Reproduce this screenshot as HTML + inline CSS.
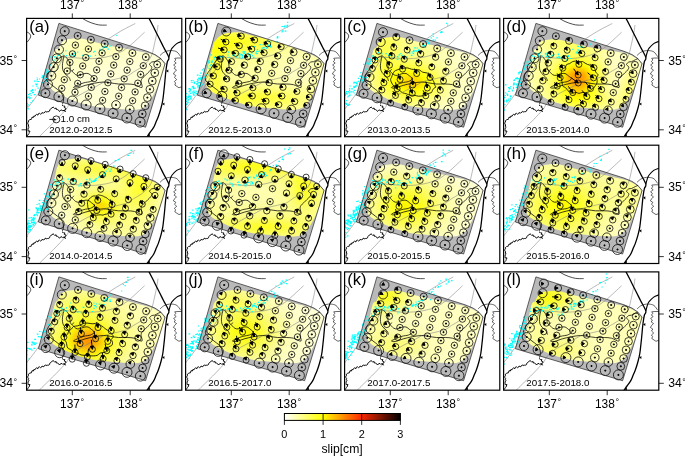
<!DOCTYPE html><html><head><meta charset="utf-8"><style>html,body{margin:0;padding:0;background:#fff;width:685px;height:456px;overflow:hidden}svg{display:block;will-change:transform}text{font-family:"Liberation Sans",sans-serif}</style></head><body>
<svg width="685" height="456" viewBox="0 0 685 456">
<defs>
<clipPath id="cf"><rect x="26.6" y="18.4" width="155.2" height="118.3"/></clipPath>
<clipPath id="ci0"><path d="M58.5,49 C59,48 60.2,44.6 61.5,43 C62.8,41.4 63.3,40.3 66.3,39.5 C69.3,38.7 75.1,37.9 79.5,38.2 C83.9,38.5 88.2,40.3 92.6,41.4 C97,42.5 101.4,43.7 105.8,44.7 C110.2,45.7 115,46.7 119,47.4 C123,48.2 126.5,48.7 130,49.4 C133.5,50 136.7,50.7 140,51.4 C143.3,52.1 147,52.5 150,53.5 C153,54.5 155.8,56.1 158,57.5 C160.2,58.9 162,60.4 163,62 C164,63.6 164.4,64.3 164,67 C163.6,69.7 161.8,74.3 160.5,78 C159.2,81.7 158.1,85.5 156.5,89 C154.9,92.5 152.8,96.2 151,99 C149.2,101.8 148.2,104.2 146,106 C143.8,107.8 140.7,108.9 138,109.5 C135.3,110.1 133.8,109.9 130,109.7 C126.2,109.5 119.9,108.9 115,108.5 C110.1,108.1 105.5,108.2 100.7,107.5 C95.9,106.8 90.8,105.8 86,104.6 C81.2,103.3 76.1,101.6 72,100 C67.9,98.4 64.4,96.5 61.3,95 C58.2,93.5 55.6,92.5 53.6,91 C51.6,89.5 50.4,88 49.5,86 C48.6,84 48.4,81.7 48.5,79 C48.6,76.3 49.3,73.2 50,70 C50.7,66.8 51.7,63.3 52.5,60 C53.3,56.7 54,51.8 55,50 C56,48.2 57.9,49.2 58.5,49"/></clipPath>
<clipPath id="ci1"><path d="M54.7,43 C55.5,42 57.8,38.6 59.7,37 C61.6,35.4 63,34.3 66.3,33.5 C69.6,32.7 75.1,31.9 79.5,32.2 C83.9,32.5 88.2,34.3 92.6,35.4 C97,36.5 101.4,37.6 105.8,38.7 C110.2,39.8 115,40.9 119,42.1 C123,43.3 126.5,44.7 130,45.9 C133.5,47.2 136.7,48.5 140,49.7 C143.3,51 147,52.2 150,53.5 C153,54.8 155.8,56.1 158,57.5 C160.2,58.9 162,60.4 163,62 C164,63.6 164.4,64.3 164,67 C163.6,69.7 161.8,74.3 160.5,78 C159.2,81.7 158.1,85.5 156.5,89 C154.9,92.5 152.8,96.2 151,99 C149.2,101.8 148.2,104.2 146,106 C143.8,107.8 140.7,108.9 138,109.5 C135.3,110.1 133.8,109.9 130,109.7 C126.2,109.5 119.9,108.9 115,108.5 C110.1,108.1 105.5,108.2 100.7,107.5 C95.9,106.8 90.8,105.8 86,104.6 C81.2,103.3 76.5,101.6 72,100 C67.5,98.4 62.7,96.5 59.3,95 C55.9,93.5 53.6,92.5 51.6,91 C49.6,89.5 48.4,88 47.5,86 C46.6,84 46.4,81.7 46.5,79 C46.6,76.3 47.3,73.2 48,70 C48.7,66.8 49.7,63.3 50.5,60 C51.3,56.7 52.3,52.8 53,50 C53.7,47.2 54.4,44.2 54.7,43"/></clipPath>
<clipPath id="ci2"><path d="M58.5,47.5 C59,46.5 59.8,43.1 61,41.5 C62.3,39.9 63.2,38.8 66.3,38 C69.4,37.2 75.1,36.4 79.5,36.7 C83.9,37 88.2,38.8 92.6,39.9 C97,41 101.4,42.2 105.8,43.2 C110.2,44.2 115,45.2 119,46.1 C123,47 126.5,47.7 130,48.5 C133.5,49.3 136.7,50.2 140,51 C143.3,51.8 147,52.4 150,53.5 C153,54.6 155.8,56.1 158,57.5 C160.2,58.9 162,60.4 163,62 C164,63.6 164.4,64.3 164,67 C163.6,69.7 161.8,74.3 160.5,78 C159.2,81.7 158.1,85.5 156.5,89 C154.9,92.5 152.8,96.2 151,99 C149.2,101.8 148.2,104.2 146,106 C143.8,107.8 140.7,108.9 138,109.5 C135.3,110.1 133.8,109.9 130,109.7 C126.2,109.5 119.9,108.9 115,108.5 C110.1,108.1 105.5,108.2 100.7,107.5 C95.9,106.8 90.8,105.8 86,104.6 C81.2,103.3 76,101.6 72,100 C68,98.4 64.8,96.5 61.8,95 C58.8,93.5 56.1,92.5 54.1,91 C52.1,89.5 50.9,88 50,86 C49.1,84 48.9,81.7 49,79 C49.1,76.3 49.8,73.2 50.5,70 C51.2,66.8 52.2,63.3 53,60 C53.8,56.7 54.6,52.1 55.5,50 C56.4,47.9 58,47.9 58.5,47.5"/></clipPath>
<clipPath id="ci3"><path d="M60.8,50 C61,49 60.9,45.6 61.8,44 C62.7,42.4 63.3,41.3 66.3,40.5 C69.2,39.7 75.1,38.9 79.5,39.2 C83.9,39.5 88.2,41.3 92.6,42.4 C97,43.5 101.4,44.7 105.8,45.7 C110.2,46.7 115,47.6 119,48.3 C123,49 126.5,49.4 130,49.9 C133.5,50.5 136.7,51.1 140,51.7 C143.3,52.3 147,52.5 150,53.5 C153,54.5 155.8,56.1 158,57.5 C160.2,58.9 162,60.4 163,62 C164,63.6 164.4,64.3 164,67 C163.6,69.7 161.8,74.3 160.5,78 C159.2,81.7 158.1,85.5 156.5,89 C154.9,92.5 152.8,96.2 151,99 C149.2,101.8 148.2,104.2 146,106 C143.8,107.8 140.7,108.9 138,109.5 C135.3,110.1 133.8,109.9 130,109.7 C126.2,109.5 119.9,108.9 115,108.5 C110.1,108.1 105.5,108.2 100.7,107.5 C95.9,106.8 90.8,105.8 86,104.6 C81.2,103.3 75.8,101.6 72,100 C68.2,98.4 66,96.5 63.3,95 C60.6,93.5 57.6,92.5 55.6,91 C53.6,89.5 52.4,88 51.5,86 C50.6,84 50.4,81.7 50.5,79 C50.6,76.3 51.3,73.2 52,70 C52.7,66.8 53.7,63.3 54.5,60 C55.3,56.7 56,51.7 57,50 C58,48.3 60.2,50 60.8,50"/></clipPath>
<clipPath id="ci4"><path d="M56.5,42.5 C57,41.5 57.9,38.1 59.5,36.5 C61.2,34.9 63,33.8 66.3,33 C69.6,32.2 75.1,31.4 79.5,31.7 C83.9,32 88.2,33.8 92.6,34.9 C97,36 101.4,37.1 105.8,38.2 C110.2,39.3 115,40.4 119,41.7 C123,42.9 126.5,44.3 130,45.6 C133.5,47 136.7,48.3 140,49.6 C143.3,50.9 147,52.2 150,53.5 C153,54.8 155.8,56.1 158,57.5 C160.2,58.9 162,60.4 163,62 C164,63.6 164.4,64.3 164,67 C163.6,69.7 161.8,74.3 160.5,78 C159.2,81.7 158.1,85.5 156.5,89 C154.9,92.5 152.8,96.2 151,99 C149.2,101.8 148.2,104.2 146,106 C143.8,107.8 140.7,108.9 138,109.5 C135.3,110.1 133.8,109.9 130,109.7 C126.2,109.5 119.9,108.9 115,108.5 C110.1,108.1 105.5,108.2 100.7,107.5 C95.9,106.8 90.8,105.8 86,104.6 C81.2,103.3 76.1,101.6 72,100 C67.9,98.4 64.4,96.5 61.3,95 C58.2,93.5 55.6,92.5 53.6,91 C51.6,89.5 50.4,88 49.5,86 C48.6,84 48.4,81.7 48.5,79 C48.6,76.3 49.3,73.2 50,70 C50.7,66.8 51.7,63.3 52.5,60 C53.3,56.7 54.3,52.9 55,50 C55.7,47.1 56.3,43.8 56.5,42.5"/></clipPath>
<clipPath id="ci5"><path d="M56.5,42.5 C57,41.5 57.9,38.1 59.5,36.5 C61.2,34.9 63,33.8 66.3,33 C69.6,32.2 75.1,31.4 79.5,31.7 C83.9,32 88.2,33.8 92.6,34.9 C97,36 101.4,37.1 105.8,38.2 C110.2,39.3 115,40.4 119,41.7 C123,42.9 126.5,44.3 130,45.6 C133.5,47 136.7,48.3 140,49.6 C143.3,50.9 147,52.2 150,53.5 C153,54.8 155.8,56.1 158,57.5 C160.2,58.9 162,60.4 163,62 C164,63.6 164.4,64.3 164,67 C163.6,69.7 161.8,74.3 160.5,78 C159.2,81.7 158.1,85.5 156.5,89 C154.9,92.5 152.8,96.2 151,99 C149.2,101.8 148.2,104.2 146,106 C143.8,107.8 140.7,108.9 138,109.5 C135.3,110.1 133.8,109.9 130,109.7 C126.2,109.5 119.9,108.9 115,108.5 C110.1,108.1 105.5,108.2 100.7,107.5 C95.9,106.8 90.8,105.8 86,104.6 C81.2,103.3 76.1,101.6 72,100 C67.9,98.4 64.4,96.5 61.3,95 C58.2,93.5 55.6,92.5 53.6,91 C51.6,89.5 50.4,88 49.5,86 C48.6,84 48.4,81.7 48.5,79 C48.6,76.3 49.3,73.2 50,70 C50.7,66.8 51.7,63.3 52.5,60 C53.3,56.7 54.3,52.9 55,50 C55.7,47.1 56.3,43.8 56.5,42.5"/></clipPath>
<clipPath id="ci6"><path d="M58.2,48 C58.7,47 59.9,43.6 61.2,42 C62.6,40.4 63.2,39.3 66.3,38.5 C69.3,37.7 75.1,36.9 79.5,37.2 C83.9,37.5 88.2,39.3 92.6,40.4 C97,41.5 101.4,42.7 105.8,43.7 C110.2,44.7 115,45.7 119,46.5 C123,47.4 126.5,48 130,48.8 C133.5,49.6 136.7,50.4 140,51.1 C143.3,51.9 147,52.4 150,53.5 C153,54.6 155.8,56.1 158,57.5 C160.2,58.9 162,60.4 163,62 C164,63.6 164.4,64.3 164,67 C163.6,69.7 161.8,74.3 160.5,78 C159.2,81.7 158.1,85.5 156.5,89 C154.9,92.5 152.8,96.2 151,99 C149.2,101.8 148.2,104.2 146,106 C143.8,107.8 140.7,108.9 138,109.5 C135.3,110.1 133.8,109.9 130,109.7 C126.2,109.5 119.9,108.9 115,108.5 C110.1,108.1 105.5,108.2 100.7,107.5 C95.9,106.8 90.8,105.8 86,104.6 C81.2,103.3 76.1,101.6 72,100 C67.9,98.4 64.4,96.5 61.3,95 C58.2,93.5 55.6,92.5 53.6,91 C51.6,89.5 50.4,88 49.5,86 C48.6,84 48.4,81.7 48.5,79 C48.6,76.3 49.3,73.2 50,70 C50.7,66.8 51.7,63.3 52.5,60 C53.3,56.7 54,52 55,50 C56,48 57.7,48.3 58.2,48"/></clipPath>
<clipPath id="ci7"><path d="M58.2,48 C58.7,47 59.9,43.6 61.2,42 C62.6,40.4 63.2,39.3 66.3,38.5 C69.3,37.7 75.1,36.9 79.5,37.2 C83.9,37.5 88.2,39.3 92.6,40.4 C97,41.5 101.4,42.7 105.8,43.7 C110.2,44.7 115,45.7 119,46.5 C123,47.4 126.5,48 130,48.8 C133.5,49.6 136.7,50.4 140,51.1 C143.3,51.9 147,52.4 150,53.5 C153,54.6 155.8,56.1 158,57.5 C160.2,58.9 162,60.4 163,62 C164,63.6 164.4,64.3 164,67 C163.6,69.7 161.8,74.3 160.5,78 C159.2,81.7 158.1,85.5 156.5,89 C154.9,92.5 152.8,96.2 151,99 C149.2,101.8 148.2,104.2 146,106 C143.8,107.8 140.7,108.9 138,109.5 C135.3,110.1 133.8,109.9 130,109.7 C126.2,109.5 119.9,108.9 115,108.5 C110.1,108.1 105.5,108.2 100.7,107.5 C95.9,106.8 90.8,105.8 86,104.6 C81.2,103.3 76.1,101.6 72,100 C67.9,98.4 64.4,96.5 61.3,95 C58.2,93.5 55.6,92.5 53.6,91 C51.6,89.5 50.4,88 49.5,86 C48.6,84 48.4,81.7 48.5,79 C48.6,76.3 49.3,73.2 50,70 C50.7,66.8 51.7,63.3 52.5,60 C53.3,56.7 54,52 55,50 C56,48 57.7,48.3 58.2,48"/></clipPath>
<clipPath id="ci8"><path d="M57.9,47 C58.4,46 59.5,42.6 60.9,41 C62.3,39.4 63.2,38.3 66.3,37.5 C69.4,36.7 75.1,35.9 79.5,36.2 C83.9,36.5 88.2,38.3 92.6,39.4 C97,40.5 101.4,41.7 105.8,42.7 C110.2,43.7 115,44.7 119,45.7 C123,46.6 126.5,47.3 130,48.2 C133.5,49.1 136.7,50 140,50.9 C143.3,51.7 147,52.4 150,53.5 C153,54.6 155.8,56.1 158,57.5 C160.2,58.9 162,60.4 163,62 C164,63.6 164.4,64.3 164,67 C163.6,69.7 161.8,74.3 160.5,78 C159.2,81.7 158.1,85.5 156.5,89 C154.9,92.5 152.8,96.2 151,99 C149.2,101.8 148.2,104.2 146,106 C143.8,107.8 140.7,108.9 138,109.5 C135.3,110.1 133.8,109.9 130,109.7 C126.2,109.5 119.9,108.9 115,108.5 C110.1,108.1 105.5,108.2 100.7,107.5 C95.9,106.8 90.8,105.8 86,104.6 C81.2,103.3 76.1,101.6 72,100 C67.9,98.4 64.4,96.5 61.3,95 C58.2,93.5 55.6,92.5 53.6,91 C51.6,89.5 50.4,88 49.5,86 C48.6,84 48.4,81.7 48.5,79 C48.6,76.3 49.3,73.2 50,70 C50.7,66.8 51.7,63.3 52.5,60 C53.3,56.7 54.1,52.2 55,50 C55.9,47.8 57.4,47.5 57.9,47"/></clipPath>
<clipPath id="ci9"><path d="M57.9,47 C58.4,46 59.5,42.6 60.9,41 C62.3,39.4 63.2,38.3 66.3,37.5 C69.4,36.7 75.1,35.9 79.5,36.2 C83.9,36.5 88.2,38.3 92.6,39.4 C97,40.5 101.4,41.7 105.8,42.7 C110.2,43.7 115,44.7 119,45.7 C123,46.6 126.5,47.3 130,48.2 C133.5,49.1 136.7,50 140,50.9 C143.3,51.7 147,52.4 150,53.5 C153,54.6 155.8,56.1 158,57.5 C160.2,58.9 162,60.4 163,62 C164,63.6 164.4,64.3 164,67 C163.6,69.7 161.8,74.3 160.5,78 C159.2,81.7 158.1,85.5 156.5,89 C154.9,92.5 152.8,96.2 151,99 C149.2,101.8 148.2,104.2 146,106 C143.8,107.8 140.7,108.9 138,109.5 C135.3,110.1 133.8,109.9 130,109.7 C126.2,109.5 119.9,108.9 115,108.5 C110.1,108.1 105.5,108.2 100.7,107.5 C95.9,106.8 90.8,105.8 86,104.6 C81.2,103.3 76.1,101.6 72,100 C67.9,98.4 64.4,96.5 61.3,95 C58.2,93.5 55.6,92.5 53.6,91 C51.6,89.5 50.4,88 49.5,86 C48.6,84 48.4,81.7 48.5,79 C48.6,76.3 49.3,73.2 50,70 C50.7,66.8 51.7,63.3 52.5,60 C53.3,56.7 54.1,52.2 55,50 C55.9,47.8 57.4,47.5 57.9,47"/></clipPath>
<clipPath id="ci10"><path d="M58.2,48 C58.7,47 59.9,43.6 61.2,42 C62.6,40.4 63.2,39.3 66.3,38.5 C69.3,37.7 75.1,36.9 79.5,37.2 C83.9,37.5 88.2,39.3 92.6,40.4 C97,41.5 101.4,42.7 105.8,43.7 C110.2,44.7 115,45.7 119,46.5 C123,47.4 126.5,48 130,48.8 C133.5,49.6 136.7,50.4 140,51.1 C143.3,51.9 147,52.4 150,53.5 C153,54.6 155.8,56.1 158,57.5 C160.2,58.9 162,60.4 163,62 C164,63.6 164.4,64.3 164,67 C163.6,69.7 161.8,74.3 160.5,78 C159.2,81.7 158.1,85.5 156.5,89 C154.9,92.5 152.8,96.2 151,99 C149.2,101.8 148.2,104.2 146,106 C143.8,107.8 140.7,108.9 138,109.5 C135.3,110.1 133.8,109.9 130,109.7 C126.2,109.5 119.9,108.9 115,108.5 C110.1,108.1 105.5,108.2 100.7,107.5 C95.9,106.8 90.8,105.8 86,104.6 C81.2,103.3 76.1,101.6 72,100 C67.9,98.4 64.4,96.5 61.3,95 C58.2,93.5 55.6,92.5 53.6,91 C51.6,89.5 50.4,88 49.5,86 C48.6,84 48.4,81.7 48.5,79 C48.6,76.3 49.3,73.2 50,70 C50.7,66.8 51.7,63.3 52.5,60 C53.3,56.7 54,52 55,50 C56,48 57.7,48.3 58.2,48"/></clipPath>
<clipPath id="ci11"><path d="M58.2,48 C58.7,47 59.9,43.6 61.2,42 C62.6,40.4 63.2,39.3 66.3,38.5 C69.3,37.7 75.1,36.9 79.5,37.2 C83.9,37.5 88.2,39.3 92.6,40.4 C97,41.5 101.4,42.7 105.8,43.7 C110.2,44.7 115,45.7 119,46.5 C123,47.4 126.5,48 130,48.8 C133.5,49.6 136.7,50.4 140,51.1 C143.3,51.9 147,52.4 150,53.5 C153,54.6 155.8,56.1 158,57.5 C160.2,58.9 162,60.4 163,62 C164,63.6 164.4,64.3 164,67 C163.6,69.7 161.8,74.3 160.5,78 C159.2,81.7 158.1,85.5 156.5,89 C154.9,92.5 152.8,96.2 151,99 C149.2,101.8 148.2,104.2 146,106 C143.8,107.8 140.7,108.9 138,109.5 C135.3,110.1 133.8,109.9 130,109.7 C126.2,109.5 119.9,108.9 115,108.5 C110.1,108.1 105.5,108.2 100.7,107.5 C95.9,106.8 90.8,105.8 86,104.6 C81.2,103.3 76.1,101.6 72,100 C67.9,98.4 64.4,96.5 61.3,95 C58.2,93.5 55.6,92.5 53.6,91 C51.6,89.5 50.4,88 49.5,86 C48.6,84 48.4,81.7 48.5,79 C48.6,76.3 49.3,73.2 50,70 C50.7,66.8 51.7,63.3 52.5,60 C53.3,56.7 54,52 55,50 C56,48 57.7,48.3 58.2,48"/></clipPath>
<filter id="bl" x="-20%" y="-20%" width="140%" height="140%"><feGaussianBlur stdDeviation="1.8"/></filter>
<g id="lines"><path d="M26,110 C27.2,108.5 30.8,104 33,101 C35.2,98 37.5,95 39.5,92 C41.5,89 43.2,86 45,83 C46.8,80 48.3,77.2 50,74 C51.7,70.8 53.3,66.8 55,64 C56.7,61.2 57.5,58.6 60,57.5 C62.5,56.4 66.7,57.4 70,57.5 C73.3,57.6 77.3,58 80,58.2 C82.7,58.4 82.8,58.8 86,58.8 C89.2,58.8 94.8,58.6 99.2,58.1 C103.6,57.6 108.4,56.7 112.3,55.5 C116.2,54.3 119.7,52.6 122.8,50.9 C125.9,49.1 128.3,47 130.7,45 C133.1,43 135,41.1 137.3,39 C139.6,36.9 143.4,33.3 144.6,32.2" fill="none" stroke="#808080" stroke-width="0.55"/><path d="M41.3,93.7 C42.4,91.9 45.7,86.6 48,83 C50.3,79.4 53,75.2 55,72 C57,68.8 58.4,66.8 60,64 C61.6,61.2 63.7,56.8 64.4,55.3" fill="none" stroke="#808080" stroke-width="0.55"/><path d="M38.9,137 C40.1,135.8 43.5,132.4 46,130 C48.5,127.6 51.3,124.9 53.6,122.6 C55.9,120.3 57.9,118.3 60,116 C62.1,113.7 65,110.8 66.5,108.8 C68,106.8 67.9,106 69.3,104.2 C70.7,102.4 72.4,100 75,98 C77.6,96 81.7,93.8 85,92 C88.3,90.2 91.7,88.7 95,87 C98.3,85.3 101.9,83 105.1,81.8 C108.3,80.5 111,80.2 114,79.5 C117,78.8 120.5,78 122.8,77.4 C125.1,76.8 126.2,76.8 128,75.9 C129.8,75 131.2,73.4 133.4,72 C135.6,70.6 138.9,69.1 141.3,67.3 C143.7,65.5 146.1,63.5 147.8,61.4 C149.6,59.3 150.7,57.6 151.8,54.8 C152.9,51.9 153.5,48.1 154.4,44.3 C155.3,40.5 156.4,35 157,31.8 C157.6,28.6 157.8,26.1 158,25" fill="none" stroke="#808080" stroke-width="0.55"/><path d="M108.4,39 C109.7,38.1 113.5,35.5 116.3,33.8 C119.1,32 122.3,30.2 125.5,28.5 C128.7,26.8 133.7,24.3 135.3,23.5" fill="none" stroke="#808080" stroke-width="0.55"/><path d="M81,17.5 C82.2,18.2 85.6,20.4 88,21.5 C90.4,22.6 93.4,23.6 95.6,24.2 C97.8,24.8 99.2,25 101,25.1 C102.8,25.2 105.8,25.1 106.7,25.1" fill="none" stroke="#000" stroke-width="0.7"/><path d="M26,31.6 C26.6,31.9 28.7,32.7 29.5,33.6 C30.3,34.5 31,35.6 30.6,37 C30.2,38.4 28.2,41 27.4,41.8 C26.6,42.6 26.2,42 26,42" fill="none" stroke="#000" stroke-width="0.7"/><path d="M26.5,136.5 L27.2,135.8 L27.8,135 L28.4,134.2 L29.1,133.5 L29.3,132.5 L30,131.1 L28.2,131.1 L28.1,129.9 L28.1,129.3 L28.2,128.1 L29.1,127.3 L28.4,126.2 L28.6,124.9 L27.8,123.9 L27.9,122.7 L28.5,122 L28.4,120.7 L29.2,120.2 L29.9,119.5 L31.3,119.4 L31.6,118.6 L32,117.2 L33.4,117.5 L33.8,116.1 L35.1,116.2 L35.6,115 L36.4,114.4 L38,115.1 L38.4,113.7 L39.4,113.3 L40.6,114.2 L41.5,113.7 L42.1,112.5 L43.3,113.3 L44,112.4 L45,112.3 L45.7,111.3 L46.9,112.2 L47.7,111.6 L48.9,111.6 L49.6,111 L49.8,109.7 L50.6,109.2 L51.2,108.4 L51.9,107.9 L53.2,107.1 L54,107.8 L54.7,108.6 L56.1,108 L56.4,109.5 L57.6,109.6 L58.6,110.2 L59.5,111.5 L60.2,110.6 L61,110.1 L62,110 L62.7,110.8 L64.1,110.3 L65.4,111.7 L64.4,110 L66,109.1 L65.8,108.1 L64.3,107.6 L64.9,106.1 L63.7,106.2 L63,105.5 L62,105.1" fill="none" stroke="#000" stroke-width="0.95" stroke-linejoin="round"/><path d="M62.4,104.2 C62.6,103.5 63.5,101.5 63.5,100 C63.5,98.5 63.2,96.5 62.5,95 C61.8,93.5 60.8,92.2 59.5,91 C58.2,89.8 56.5,88.7 55,87.5 C53.5,86.3 51.9,85.2 50.5,84 C49.1,82.8 47,81.5 46.5,80 C46,78.5 46.8,76.6 47.5,75 C48.2,73.4 49.5,72 50.5,70.5 C51.5,69 52.4,67.6 53.5,66 C54.6,64.4 55.9,62.4 57,61 C58.1,59.6 58.8,58.4 60,57.5 C61.2,56.6 63.5,56 64.2,55.7" fill="none" stroke="#000" stroke-width="0.75"/><path d="M64.2,55.7 C64,56.7 63.2,59.7 62.9,61.4 C62.6,63.1 62.4,64.3 62.4,65.8 C62.4,67.3 62.5,68.9 62.9,70.2 C63.3,71.5 64.3,72.8 65,73.7 C65.7,74.6 66.3,74.8 67,75.5 C67.7,76.2 68.8,77.1 69.4,78 C70,78.9 70.3,80.5 70.5,81" fill="none" stroke="#000" stroke-width="0.75"/><path d="M65.5,56.5 C65.8,56.9 66.8,58.1 67.5,59 C68.2,59.9 69,60.8 69.4,62 C69.8,63.2 69.8,64.8 70,66 C70.2,67.2 70,68.5 70.3,69.3 C70.6,70.1 71.4,71 72,71 C72.6,71 73.5,69.3 73.8,69" fill="none" stroke="#000" stroke-width="0.75"/><path d="M72,71 C72.6,71.6 74.4,73.9 75.6,74.6 C76.8,75.3 77.7,75.6 79.1,75.4 C80.5,75.2 82.5,74 84,73.7 C85.5,73.4 86.7,73.1 88,73.5 C89.3,73.9 90.7,75.3 91.8,76.2 C92.9,77.1 94.6,77.9 94.4,78.8 C94.2,79.7 92.2,80.8 90.5,81.5 C88.8,82.2 86.1,82.1 83.9,82.8 C81.7,83.5 79,84.6 77.3,85.4 C75.5,86.2 73.4,87.1 73.4,87.5 C73.4,87.9 75.3,88.3 77.3,88 C79.3,87.7 82.3,86.2 85.2,85.4 C88.1,84.6 91.3,83.8 94.4,83.2 C97.5,82.6 101,82.1 103.6,82 C106.2,81.9 107.7,82.5 110.2,82.8 C112.7,83.1 115.6,83.8 118.4,84 C121.2,84.2 124.5,83.9 127.2,84 C129.9,84.1 132.1,84.1 134.5,84.7 C136.9,85.3 140.8,88.1 141.9,87.6 C143,87.1 141.1,83.3 141.1,81.8 C141.1,80.3 141.3,79.8 141.9,78.8 C142.5,77.8 143.8,76.9 144.8,75.9 C145.8,74.9 146.8,73.9 147.8,72.9 C148.8,71.9 150,71 150.7,70 C151.4,69 152,67.9 151.8,67 C151.6,66.1 149.5,65.3 149.5,64.5 C149.5,63.7 151,62.5 151.8,62 C152.6,61.5 153.4,62.1 154.5,61.7 C155.6,61.3 157.3,60.2 158.4,59.7 C159.5,59.2 160.6,58.7 161,58.5" fill="none" stroke="#000" stroke-width="0.75"/><path d="M160,55.5 C160.6,55 162.3,53.2 163.5,52.5 C164.7,51.8 165.6,51.3 167,51 C168.4,50.7 170.4,50.4 172.1,50.6 C173.8,50.8 175.6,51 177,52 C178.4,53 180.1,55.9 180.7,56.7" fill="none" stroke="#000" stroke-width="0.6"/></g>
<g id="trench"><path d="M148.3,17 C149.1,18.5 151.4,22.8 153,26 C154.6,29.2 156.2,32.5 158,36 C159.8,39.5 161.7,43.4 163.5,47 C165.3,50.6 168.2,54.9 168.8,57.4 C169.4,59.9 167.8,59.9 167.3,62 C166.8,64.1 166.4,67 166,70 C165.6,73 165.3,76.7 165,80 C164.7,83.3 164.4,86.7 164,90 C163.6,93.3 163.3,97 162.8,100 C162.3,103 161.7,105.4 161,108 C160.3,110.6 159.4,113.5 158.6,115.8 C157.8,118.1 156.8,120 156,122 C155.2,124 154.5,126 153.5,127.7 C152.5,129.4 151.2,130.9 150,132.5 C148.8,134.1 147.1,136.7 146.5,137.5" fill="none" stroke="#000" stroke-width="1.3"/><path d="M168.8,57.4 C169.1,56.5 169.8,53.5 170.3,52 C170.9,50.5 171,49.6 172.1,48.2 C173.2,46.8 175.2,44.7 176.7,43.6 C178.2,42.5 180.2,42 181.3,41.6 C182.4,41.2 182.7,41.3 183,41.3" fill="none" stroke="#000" stroke-width="1.1"/><path d="M183,58 L178,58 L174.7,58.3 L175.9,60 L174.3,61.5 L176.2,63 L173.6,65 L175.4,66.5 L174.2,68.5 L176.5,70 L174.6,72 L173.4,74 L175.8,75.5 L174.5,77.5 L176.7,79.5 L174.4,81.5 L175.6,83 L174.8,85 L177,86.5 L179,87.8 L181,87 L183,87.2" fill="#fff" stroke="#000" stroke-width="0.6"/><path d="M166.1,71 l2.2,-1.6 l0,3.2z" fill="#000"/><path d="M162.2,104 l2.2,-1.6 l0,3.2z" fill="#000"/><path d="M147.6,135.6 l2.2,-1.6 l0,3.2z" fill="#000"/></g>
</defs>
<g transform="translate(0,0)"><g clip-path="url(#cf)"><rect x="26.6" y="18.4" width="155.2" height="118.3" fill="#fff"/><polygon points="58.9,23.4 147,51.3 155,54.6 160.5,58.3 165.1,63.6 145.6,127.2 38.4,95.2" fill="#b9b9b9"/><g clip-path="url(#ci0)"><g filter="url(#bl)"><path fill="#ffffd6" d="M152 52h12v4h-12zM144 56h24v4h-24zM136 60h32v4h-32zM120 64h48v4h-48zM92 68h76v4h-76zM80 72h88v4h-88zM76 76h88v4h-88zM44 80h4v4h-4zM76 80h88v4h-88zM44 84h4v4h-4zM72 84h92v4h-92zM44 88h4v4h-4zM72 88h88v4h-88zM48 92h4v4h-4zM68 92h92v4h-92zM64 96h92v4h-92zM64 100h92v4h-92zM76 104h76v4h-76zM88 108h60v4h-60zM120 112h20v4h-20z"/><path fill="#ffffcc" d="M72 32h4v4h-4zM60 36h4v4h-4zM56 40h4v4h-4zM52 44h4v4h-4zM132 44h4v4h-4zM48 48h8v4h-8zM132 48h24v4h-24zM48 52h4v4h-4zM124 52h28v4h-28zM48 56h4v4h-4zM108 56h36v4h-36zM48 60h4v4h-4zM88 60h48v4h-48zM44 64h8v4h-8zM72 64h48v4h-48zM44 68h12v4h-12zM68 68h24v4h-24zM44 72h12v4h-12zM68 72h12v4h-12zM44 76h12v4h-12zM64 76h12v4h-12zM48 80h28v4h-28zM48 84h24v4h-24zM48 88h24v4h-24zM52 92h16v4h-16zM56 96h8v4h-8z"/><path fill="#ffffc1" d="M76 32h8v4h-8zM64 36h24v4h-24zM60 40h12v4h-12zM56 44h12v4h-12zM120 44h12v4h-12zM56 48h8v4h-8zM116 48h16v4h-16zM52 52h12v4h-12zM96 52h28v4h-28zM52 56h56v4h-56zM52 60h36v4h-36zM52 64h20v4h-20zM56 68h12v4h-12zM56 72h12v4h-12zM56 76h8v4h-8z"/><path fill="#ffffb7" d="M88 36h12v4h-12zM72 40h44v4h-44zM68 44h52v4h-52zM64 48h52v4h-52zM64 52h32v4h-32z"/></g></g><use href="#lines"/><path d="M30.5,94.9h1.2v1.2h-1.2zM30.6,90h1.7v1.2h-1.7zM32.1,100.3h1.2v1.2h-1.2zM41.4,82h1.7v1.2h-1.7zM34.6,94h1.2v1.2h-1.2zM20.7,99.8h1.2v1.2h-1.2zM28.8,96.4h1.2v1.2h-1.2zM31.3,90.4h1.2v1.2h-1.2zM27.4,96.6h1.2v1.2h-1.2zM36.7,78.9h1.2v1.2h-1.2zM43.7,75.2h1.2v1.2h-1.2zM36.6,77.4h1.2v1.2h-1.2zM38.9,78.4h1.2v1.2h-1.2zM42.6,76.5h1.2v1.2h-1.2zM26.7,105.5h1.2v1.2h-1.2zM25,96.2h1.7v1.2h-1.7zM29.2,93.1h1.7v1.2h-1.7zM32.2,90h1.2v1.2h-1.2zM24.6,94h1.2v1.2h-1.2zM33.7,94.1h1.7v1.2h-1.7zM34,80.6h1.2v1.2h-1.2zM37.5,87.5h1.2v1.2h-1.2zM24.2,92.9h1.2v1.2h-1.2zM41.3,76.8h1.7v1.2h-1.7zM36.4,80.5h1.2v1.2h-1.2zM29.1,98.1h1.2v1.2h-1.2zM31.9,88.9h1.2v1.2h-1.2zM32.4,85.4h1.2v1.2h-1.2zM26.6,102.8h1.2v1.2h-1.2zM41.8,75.3h1.7v1.2h-1.7zM32,92h1.2v1.2h-1.2zM30.4,101.9h1.2v1.2h-1.2zM26.1,97.4h1.2v1.2h-1.2zM27,97.4h1.2v1.2h-1.2zM35.7,83.9h1.2v1.2h-1.2zM24.4,103.1h1.2v1.2h-1.2zM30.1,97.3h1.2v1.2h-1.2zM36.2,85.6h1.2v1.2h-1.2zM28,96.6h1.7v1.2h-1.7zM35.5,83.7h1.7v1.2h-1.7zM37.6,80.9h1.7v1.2h-1.7zM30.4,90.5h1.7v1.2h-1.7zM24.9,106.7h1.7v1.2h-1.7zM32.2,92.1h1.7v1.2h-1.7zM36.7,83.4h1.2v1.2h-1.2zM45.3,80.2h1.7v1.2h-1.7zM37.7,91.4h1.7v1.2h-1.7zM35.2,83.4h1.2v1.2h-1.2zM28,94.1h1.2v1.2h-1.2zM26.6,97.4h1.2v1.2h-1.2zM34.8,89.4h1.2v1.2h-1.2zM25.6,103.1h1.7v1.2h-1.7zM47.3,70.7h1.7v1.2h-1.7zM54.2,59.4h1.7v1.2h-1.7zM49.8,64.2h1.7v1.2h-1.7zM46,77.8h1.2v1.2h-1.2zM49.5,56.2h1.2v1.2h-1.2zM45.6,71.6h1.7v1.2h-1.7zM57.8,54.9h1.2v1.2h-1.2zM44.8,73.6h1.7v1.2h-1.7zM54,56.3h1.7v1.2h-1.7zM51.2,59.8h1.2v1.2h-1.2zM43.4,78.2h1.2v1.2h-1.2zM54.7,56.4h1.7v1.2h-1.7zM57,57.6h1.2v1.2h-1.2zM44.6,72.8h1.2v1.2h-1.2zM56.9,55.6h1.2v1.2h-1.2zM45.5,69.2h1.7v1.2h-1.7zM82.2,54.7h1.2v1.2h-1.2zM70.4,54.6h1.7v1.2h-1.7zM65.8,55h1.2v1.2h-1.2zM87.7,55.1h1.2v1.2h-1.2zM109.3,45.5h1.2v1.2h-1.2zM65.2,50.3h1.2v1.2h-1.2zM93.1,51.5h1.2v1.2h-1.2zM74.2,55.8h1.2v1.2h-1.2zM104.5,45.4h1.7v1.2h-1.7zM104,46.8h1.2v1.2h-1.2zM77.1,51.6h1.2v1.2h-1.2zM73,54.5h1.2v1.2h-1.2zM72.3,54.6h1.2v1.2h-1.2zM87.7,55.3h1.7v1.2h-1.7zM73.9,52.6h1.7v1.2h-1.7zM62.5,53.5h1.2v1.2h-1.2zM107.3,48.5h1.7v1.2h-1.7zM99.5,49.9h1.2v1.2h-1.2zM103.2,50.4h1.2v1.2h-1.2zM105.7,46.9h1.7v1.2h-1.7zM102.3,47.4h1.7v1.2h-1.7zM94.9,54.7h1.2v1.2h-1.2zM94.3,50.7h1.2v1.2h-1.2zM107.2,42.7h1.2v1.2h-1.2zM99.3,48.8h1.2v1.2h-1.2zM74.4,55h1.2v1.2h-1.2zM89.7,55.5h1.2v1.2h-1.2zM110.8,45.1h1.2v1.2h-1.2zM116.3,34.8h1.2v1.2h-1.2zM25.6,106.4h1.2v1.2h-1.2zM27.6,104.2h1.2v1.2h-1.2zM27.9,108.3h1.2v1.2h-1.2z" fill="#00ffff"/><g fill="none" stroke="#000" stroke-width="0.75"><circle cx="64.7" cy="31.2" r="4.5"/><circle cx="62" cy="40.2" r="4.5"/><circle cx="59" cy="49.6" r="4.5"/><circle cx="56.8" cy="58.3" r="4.5"/><circle cx="53.7" cy="67.1" r="4.5"/><circle cx="51.3" cy="75.8" r="4.5"/><circle cx="48" cy="84.4" r="4.5"/><circle cx="45.4" cy="93.2" r="4.5"/><circle cx="77.7" cy="35.8" r="3.5"/><circle cx="75.4" cy="45.1" r="3.2"/><circle cx="72.5" cy="53.9" r="3.2"/><circle cx="69.9" cy="62.4" r="3.2"/><circle cx="67.2" cy="71" r="3.2"/><circle cx="64.3" cy="79.7" r="3.2"/><circle cx="61.8" cy="88.3" r="3.2"/><circle cx="58.9" cy="96.7" r="5"/><circle cx="90.9" cy="39.7" r="3.5"/><circle cx="88.4" cy="49" r="3.2"/><circle cx="85.8" cy="57.6" r="3.2"/><circle cx="82.7" cy="66" r="3.2"/><circle cx="80.3" cy="74.7" r="3.2"/><circle cx="77.7" cy="83.4" r="3.2"/><circle cx="75" cy="92.2" r="3.2"/><circle cx="72.4" cy="101" r="5"/><circle cx="104.7" cy="43.8" r="3.5"/><circle cx="102.1" cy="52.9" r="3.2"/><circle cx="99" cy="61.3" r="3.2"/><circle cx="96.7" cy="69.9" r="3.2"/><circle cx="94" cy="78.6" r="3.2"/><circle cx="91.3" cy="87.4" r="3.2"/><circle cx="88.5" cy="96.2" r="3.2"/><circle cx="86.1" cy="105" r="5"/><circle cx="119.1" cy="47.6" r="3.5"/><circle cx="115.9" cy="56.6" r="3.2"/><circle cx="113.7" cy="65.1" r="3.2"/><circle cx="110.8" cy="73.9" r="3.2"/><circle cx="107.9" cy="82.7" r="3.2"/><circle cx="104.9" cy="91.5" r="3.2"/><circle cx="102.6" cy="100.3" r="3.2"/><circle cx="99.9" cy="108.8" r="5"/><circle cx="132.4" cy="53" r="3.5"/><circle cx="129.8" cy="61.5" r="3.2"/><circle cx="127.1" cy="70.1" r="3.2"/><circle cx="124.2" cy="78.8" r="3.2"/><circle cx="121.5" cy="87.5" r="3.2"/><circle cx="118.7" cy="96.2" r="3.2"/><circle cx="116" cy="104.9" r="4.3"/><circle cx="113.1" cy="113.4" r="5"/><circle cx="145.8" cy="57" r="3.5"/><circle cx="143.3" cy="65.7" r="3.2"/><circle cx="140.6" cy="74.4" r="3.2"/><circle cx="137.8" cy="83.2" r="3.2"/><circle cx="135.1" cy="91.9" r="3.2"/><circle cx="132.6" cy="100.7" r="3.2"/><circle cx="129.8" cy="109.4" r="4.3"/><circle cx="126.9" cy="118" r="5"/><circle cx="157.2" cy="64.5" r="3.5"/><circle cx="154.8" cy="72.8" r="3.9"/><circle cx="152.3" cy="81" r="3.9"/><circle cx="149.9" cy="89.3" r="3.9"/><circle cx="147.4" cy="97.6" r="3.9"/><circle cx="145.2" cy="105.8" r="3.9"/><circle cx="142.3" cy="113.9" r="3.9"/><circle cx="140.1" cy="122.1" r="5"/></g><path d="M64.2,30.7h1v1h-1zM61.5,39.7h1v1h-1zM58.5,49.1h1v1h-1zM56.3,57.8h1v1h-1zM53.2,66.6h1v1h-1zM50.8,75.3h1v1h-1zM47.5,83.9h1v1h-1zM44.9,92.7h1v1h-1zM77.2,35.3h1v1h-1zM74.9,44.6h1v1h-1zM72,53.4h1v1h-1zM69.4,61.9h1v1h-1zM66.7,70.5h1v1h-1zM63.8,79.2h1v1h-1zM61.3,87.8h1v1h-1zM58.4,96.2h1v1h-1zM90.4,39.2h1v1h-1zM87.9,48.5h1v1h-1zM85.3,57.1h1v1h-1zM82.2,65.5h1v1h-1zM79.8,74.2h1v1h-1zM77.2,82.9h1v1h-1zM74.5,91.7h1v1h-1zM71.9,100.5h1v1h-1zM104.2,43.3h1v1h-1zM101.6,52.4h1v1h-1zM98.5,60.8h1v1h-1zM96.2,69.4h1v1h-1zM93.5,78.1h1v1h-1zM90.8,86.9h1v1h-1zM88,95.7h1v1h-1zM85.6,104.5h1v1h-1zM118.6,47.1h1v1h-1zM115.4,56.1h1v1h-1zM113.2,64.6h1v1h-1zM110.3,73.4h1v1h-1zM107.4,82.2h1v1h-1zM104.4,91h1v1h-1zM102.1,99.8h1v1h-1zM99.4,108.3h1v1h-1zM131.9,52.5h1v1h-1zM129.3,61h1v1h-1zM126.6,69.6h1v1h-1zM123.7,78.3h1v1h-1zM121,87h1v1h-1zM118.2,95.7h1v1h-1zM115.5,104.4h1v1h-1zM112.6,112.9h1v1h-1zM145.3,56.5h1v1h-1zM142.8,65.2h1v1h-1zM140.1,73.9h1v1h-1zM137.3,82.7h1v1h-1zM134.6,91.4h1v1h-1zM132.1,100.2h1v1h-1zM129.3,108.9h1v1h-1zM126.4,117.5h1v1h-1zM156.7,64h1v1h-1zM154.3,72.3h1v1h-1zM151.8,80.5h1v1h-1zM149.4,88.8h1v1h-1zM146.9,97.1h1v1h-1zM144.7,105.3h1v1h-1zM141.8,113.4h1v1h-1zM139.6,121.6h1v1h-1z" fill="#000" stroke="#000" stroke-width="0.95"/><polygon points="58.9,23.4 147,51.3 155,54.6 160.5,58.3 165.1,63.6 145.6,127.2 38.4,95.2" fill="none" stroke="#222" stroke-width="0.7"/><use href="#trench"/></g><rect x="26.6" y="18.4" width="155.2" height="118.3" fill="none" stroke="#000" stroke-width="1.2"/><path d="M72.3,18.4v-5M130.2,18.4v-5M26.6,60.5h-5M26.6,129.8h-5" stroke="#000" stroke-width="0.8"/><text x="29.3" y="31.8" font-size="16.6">(a)</text><text x="49.3" y="132.6" font-size="9.8">2012.0-2012.5</text><path d="M49.4,119.4h4" stroke="#000" stroke-width="0.9"/><path d="M56.3,119.4l-2.8,-1.5v3z" fill="#000"/><circle cx="56.3" cy="119.4" r="3.5" fill="none" stroke="#000" stroke-width="0.8"/><text x="60.6" y="122.4" font-size="9.8">1.0 cm</text></g>
<g transform="translate(159,0)"><g clip-path="url(#cf)"><rect x="26.6" y="18.4" width="155.2" height="118.3" fill="#fff"/><polygon points="58.9,23.4 147,51.3 155,54.6 160.5,58.3 165.1,63.6 145.6,127.2 38.4,95.2" fill="#b9b9b9"/><g clip-path="url(#ci1)"><g filter="url(#bl)"><path fill="#ffffc1" d="M136 60h8v4h-8zM132 64h16v4h-16zM128 68h24v4h-24zM128 72h24v4h-24zM132 76h16v4h-16z"/><path fill="#ffffb7" d="M132 56h20v4h-20zM128 60h8v4h-8zM144 60h12v4h-12zM124 64h8v4h-8zM148 64h8v4h-8zM120 68h8v4h-8zM152 68h8v4h-8zM120 72h8v4h-8zM152 72h8v4h-8zM124 76h8v4h-8zM148 76h8v4h-8zM128 80h24v4h-24z"/><path fill="#ffffad" d="M140 48h16v4h-16zM132 52h32v4h-32zM124 56h8v4h-8zM152 56h16v4h-16zM116 60h12v4h-12zM156 60h12v4h-12zM112 64h12v4h-12zM156 64h12v4h-12zM112 68h8v4h-8zM160 68h8v4h-8zM108 72h12v4h-12zM160 72h8v4h-8zM112 76h12v4h-12zM156 76h8v4h-8zM120 80h8v4h-8zM152 80h12v4h-12zM132 84h24v4h-24z"/><path fill="#ffffa3" d="M136 44h8v4h-8zM132 48h8v4h-8zM124 52h8v4h-8zM116 56h8v4h-8zM100 60h16v4h-16zM76 64h36v4h-36zM72 68h40v4h-40zM72 72h36v4h-36zM72 76h40v4h-40zM76 80h8v4h-8zM104 80h16v4h-16zM124 84h8v4h-8zM156 84h8v4h-8zM120 112h20v4h-20z"/><path fill="#ffff99" d="M132 40h4v4h-4zM128 44h8v4h-8zM124 48h8v4h-8zM116 52h8v4h-8zM104 56h12v4h-12zM76 60h24v4h-24zM72 64h4v4h-4zM68 68h4v4h-4zM68 72h4v4h-4zM68 76h4v4h-4zM68 80h8v4h-8zM84 80h20v4h-20zM116 84h8v4h-8zM136 88h24v4h-24zM128 108h20v4h-20z"/><path fill="#ffff8e" d="M128 40h4v4h-4zM124 44h4v4h-4zM120 48h4v4h-4zM108 52h8v4h-8zM84 56h20v4h-20zM44 60h4v4h-4zM72 60h4v4h-4zM44 64h4v4h-4zM68 64h4v4h-4zM44 68h4v4h-4zM44 72h4v4h-4zM44 76h4v4h-4zM44 80h4v4h-4zM44 84h4v4h-4zM68 84h48v4h-48zM132 88h4v4h-4zM148 92h12v4h-12zM152 100h4v4h-4zM140 104h12v4h-12zM88 108h40v4h-40z"/><path fill="#ffff84" d="M120 36h4v4h-4zM124 40h4v4h-4zM120 44h4v4h-4zM116 48h4v4h-4zM100 52h8v4h-8zM44 56h4v4h-4zM72 56h12v4h-12zM68 60h4v4h-4zM64 72h4v4h-4zM64 76h4v4h-4zM64 80h4v4h-4zM44 88h4v4h-4zM124 88h8v4h-8zM140 92h8v4h-8zM148 96h8v4h-8zM144 100h8v4h-8zM132 104h8v4h-8z"/><path fill="#ffff7a" d="M116 36h4v4h-4zM120 40h4v4h-4zM116 44h4v4h-4zM108 48h8v4h-8zM92 52h8v4h-8zM68 56h4v4h-4zM64 64h4v4h-4zM64 68h4v4h-4zM64 84h4v4h-4zM72 88h4v4h-4zM116 88h8v4h-8zM136 92h4v4h-4zM140 96h8v4h-8zM140 100h4v4h-4zM120 104h12v4h-12z"/><path fill="#ffff70" d="M64 28h28v4h-28zM104 32h4v4h-4zM112 36h4v4h-4zM116 40h4v4h-4zM112 44h4v4h-4zM104 48h4v4h-4zM80 52h12v4h-12zM64 60h4v4h-4zM48 72h4v4h-4zM48 76h4v4h-4zM48 80h4v4h-4zM48 84h4v4h-4zM68 88h4v4h-4zM76 88h16v4h-16zM104 88h12v4h-12zM128 92h8v4h-8zM136 96h4v4h-4zM132 100h8v4h-8zM76 104h16v4h-16zM108 104h12v4h-12z"/><path fill="#ffff66" d="M60 28h4v4h-4zM100 32h4v4h-4zM108 36h4v4h-4zM112 40h4v4h-4zM108 44h4v4h-4zM100 48h4v4h-4zM72 52h8v4h-8zM48 60h4v4h-4zM48 64h4v4h-4zM48 68h4v4h-4zM48 88h4v4h-4zM64 88h4v4h-4zM92 88h12v4h-12zM48 92h4v4h-4zM124 92h4v4h-4zM132 96h4v4h-4zM128 100h4v4h-4zM92 104h16v4h-16z"/><path fill="#ffff5b" d="M92 32h8v4h-8zM104 36h4v4h-4zM108 40h4v4h-4zM104 44h4v4h-4zM92 48h8v4h-8zM68 52h4v4h-4zM48 56h4v4h-4zM64 56h4v4h-4zM60 76h4v4h-4zM60 80h4v4h-4zM60 84h4v4h-4zM68 92h8v4h-8zM120 92h4v4h-4zM128 96h4v4h-4zM64 100h12v4h-12zM120 100h8v4h-8z"/><path fill="#ffff51" d="M80 32h12v4h-12zM100 36h4v4h-4zM104 40h4v4h-4zM100 44h4v4h-4zM84 48h8v4h-8zM48 52h4v4h-4zM60 64h4v4h-4zM60 68h4v4h-4zM60 72h4v4h-4zM52 84h4v4h-4zM60 88h4v4h-4zM64 92h4v4h-4zM76 92h8v4h-8zM112 92h8v4h-8zM64 96h12v4h-12zM124 96h4v4h-4zM76 100h8v4h-8zM112 100h8v4h-8z"/><path fill="#ffff47" d="M64 32h16v4h-16zM96 36h4v4h-4zM100 40h4v4h-4zM96 44h4v4h-4zM48 48h4v4h-4zM76 48h8v4h-8zM64 52h4v4h-4zM60 60h4v4h-4zM52 76h4v4h-4zM52 80h4v4h-4zM52 88h4v4h-4zM52 92h4v4h-4zM60 92h4v4h-4zM84 92h28v4h-28zM52 96h4v4h-4zM76 96h4v4h-4zM116 96h8v4h-8zM84 100h28v4h-28z"/><path fill="#ffff3d" d="M56 32h8v4h-8zM88 36h8v4h-8zM48 40h4v4h-4zM96 40h4v4h-4zM48 44h4v4h-4zM88 44h8v4h-8zM72 48h4v4h-4zM60 56h4v4h-4zM52 60h4v4h-4zM52 64h4v4h-4zM52 68h4v4h-4zM52 72h4v4h-4zM56 76h4v4h-4zM56 80h4v4h-4zM56 84h4v4h-4zM56 88h4v4h-4zM56 96h8v4h-8zM80 96h8v4h-8zM108 96h8v4h-8z"/><path fill="#ffff32" d="M52 36h4v4h-4zM80 36h8v4h-8zM92 40h4v4h-4zM84 44h4v4h-4zM68 48h4v4h-4zM52 56h4v4h-4zM56 64h4v4h-4zM56 68h4v4h-4zM56 72h4v4h-4zM56 92h4v4h-4zM88 96h20v4h-20z"/><path fill="#ffff28" d="M68 36h12v4h-12zM84 40h8v4h-8zM76 44h8v4h-8zM64 48h4v4h-4zM52 52h4v4h-4zM60 52h4v4h-4zM56 56h4v4h-4zM56 60h4v4h-4z"/><path fill="#ffff1e" d="M56 36h12v4h-12zM52 40h4v4h-4zM72 40h12v4h-12zM68 44h8v4h-8zM52 48h4v4h-4z"/><path fill="#ffff14" d="M64 40h8v4h-8zM52 44h4v4h-4zM64 44h4v4h-4zM60 48h4v4h-4zM56 52h4v4h-4z"/><path fill="#ffff0a" d="M60 40h4v4h-4zM56 48h4v4h-4z"/><path fill="#ffff00" d="M56 40h4v4h-4zM56 44h8v4h-8z"/></g></g><use href="#lines"/><path d="M30.8,95.6h1.7v1.2h-1.7zM27.5,109.1h1.2v1.2h-1.2zM33.9,85.8h1.2v1.2h-1.2zM29.5,95.9h1.2v1.2h-1.2zM26,104h1.7v1.2h-1.7zM33.5,93.2h1.7v1.2h-1.7zM25.2,98.6h1.7v1.2h-1.7zM30.3,90.2h1.7v1.2h-1.7zM40,77.8h1.2v1.2h-1.2zM40.4,77.5h1.7v1.2h-1.7zM34.8,81.6h1.2v1.2h-1.2zM32.6,91.5h1.7v1.2h-1.7zM26.1,95.7h1.7v1.2h-1.7zM38.5,79.9h1.2v1.2h-1.2zM33.7,88h1.7v1.2h-1.7zM33.7,86.9h1.2v1.2h-1.2zM25.1,103.3h1.2v1.2h-1.2zM34.7,87.4h1.2v1.2h-1.2zM34.2,94.6h1.7v1.2h-1.7zM29.3,94.5h1.2v1.2h-1.2zM37.9,83.2h1.2v1.2h-1.2zM27.3,97.2h1.2v1.2h-1.2zM35.4,87.6h1.2v1.2h-1.2zM25.3,98.8h1.7v1.2h-1.7zM32.4,81.9h1.2v1.2h-1.2zM27.8,103.5h1.2v1.2h-1.2zM34.5,87.7h1.2v1.2h-1.2zM41.3,85.1h1.2v1.2h-1.2zM42.8,69.3h1.2v1.2h-1.2zM31.4,96.7h1.2v1.2h-1.2zM33.1,86.1h1.2v1.2h-1.2zM25.5,97.4h1.2v1.2h-1.2zM32.5,86.4h1.2v1.2h-1.2zM31.2,92.9h1.2v1.2h-1.2zM36.3,92.7h1.7v1.2h-1.7zM38.4,86.2h1.2v1.2h-1.2zM31.6,98.6h1.2v1.2h-1.2zM38.2,85.2h1.2v1.2h-1.2zM38.2,82.2h1.7v1.2h-1.7zM41.1,72.6h1.7v1.2h-1.7zM28.5,99h1.7v1.2h-1.7zM36.4,90.4h1.2v1.2h-1.2zM40.5,84.4h1.2v1.2h-1.2zM41,82.2h1.7v1.2h-1.7zM39.4,81.8h1.7v1.2h-1.7zM37.8,74.6h1.7v1.2h-1.7zM37.9,79.1h1.2v1.2h-1.2zM29.3,88.2h1.2v1.2h-1.2zM26.8,98.2h1.2v1.2h-1.2zM28.8,97.1h1.2v1.2h-1.2zM37.4,80.9h1.7v1.2h-1.7zM28.5,96h1.7v1.2h-1.7zM38.4,87h1.2v1.2h-1.2zM37,83.5h1.7v1.2h-1.7zM29.8,88.1h1.7v1.2h-1.7zM41.9,76.7h1.7v1.2h-1.7zM39.7,85.4h1.7v1.2h-1.7zM42.3,77.9h1.7v1.2h-1.7zM39.3,77.6h1.2v1.2h-1.2zM43.9,75.2h1.2v1.2h-1.2zM41.5,76.7h1.2v1.2h-1.2zM30.4,95.7h1.2v1.2h-1.2zM37.5,90.9h1.2v1.2h-1.2zM28.4,100.2h1.2v1.2h-1.2zM40.5,82.6h1.2v1.2h-1.2zM28.7,96h1.2v1.2h-1.2zM34.7,82.7h1.2v1.2h-1.2zM34.2,90.5h1.2v1.2h-1.2zM43.2,83.8h1.7v1.2h-1.7zM26.9,100.7h1.2v1.2h-1.2zM43.5,84h1.2v1.2h-1.2zM31.1,88.8h1.2v1.2h-1.2zM44.5,76.8h1.7v1.2h-1.7zM30.7,92.6h1.2v1.2h-1.2zM29.6,91.1h1.2v1.2h-1.2zM33.4,80.1h1.2v1.2h-1.2zM41.4,79.3h1.2v1.2h-1.2zM40.4,78.7h1.2v1.2h-1.2zM34.7,92h1.7v1.2h-1.7zM30.4,89.4h1.2v1.2h-1.2zM38.8,84.7h1.2v1.2h-1.2zM30.5,98h1.7v1.2h-1.7zM49.6,82.8h1.2v1.2h-1.2zM31.8,80.1h1.2v1.2h-1.2zM40.4,75h1.2v1.2h-1.2zM28.1,97.4h1.2v1.2h-1.2zM37,83.3h1.2v1.2h-1.2zM26.9,93.1h1.2v1.2h-1.2zM26.8,103.5h1.2v1.2h-1.2zM34.1,90.6h1.7v1.2h-1.7zM38.9,78.2h1.2v1.2h-1.2zM38.9,84.8h1.2v1.2h-1.2zM47.6,61.2h1.2v1.2h-1.2zM49.5,60.3h1.7v1.2h-1.7zM46.1,65.3h1.2v1.2h-1.2zM52.3,60.5h1.7v1.2h-1.7zM44.8,70.6h1.2v1.2h-1.2zM50.5,65.1h1.2v1.2h-1.2zM47.3,73.9h1.2v1.2h-1.2zM49.6,67.9h1.7v1.2h-1.7zM49.4,62h1.7v1.2h-1.7zM47.8,66.4h1.7v1.2h-1.7zM43.9,75.9h1.2v1.2h-1.2zM51.5,64.1h1.7v1.2h-1.7zM54.8,56.8h1.2v1.2h-1.2zM54.6,58.6h1.2v1.2h-1.2zM49.1,60.5h1.7v1.2h-1.7zM45.8,71.3h1.2v1.2h-1.2zM51.9,61.7h1.7v1.2h-1.7zM43.1,69.2h1.2v1.2h-1.2zM44.1,68h1.2v1.2h-1.2zM51.4,54.3h1.7v1.2h-1.7zM48.1,62.4h1.7v1.2h-1.7zM61,56.1h1.7v1.2h-1.7zM97.1,50.8h1.7v1.2h-1.7zM88.8,52.8h1.2v1.2h-1.2zM97.9,49h1.2v1.2h-1.2zM69.1,51.5h1.2v1.2h-1.2zM92.4,52.2h1.2v1.2h-1.2zM108.6,45.3h1.2v1.2h-1.2zM102.5,47.6h1.7v1.2h-1.7zM61.2,56.4h1.7v1.2h-1.7zM79.6,54.6h1.2v1.2h-1.2zM104.1,47.1h1.7v1.2h-1.7zM103.7,44.1h1.2v1.2h-1.2zM81.1,54.4h1.2v1.2h-1.2zM107.5,46.5h1.2v1.2h-1.2zM92.8,55h1.2v1.2h-1.2zM73.3,55.1h1.2v1.2h-1.2zM95.1,46h1.7v1.2h-1.7zM79.8,56.5h1.7v1.2h-1.7zM84.9,52.4h1.2v1.2h-1.2zM83,56.7h1.2v1.2h-1.2zM99.6,50.4h1.7v1.2h-1.7zM83.4,51.2h1.7v1.2h-1.7zM90.5,54h1.2v1.2h-1.2zM69.5,56.8h1.7v1.2h-1.7zM73.8,54.8h1.7v1.2h-1.7zM74.6,53.4h1.7v1.2h-1.7zM91,54h1.2v1.2h-1.2zM85.2,52.7h1.2v1.2h-1.2zM68.4,54.4h1.2v1.2h-1.2zM80.7,54.4h1.2v1.2h-1.2zM99.3,50.9h1.2v1.2h-1.2zM82.8,54.2h1.2v1.2h-1.2zM76.9,56.3h1.2v1.2h-1.2zM82.8,55.3h1.7v1.2h-1.7zM61,56.3h1.2v1.2h-1.2zM84.4,52.8h1.7v1.2h-1.7zM81.8,54h1.2v1.2h-1.2zM62.8,56.2h1.2v1.2h-1.2zM85.3,51h1.2v1.2h-1.2zM110.3,45.2h1.7v1.2h-1.7zM77.9,53.1h1.2v1.2h-1.2zM103.1,47.4h1.2v1.2h-1.2zM100.6,44h1.2v1.2h-1.2zM101.8,49.2h1.2v1.2h-1.2zM103.1,47.5h1.2v1.2h-1.2zM59.7,55.1h1.2v1.2h-1.2zM93.8,56.8h1.7v1.2h-1.7zM90.5,56.2h1.7v1.2h-1.7zM89.3,55.4h1.7v1.2h-1.7zM97.2,53.1h1.7v1.2h-1.7zM87.3,54.8h1.2v1.2h-1.2zM96.3,52.5h1.7v1.2h-1.7zM79.7,53h1.7v1.2h-1.7zM81.6,58.1h1.7v1.2h-1.7zM127.6,24.7h1.7v1.2h-1.7zM118.1,36.1h1.2v1.2h-1.2zM111,46.2h1.7v1.2h-1.7zM125.3,25.3h1.2v1.2h-1.2zM125.7,30.5h1.7v1.2h-1.7zM122.4,31.3h1.2v1.2h-1.2zM124.6,26.3h1.7v1.2h-1.7zM117.5,41.1h1.7v1.2h-1.7zM107.7,40.6h1.7v1.2h-1.7zM110.7,44.4h1.7v1.2h-1.7zM117.7,36.6h1.7v1.2h-1.7zM105.5,42.9h1.7v1.2h-1.7zM127.6,26.5h1.2v1.2h-1.2zM122.4,25.9h1.7v1.2h-1.7zM107.1,47.8h1.2v1.2h-1.2zM105.8,42.3h1.7v1.2h-1.7zM128.1,21.7h1.2v1.2h-1.2zM127.3,25.4h1.7v1.2h-1.7zM108.3,44.5h1.7v1.2h-1.7zM111.5,41.3h1.2v1.2h-1.2zM117.6,37.4h1.7v1.2h-1.7zM122.9,30.2h1.7v1.2h-1.7zM25.3,110.2h1.7v1.2h-1.7zM26.1,108.2h1.7v1.2h-1.7zM28.1,102.1h1.7v1.2h-1.7z" fill="#00ffff"/><g fill="none" stroke="#000" stroke-width="0.75"><circle cx="67.3" cy="31.5" r="4.5"/><circle cx="67" cy="42" r="3"/><circle cx="65.2" cy="49.9" r="3"/><circle cx="61.4" cy="59.1" r="3"/><circle cx="58.3" cy="66.7" r="3"/><circle cx="54.5" cy="75.9" r="3"/><circle cx="51.2" cy="84.1" r="3"/><circle cx="47.7" cy="93.2" r="4.5"/><circle cx="82.3" cy="36.1" r="3"/><circle cx="80.4" cy="45.8" r="3"/><circle cx="76.7" cy="53.4" r="3"/><circle cx="72.7" cy="61.6" r="3"/><circle cx="70" cy="70.3" r="3"/><circle cx="67.8" cy="78.9" r="3"/><circle cx="65.3" cy="89.3" r="3"/><circle cx="62.8" cy="96.3" r="5"/><circle cx="95.7" cy="40" r="3"/><circle cx="92.8" cy="49.1" r="3"/><circle cx="88.7" cy="56.9" r="3"/><circle cx="85.3" cy="65.1" r="3.2"/><circle cx="82.3" cy="74.4" r="3.2"/><circle cx="79.7" cy="83.5" r="3.2"/><circle cx="78.1" cy="92.9" r="3"/><circle cx="76.5" cy="100.7" r="3"/><circle cx="108.7" cy="43.9" r="3"/><circle cx="105.2" cy="52.7" r="3"/><circle cx="101.3" cy="61.5" r="3.2"/><circle cx="98.7" cy="69.5" r="3.2"/><circle cx="96.1" cy="78.3" r="3.2"/><circle cx="93.9" cy="87.8" r="3"/><circle cx="93.4" cy="96" r="3"/><circle cx="90" cy="105.1" r="3"/><circle cx="122.2" cy="46.7" r="3"/><circle cx="118.7" cy="55.9" r="3.2"/><circle cx="115.6" cy="64.5" r="3.2"/><circle cx="112.7" cy="73.3" r="3.2"/><circle cx="110.1" cy="82.6" r="3.2"/><circle cx="108.6" cy="92" r="3"/><circle cx="107.1" cy="101.2" r="3"/><circle cx="102.1" cy="108.8" r="5"/><circle cx="134.6" cy="52.2" r="3.5"/><circle cx="131.5" cy="60.6" r="3.2"/><circle cx="128.5" cy="69.7" r="3.2"/><circle cx="125.9" cy="78.5" r="3.2"/><circle cx="123.9" cy="87.2" r="3.2"/><circle cx="123" cy="96.1" r="3"/><circle cx="119.9" cy="104.7" r="3"/><circle cx="115" cy="113.3" r="5"/><circle cx="147.6" cy="56.7" r="3.5"/><circle cx="144.6" cy="65.3" r="3.2"/><circle cx="141.9" cy="73.6" r="3.2"/><circle cx="139.5" cy="82.5" r="3.2"/><circle cx="137.9" cy="91.5" r="3"/><circle cx="135.8" cy="101.6" r="3"/><circle cx="132.3" cy="109.5" r="4.3"/><circle cx="128.7" cy="117.5" r="5"/><circle cx="158.9" cy="64.2" r="3.5"/><circle cx="156.4" cy="72.3" r="3.9"/><circle cx="153.9" cy="80.6" r="3.9"/><circle cx="151.9" cy="89" r="3.9"/><circle cx="150.4" cy="97.2" r="3"/><circle cx="147.8" cy="105.4" r="3"/><circle cx="144.2" cy="113.8" r="3.9"/><circle cx="141.5" cy="122.3" r="5"/></g><path d="M64.5,30.3L67.3,31.5M67.3,31.5L64.2,31.9L65.4,29zM61.8,39.2L67,42M67,42L63.4,41.8L64.9,39zM59,48L65.2,49.9M65.2,49.9L61.6,50.5L62.5,47.4zM56.3,56.9L61.4,59.1M61.4,59.1L57.7,59.2L59,56.3zM53.5,65.7L58.3,66.7M58.3,66.7L54.7,67.6L55.3,64.5zM50.8,74.6L54.5,75.9M54.5,75.9L50.9,76.3L52,73.3zM48,83.4L51.2,84.1M51.2,84.1L48.1,85.1L48.7,82zM45.3,92.3L47.7,93.2M47.7,93.2L44.8,93.8L46,90.8zM77.8,34.6L82.3,36.1M82.3,36.1L78.6,36.6L79.6,33.5zM75.1,43.3L80.4,45.8M80.4,45.8L76.7,45.8L78,42.9zM72.4,52.1L76.7,53.4M76.7,53.4L73,54L74,50.9zM69.7,60.8L72.7,61.6M72.7,61.6L69.6,62.5L70.4,59.4zM66.9,69.6L70,70.3M70,70.3L66.9,71.2L67.7,68.1zM64.2,78.3L67.8,78.9M67.8,78.9L64.5,80L65,76.8zM61.5,87.1L65.3,89.3M65.3,89.3L61.6,89L63.3,86.2zM58.8,95.8L62.8,96.3M62.8,96.3L59.4,97.5L59.7,94.3zM90.9,38.3L95.7,40M95.7,40L92,40.4L93.1,37.4zM88.2,47.1L92.8,49.1M92.8,49.1L89.1,49.2L90.4,46.3zM85.6,55.9L88.7,56.9M88.7,56.9L85.4,57.6L86.5,54.5zM82.9,64.7L85.3,65.1M85.3,65.1L82.7,66.3L83.2,63.1zM80.2,73.5L82.3,74.4M82.3,74.4L79.6,75L80.8,72zM77.5,82.3L79.7,83.5M79.7,83.5L76.8,83.7L78.4,80.9zM74.9,91.1L78.1,92.9M78.1,92.9L74.6,92.8L76.1,90zM72.2,99.9L76.5,100.7M76.5,100.7L73,101.7L73.5,98.5zM104.5,42.3L108.7,43.9M108.7,43.9L105,44.2L106.2,41.2zM101.9,51.1L105.2,52.7M105.2,52.7L101.7,52.8L103.1,49.9zM99.2,59.9L101.3,61.5M101.3,61.5L98.3,61.3L100.3,58.7zM96.6,68.7L98.7,69.5M98.7,69.5L96,70.2L97.1,67.2zM93.9,77.5L96.1,78.3M96.1,78.3L93.4,79L94.5,76zM91.3,86.3L93.9,87.8M93.9,87.8L90.7,87.8L92.3,85.1zM88.6,95.1L93.4,96M93.4,96L89.9,96.9L90.4,93.8zM86,103.9L90,105.1M90,105.1L86.4,105.7L87.3,102.6zM118.9,46.3L122.2,46.7M122.2,46.7L119.1,47.9L119.5,44.8zM116.1,55.1L118.7,55.9M118.7,55.9L115.8,56.7L116.8,53.6zM113.4,63.9L115.6,64.5M115.6,64.5L113,65.5L113.8,62.4zM112.2,72.8h1v1h-1zM107.9,81.6L110.1,82.6M110.1,82.6L107.2,83L108.6,80.1zM105.1,90.4L108.6,92M108.6,92L105,92.1L106.4,89.2zM102.4,99.2L107.1,101.2M107.1,101.2L103.4,101.4L104.7,98.4zM99.6,108L102.1,108.8M102.1,108.8L99.3,109.6L100.2,106.5zM132.4,51.6L134.6,52.2M134.6,52.2L132,53.1L132.8,50.1zM131,60.1h1v1h-1zM128,69.2h1v1h-1zM125.4,78h1v1h-1zM121.4,86.4L123.9,87.2M123.9,87.2L121.1,88L122,84.9zM118.6,95.1L123,96.1M123,96.1L119.5,96.9L120.2,93.8zM115.9,103.8L119.9,104.7M119.9,104.7L116.3,105.5L117,102.4zM114.5,112.8h1v1h-1zM147.1,56.2h1v1h-1zM144.1,64.8h1v1h-1zM141.4,73.1h1v1h-1zM139,82h1v1h-1zM135,90.8L137.9,91.5M137.9,91.5L135,92.5L135.7,89.3zM132.3,99.6L135.8,101.6M135.8,101.6L132.1,101.3L133.7,98.5zM129.6,108.3L132.3,109.5M132.3,109.5L129.2,109.9L130.5,107zM128.2,117h1v1h-1zM158.4,63.7h1v1h-1zM155.9,71.8h1v1h-1zM153.4,80.1h1v1h-1zM149.8,88.2L151.9,89M151.9,89L149.2,89.7L150.4,86.7zM147.3,96.5L150.4,97.2M150.4,97.2L147.3,98.1L148.1,95zM144.9,104.7L147.8,105.4M147.8,105.4L144.8,106.3L145.5,103.2zM143.7,113.3h1v1h-1zM141,121.8h1v1h-1z" fill="#000" stroke="#000" stroke-width="0.95"/><polygon points="58.9,23.4 147,51.3 155,54.6 160.5,58.3 165.1,63.6 145.6,127.2 38.4,95.2" fill="none" stroke="#222" stroke-width="0.7"/><use href="#trench"/></g><rect x="26.6" y="18.4" width="155.2" height="118.3" fill="none" stroke="#000" stroke-width="1.2"/><path d="M72.3,18.4v-5M130.2,18.4v-5" stroke="#000" stroke-width="0.8"/><text x="29.3" y="31.8" font-size="16.6">(b)</text><text x="49.3" y="132.6" font-size="9.8">2012.5-2013.0</text></g>
<g transform="translate(318,0)"><g clip-path="url(#cf)"><rect x="26.6" y="18.4" width="155.2" height="118.3" fill="#fff"/><polygon points="58.9,23.4 147,51.3 155,54.6 160.5,58.3 165.1,63.6 145.6,127.2 38.4,95.2" fill="#b9b9b9"/><g clip-path="url(#ci2)"><g filter="url(#bl)"><path fill="#ffffcc" d="M136 44h4v4h-4zM136 48h20v4h-20zM140 52h24v4h-24zM140 56h28v4h-28zM140 60h28v4h-28zM144 64h24v4h-24zM144 68h24v4h-24zM148 72h20v4h-20zM148 76h16v4h-16zM148 80h16v4h-16zM148 84h16v4h-16zM148 88h12v4h-12zM144 92h16v4h-16zM144 96h12v4h-12zM140 100h16v4h-16zM136 104h16v4h-16zM128 108h20v4h-20zM124 112h16v4h-16z"/><path fill="#ffffc1" d="M128 44h8v4h-8zM132 48h4v4h-4zM132 52h8v4h-8zM132 56h8v4h-8zM132 60h8v4h-8zM136 64h8v4h-8zM140 68h4v4h-4zM140 72h8v4h-8zM140 76h8v4h-8zM140 80h8v4h-8zM140 84h8v4h-8zM140 88h8v4h-8zM140 92h4v4h-4zM136 96h8v4h-8zM132 100h8v4h-8zM124 104h12v4h-12zM120 108h8v4h-8zM120 112h4v4h-4z"/><path fill="#ffffb7" d="M116 40h8v4h-8zM124 44h4v4h-4zM124 48h8v4h-8zM124 52h8v4h-8zM124 56h8v4h-8zM128 60h4v4h-4zM132 64h4v4h-4zM132 68h8v4h-8zM136 72h4v4h-4zM136 76h4v4h-4zM136 80h4v4h-4zM136 84h4v4h-4zM44 88h4v4h-4zM136 88h4v4h-4zM132 92h8v4h-8zM132 96h4v4h-4zM124 100h8v4h-8zM120 104h4v4h-4zM112 108h8v4h-8z"/><path fill="#ffffad" d="M96 36h8v4h-8zM108 40h8v4h-8zM116 44h8v4h-8zM120 48h4v4h-4zM120 52h4v4h-4zM120 56h4v4h-4zM124 60h4v4h-4zM128 64h4v4h-4zM44 68h4v4h-4zM44 72h4v4h-4zM132 72h4v4h-4zM44 76h4v4h-4zM44 80h4v4h-4zM44 84h4v4h-4zM48 88h4v4h-4zM132 88h4v4h-4zM48 92h4v4h-4zM128 96h4v4h-4zM120 100h4v4h-4zM112 104h8v4h-8zM100 108h12v4h-12z"/><path fill="#ffffa3" d="M84 32h4v4h-4zM92 36h4v4h-4zM96 40h12v4h-12zM108 44h8v4h-8zM116 48h4v4h-4zM48 52h4v4h-4zM116 52h4v4h-4zM48 56h4v4h-4zM116 56h4v4h-4zM48 60h4v4h-4zM120 60h4v4h-4zM48 64h4v4h-4zM124 64h4v4h-4zM48 68h4v4h-4zM128 68h4v4h-4zM128 72h4v4h-4zM48 76h4v4h-4zM132 76h4v4h-4zM48 80h4v4h-4zM132 80h4v4h-4zM48 84h4v4h-4zM132 84h4v4h-4zM52 92h4v4h-4zM128 92h4v4h-4zM56 96h4v4h-4zM124 96h4v4h-4zM116 100h4v4h-4zM108 104h4v4h-4zM88 108h12v4h-12z"/><path fill="#ffff99" d="M80 32h4v4h-4zM88 36h4v4h-4zM92 40h4v4h-4zM100 44h8v4h-8zM108 48h8v4h-8zM108 52h8v4h-8zM112 56h4v4h-4zM116 60h4v4h-4zM120 64h4v4h-4zM124 68h4v4h-4zM48 72h4v4h-4zM128 76h4v4h-4zM128 84h4v4h-4zM52 88h4v4h-4zM128 88h4v4h-4zM56 92h4v4h-4zM124 92h4v4h-4zM60 96h4v4h-4zM120 96h4v4h-4zM64 100h4v4h-4zM112 100h4v4h-4zM76 104h8v4h-8zM100 104h8v4h-8z"/><path fill="#ffff8e" d="M76 32h4v4h-4zM84 36h4v4h-4zM88 40h4v4h-4zM52 44h4v4h-4zM88 44h12v4h-12zM52 48h4v4h-4zM92 48h16v4h-16zM52 52h4v4h-4zM104 52h4v4h-4zM52 56h4v4h-4zM108 56h4v4h-4zM52 60h4v4h-4zM112 60h4v4h-4zM116 64h4v4h-4zM124 72h4v4h-4zM52 80h4v4h-4zM128 80h4v4h-4zM52 84h4v4h-4zM124 88h4v4h-4zM64 96h4v4h-4zM116 96h4v4h-4zM68 100h4v4h-4zM108 100h4v4h-4zM84 104h16v4h-16z"/><path fill="#ffff84" d="M64 32h4v4h-4zM72 32h4v4h-4zM56 36h4v4h-4zM80 36h4v4h-4zM84 40h4v4h-4zM84 44h4v4h-4zM84 48h8v4h-8zM88 52h16v4h-16zM100 56h8v4h-8zM108 60h4v4h-4zM52 64h4v4h-4zM52 68h4v4h-4zM120 68h4v4h-4zM52 72h4v4h-4zM52 76h4v4h-4zM124 76h4v4h-4zM124 84h4v4h-4zM56 88h4v4h-4zM60 92h4v4h-4zM120 92h4v4h-4zM72 100h8v4h-8zM104 100h4v4h-4z"/><path fill="#ffff7a" d="M68 32h4v4h-4zM76 36h4v4h-4zM56 40h4v4h-4zM80 40h4v4h-4zM80 44h4v4h-4zM56 52h4v4h-4zM84 52h4v4h-4zM92 56h8v4h-8zM104 60h4v4h-4zM112 64h4v4h-4zM116 68h4v4h-4zM120 72h4v4h-4zM124 80h4v4h-4zM56 84h4v4h-4zM68 96h4v4h-4zM112 96h4v4h-4zM80 100h4v4h-4zM96 100h8v4h-8z"/><path fill="#ffff70" d="M60 36h4v4h-4zM56 44h4v4h-4zM56 48h4v4h-4zM80 48h4v4h-4zM80 52h4v4h-4zM56 56h4v4h-4zM84 56h8v4h-8zM56 60h4v4h-4zM100 60h4v4h-4zM56 64h4v4h-4zM108 64h4v4h-4zM56 68h4v4h-4zM56 72h4v4h-4zM56 76h4v4h-4zM56 80h4v4h-4zM60 88h4v4h-4zM120 88h4v4h-4zM64 92h4v4h-4zM116 92h4v4h-4zM72 96h4v4h-4zM108 96h4v4h-4zM84 100h12v4h-12z"/><path fill="#ffff66" d="M64 36h12v4h-12zM60 40h4v4h-4zM76 40h4v4h-4zM76 44h4v4h-4zM76 48h4v4h-4zM76 52h4v4h-4zM80 56h4v4h-4zM92 60h8v4h-8zM112 68h4v4h-4zM120 76h4v4h-4zM120 80h4v4h-4zM60 84h4v4h-4zM120 84h4v4h-4zM68 92h4v4h-4zM76 96h4v4h-4zM104 96h4v4h-4z"/><path fill="#ffff5b" d="M72 40h4v4h-4zM60 44h4v4h-4zM72 44h4v4h-4zM60 48h4v4h-4zM72 48h4v4h-4zM60 52h4v4h-4zM72 52h4v4h-4zM60 56h4v4h-4zM76 56h4v4h-4zM60 60h4v4h-4zM84 60h8v4h-8zM104 64h4v4h-4zM116 72h4v4h-4zM60 80h4v4h-4zM64 88h4v4h-4zM116 88h4v4h-4zM112 92h4v4h-4zM80 96h4v4h-4zM100 96h4v4h-4z"/><path fill="#ffff51" d="M64 40h8v4h-8zM64 44h8v4h-8zM64 48h8v4h-8zM64 52h8v4h-8zM64 56h4v4h-4zM72 56h4v4h-4zM76 60h8v4h-8zM60 64h4v4h-4zM100 64h4v4h-4zM60 68h4v4h-4zM108 68h4v4h-4zM60 72h4v4h-4zM60 76h4v4h-4zM116 76h4v4h-4zM72 92h4v4h-4zM84 96h4v4h-4zM96 96h4v4h-4z"/><path fill="#ffff47" d="M68 56h4v4h-4zM64 60h4v4h-4zM72 60h4v4h-4zM92 64h8v4h-8zM112 72h4v4h-4zM116 80h4v4h-4zM64 84h4v4h-4zM116 84h4v4h-4zM68 88h4v4h-4zM112 88h4v4h-4zM108 92h4v4h-4zM88 96h8v4h-8z"/><path fill="#ffff3d" d="M68 60h4v4h-4zM64 64h4v4h-4zM76 64h16v4h-16zM64 68h4v4h-4zM104 68h4v4h-4zM64 80h4v4h-4zM76 92h4v4h-4zM104 92h4v4h-4z"/><path fill="#ffff32" d="M68 64h8v4h-8zM64 72h4v4h-4zM108 72h4v4h-4zM64 76h4v4h-4zM112 76h4v4h-4zM68 84h4v4h-4zM112 84h4v4h-4zM72 88h4v4h-4zM80 92h4v4h-4z"/><path fill="#ffff28" d="M68 68h8v4h-8zM100 68h4v4h-4zM68 72h4v4h-4zM68 80h4v4h-4zM112 80h4v4h-4zM108 88h4v4h-4zM84 92h4v4h-4zM100 92h4v4h-4z"/><path fill="#ffff1e" d="M76 68h24v4h-24zM68 76h4v4h-4zM76 88h4v4h-4zM88 92h12v4h-12z"/><path fill="#ffff14" d="M72 72h4v4h-4zM104 72h4v4h-4zM108 76h4v4h-4zM72 84h4v4h-4zM108 84h4v4h-4zM104 88h4v4h-4z"/><path fill="#ffff0a" d="M76 72h4v4h-4zM100 72h4v4h-4zM72 76h4v4h-4zM72 80h4v4h-4zM108 80h4v4h-4zM80 88h4v4h-4z"/><path fill="#ffff00" d="M80 72h4v4h-4zM104 76h4v4h-4zM76 84h4v4h-4zM84 88h4v4h-4zM100 88h4v4h-4z"/><path fill="#fff600" d="M84 72h16v4h-16zM76 76h4v4h-4zM76 80h4v4h-4zM104 84h4v4h-4zM88 88h12v4h-12z"/><path fill="#ffed00" d="M80 76h4v4h-4zM100 76h4v4h-4zM104 80h4v4h-4zM80 84h4v4h-4z"/><path fill="#ffe500" d="M84 76h4v4h-4zM80 80h4v4h-4zM84 84h4v4h-4zM100 84h4v4h-4z"/><path fill="#ffdc00" d="M88 76h12v4h-12zM84 80h4v4h-4zM100 80h4v4h-4zM88 84h4v4h-4zM96 84h4v4h-4z"/><path fill="#ffd400" d="M88 80h4v4h-4zM96 80h4v4h-4zM92 84h4v4h-4z"/><path fill="#ffcb00" d="M92 80h4v4h-4z"/></g></g><path d="M118,86.9 C117.6,87.2 116.2,88 115.6,88.6 C115,89.2 114.8,89.8 114.4,90.5 C114,91.2 114.1,92.1 113.4,92.6 C112.7,93.1 111.1,93.1 110.2,93.6 C109.3,94.1 109,95.1 108,95.5 C107,95.8 105.5,95.7 104.2,95.9 C102.9,96 101.7,96.3 100.4,96.2 C99,96.1 97.6,95.4 96.2,95.2 C94.9,95.1 93.5,95.5 92.2,95.2 C90.9,95 89.7,94.2 88.4,93.8 C87.1,93.4 85.5,93.3 84.4,92.7 C83.2,92.2 82.7,91.1 81.7,90.4 C80.7,89.8 79.3,89.4 78.4,88.7 C77.4,88 76.8,87.2 76.2,86.5 C75.5,85.7 74.9,85 74.4,84.2 C73.9,83.4 73.5,82.6 73.2,81.9 C72.9,81.1 72.6,80.3 72.6,79.5 C72.6,78.8 73.2,78.1 73.5,77.4 C73.7,76.7 73.9,76.1 74.2,75.4 C74.5,74.7 74.9,74 75.2,73.4 C75.6,72.7 75.8,71.8 76.4,71.3 C77.1,70.7 78.2,70.3 79.2,69.9 C80.2,69.5 81.1,69.1 82.2,68.8 C83.3,68.5 84.6,68.4 85.9,68.2 C87.1,68.1 88.3,67.7 89.6,67.9 C91,68.1 92.5,69 93.8,69.3 C95.2,69.5 96.4,69.3 97.7,69.5 C99,69.6 100.5,69.7 101.7,70.1 C102.8,70.6 103.4,71.7 104.7,72.2 C106,72.7 108,72.5 109.2,73 C110.4,73.5 111.2,74.4 112,75.2 C112.7,75.9 113.2,76.8 113.7,77.6 C114.1,78.4 114.3,79.1 114.7,79.9 C115.1,80.7 115.7,81.4 116,82.1 C116.3,82.9 116,83.6 116.4,84.4 C116.7,85.2 117.7,86.5 118,86.9" fill="none" stroke="#000" stroke-width="0.8"/><use href="#lines"/><path d="M46.4,77.2h1.2v1.2h-1.2zM47.9,76.9h1.7v1.2h-1.7zM42.3,79.6h1.2v1.2h-1.2zM37.4,85.3h1.2v1.2h-1.2zM43.6,76.4h1.2v1.2h-1.2zM39.8,77.8h1.2v1.2h-1.2zM35.6,92.4h1.2v1.2h-1.2zM38.6,85.4h1.2v1.2h-1.2zM43.4,79.4h1.7v1.2h-1.7zM27.3,102.7h1.7v1.2h-1.7zM37,81.8h1.2v1.2h-1.2zM42,79.6h1.2v1.2h-1.2zM35.3,86.9h1.2v1.2h-1.2zM36.8,94.2h1.2v1.2h-1.2zM27.9,100h1.2v1.2h-1.2zM39.9,80.7h1.2v1.2h-1.2zM42.1,75.6h1.2v1.2h-1.2zM30.6,92.3h1.7v1.2h-1.7zM38.2,83.3h1.7v1.2h-1.7zM43.6,79.9h1.2v1.2h-1.2zM43.4,76.8h1.7v1.2h-1.7zM31.1,88h1.2v1.2h-1.2zM37.4,84.9h1.2v1.2h-1.2zM29.8,91.1h1.2v1.2h-1.2zM35.3,82.5h1.2v1.2h-1.2zM41.4,75.5h1.7v1.2h-1.7zM25.1,99.6h1.2v1.2h-1.2zM35.6,89.8h1.7v1.2h-1.7zM34.5,91.2h1.2v1.2h-1.2zM27.9,91.1h1.2v1.2h-1.2zM29.2,104.8h1.7v1.2h-1.7zM29.3,96.3h1.2v1.2h-1.2zM41.9,79.5h1.2v1.2h-1.2zM35.5,81.8h1.7v1.2h-1.7zM32.4,91.3h1.7v1.2h-1.7zM25.7,93.8h1.7v1.2h-1.7zM31.5,85.4h1.2v1.2h-1.2zM26.8,94.6h1.2v1.2h-1.2zM33.2,88.3h1.7v1.2h-1.7zM36.3,85.9h1.7v1.2h-1.7zM35.3,85.7h1.2v1.2h-1.2zM31.1,94.6h1.7v1.2h-1.7zM37.8,82.6h1.7v1.2h-1.7zM27.2,92.5h1.7v1.2h-1.7zM36.1,86.7h1.2v1.2h-1.2zM43,80.3h1.2v1.2h-1.2zM38.5,81.4h1.2v1.2h-1.2zM31,89.8h1.2v1.2h-1.2zM27.9,93.2h1.7v1.2h-1.7zM30.3,95.2h1.2v1.2h-1.2zM43,81.8h1.7v1.2h-1.7zM35.5,86h1.2v1.2h-1.2zM48.6,62.9h1.7v1.2h-1.7zM45.2,63.7h1.2v1.2h-1.2zM54.8,56.3h1.7v1.2h-1.7zM48.2,62.2h1.2v1.2h-1.2zM49.7,58.3h1.7v1.2h-1.7zM49.6,63.6h1.2v1.2h-1.2zM47.7,68.5h1.2v1.2h-1.2zM54.8,55.1h1.2v1.2h-1.2zM57.9,58.5h1.2v1.2h-1.2zM50.8,70.4h1.7v1.2h-1.7zM51.6,59.1h1.7v1.2h-1.7zM53.1,55.4h1.7v1.2h-1.7zM48.9,62.5h1.7v1.2h-1.7zM42.3,72h1.2v1.2h-1.2zM52,61h1.2v1.2h-1.2zM51.6,63.1h1.2v1.2h-1.2zM93.6,51.3h1.2v1.2h-1.2zM69.9,54.5h1.2v1.2h-1.2zM100.2,49.1h1.2v1.2h-1.2zM95,52.9h1.2v1.2h-1.2zM98.4,47.4h1.7v1.2h-1.7zM102.8,50.2h1.2v1.2h-1.2zM74.7,56.8h1.2v1.2h-1.2zM88.1,56.4h1.7v1.2h-1.7zM104.7,46.1h1.7v1.2h-1.7zM104.4,44.8h1.2v1.2h-1.2zM63.3,53.3h1.2v1.2h-1.2zM92.8,54.8h1.7v1.2h-1.7zM98.2,50.6h1.2v1.2h-1.2zM100.8,49.7h1.2v1.2h-1.2zM109.7,41.9h1.2v1.2h-1.2zM86,57.6h1.7v1.2h-1.7zM82.3,52.9h1.2v1.2h-1.2zM78.7,58.7h1.7v1.2h-1.7zM110,43.1h1.7v1.2h-1.7zM86.7,58h1.2v1.2h-1.2zM105.9,44.7h1.7v1.2h-1.7zM97.3,50h1.2v1.2h-1.2zM67.5,53h1.2v1.2h-1.2zM94.5,52.7h1.7v1.2h-1.7zM80.6,54.2h1.7v1.2h-1.7zM95,50.8h1.7v1.2h-1.7zM106.9,46.8h1.2v1.2h-1.2zM63.1,52.7h1.2v1.2h-1.2zM83,54.7h1.7v1.2h-1.7zM96.2,47.3h1.7v1.2h-1.7zM79.2,56.4h1.2v1.2h-1.2zM99.6,50.1h1.7v1.2h-1.7zM85.2,55.9h1.2v1.2h-1.2zM66.9,56.7h1.2v1.2h-1.2zM90.7,52.6h1.7v1.2h-1.7zM78.8,56.1h1.7v1.2h-1.7zM71.1,54.9h1.7v1.2h-1.7zM70.7,54.9h1.2v1.2h-1.2zM95,49.7h1.7v1.2h-1.7zM59.8,52.1h1.7v1.2h-1.7zM116.7,39.5h1.2v1.2h-1.2zM112.6,37.2h1.2v1.2h-1.2zM123.4,31.7h1.2v1.2h-1.2zM129.1,24.6h1.2v1.2h-1.2zM114.5,39.6h1.7v1.2h-1.7zM122.1,32h1.2v1.2h-1.2zM114.6,35.7h1.2v1.2h-1.2zM118.4,37.2h1.2v1.2h-1.2zM114.6,33.3h1.2v1.2h-1.2zM122.7,31.1h1.7v1.2h-1.7zM109.7,42.2h1.2v1.2h-1.2zM122.6,31.1h1.2v1.2h-1.2zM108.3,40.7h1.7v1.2h-1.7zM109.9,39h1.7v1.2h-1.7zM128.1,22.7h1.2v1.2h-1.2zM24.5,101.2h1.2v1.2h-1.2zM30.7,103.9h1.7v1.2h-1.7zM28,103.9h1.2v1.2h-1.2z" fill="#00ffff"/><g fill="none" stroke="#000" stroke-width="0.75"><circle cx="65" cy="32.2" r="4.5"/><circle cx="62.7" cy="42" r="4.5"/><circle cx="60.7" cy="51.3" r="3"/><circle cx="57" cy="60" r="3"/><circle cx="54.4" cy="68.5" r="3"/><circle cx="51.5" cy="77.1" r="4.5"/><circle cx="48.6" cy="85.1" r="4.5"/><circle cx="45.5" cy="93.7" r="4.5"/><circle cx="78.3" cy="36.9" r="3.5"/><circle cx="75.8" cy="47.4" r="3"/><circle cx="73.9" cy="56.1" r="3"/><circle cx="71.5" cy="65.2" r="3"/><circle cx="69.2" cy="74.1" r="3"/><circle cx="65.9" cy="82.8" r="3"/><circle cx="63.9" cy="90" r="3"/><circle cx="59.1" cy="97.8" r="5"/><circle cx="91.5" cy="40.2" r="3.5"/><circle cx="89.2" cy="50" r="3"/><circle cx="86.3" cy="59.3" r="3"/><circle cx="84.6" cy="69.1" r="3"/><circle cx="82.1" cy="79.5" r="3"/><circle cx="79.1" cy="88.8" r="3"/><circle cx="77.5" cy="95.5" r="3"/><circle cx="72.6" cy="103.1" r="3"/><circle cx="105.1" cy="44" r="3.5"/><circle cx="102.6" cy="53.9" r="3.2"/><circle cx="100.8" cy="63" r="3"/><circle cx="98.7" cy="73.6" r="3"/><circle cx="94.8" cy="85" r="3"/><circle cx="94.3" cy="93.3" r="3"/><circle cx="90.7" cy="100.1" r="3"/><circle cx="86.8" cy="106.9" r="3"/><circle cx="119.2" cy="48.4" r="3.5"/><circle cx="117.6" cy="57.1" r="3.2"/><circle cx="113.8" cy="67" r="3"/><circle cx="112.1" cy="77.5" r="3"/><circle cx="109.3" cy="88" r="3"/><circle cx="107.8" cy="95.8" r="3"/><circle cx="103.5" cy="103" r="3"/><circle cx="99.8" cy="109.9" r="5"/><circle cx="132.9" cy="53.1" r="3.5"/><circle cx="130.4" cy="61.9" r="3.2"/><circle cx="127.8" cy="71.2" r="3.2"/><circle cx="125.5" cy="80.9" r="3"/><circle cx="122.3" cy="90.2" r="3"/><circle cx="119.6" cy="98.2" r="3"/><circle cx="116.7" cy="105.9" r="4.3"/><circle cx="113.4" cy="113.8" r="5"/><circle cx="146.5" cy="56.9" r="3.5"/><circle cx="143.9" cy="65.8" r="3.2"/><circle cx="140.5" cy="75" r="3.2"/><circle cx="138.5" cy="83.9" r="3.2"/><circle cx="135.3" cy="92.8" r="3.2"/><circle cx="132.9" cy="101.2" r="3.2"/><circle cx="130.1" cy="109.7" r="4.3"/><circle cx="127.2" cy="118.1" r="5"/><circle cx="157.6" cy="64.5" r="3.5"/><circle cx="155.2" cy="72.8" r="3.9"/><circle cx="152.7" cy="81.2" r="3.9"/><circle cx="150.3" cy="89.5" r="3.9"/><circle cx="147.6" cy="97.8" r="3.9"/><circle cx="145" cy="106" r="3.9"/><circle cx="142.9" cy="113.9" r="3.9"/><circle cx="140.4" cy="122.1" r="5"/></g><path d="M64.5,31.7h1v1h-1zM61.8,39.2L62.7,42M62.7,42L60.3,40L63.4,38.9zM59,48L60.7,51.3M60.7,51.3L57.9,49.3L60.7,47.8zM56.3,56.9L57,60M57,60L54.8,57.6L57.9,56.9zM53.5,65.7L54.4,68.5M54.4,68.5L52.1,66.5L55.1,65.5zM50.8,74.6L51.5,77.1M51.5,77.1L49.3,75.2L52.4,74.3zM48.1,84.6h1v1h-1zM45,93.2h1v1h-1zM77.8,34.6L78.3,36.9M78.3,36.9L76.3,35L79.4,34.3zM75.1,43.3L75.8,47.4M75.8,47.4L73.7,44.5L76.8,43.9zM72.4,52.1L73.9,56.1M73.9,56.1L71.3,53.6L74.2,52.5zM69.7,60.8L71.5,65.2M71.5,65.2L68.7,62.8L71.7,61.6zM66.9,69.6L69.2,74.1M69.2,74.1L66.3,71.9L69.2,70.5zM64.2,78.3L65.9,82.8M65.9,82.8L63.3,80.3L66.3,79.1zM61.5,87.1L63.9,90M63.9,90L60.7,88.5L63.1,86.5zM58.6,97.3h1v1h-1zM91,39.7h1v1h-1zM88.2,47.1L89.2,50M89.2,50L86.8,47.9L89.9,46.9zM85.6,55.9L86.3,59.3M86.3,59.3L84.1,56.7L87.2,56zM82.9,64.7L84.6,69.1M84.6,69.1L81.9,66.6L84.9,65.4zM80.2,73.5L82.1,79.5M82.1,79.5L79.6,76.8L82.6,75.9zM77.5,82.3L79.1,88.8M79.1,88.8L76.8,86L79.9,85.2zM74.9,91.1L77.5,95.5M77.5,95.5L74.4,93.5L77.2,91.9zM72.2,99.9L72.6,103.1M72.6,103.1L70.7,100.5L73.8,100.1zM104.6,43.5h1v1h-1zM101.9,51.1L102.6,53.9M102.6,53.9L100.4,51.8L103.5,50.9zM99.2,59.9L100.8,63M100.8,63L98,61.1L100.9,59.6zM96.6,68.7L98.7,73.6M98.7,73.6L95.9,71.2L98.9,69.9zM93.9,77.5L94.8,85M94.8,85L92.8,81.9L96,81.5zM91.3,86.3L94.3,93.3M94.3,93.3L91.5,90.9L94.5,89.7zM88.6,95.1L90.7,100.1M90.7,100.1L87.9,97.6L90.9,96.4zM86,103.9L86.8,106.9M86.8,106.9L84.6,104.7L87.6,103.8zM118.7,47.9h1v1h-1zM116.1,55.1L117.6,57.1M117.6,57.1L114.9,56.1L117.5,54.2zM113.4,63.9L113.8,67M113.8,67L111.9,64.5L115,64zM110.6,72.7L112.1,77.5M112.1,77.5L109.6,74.8L112.6,73.9zM107.9,81.6L109.3,88M109.3,88L107,85.1L110.1,84.4zM105.1,90.4L107.8,95.8M107.8,95.8L104.9,93.5L107.8,92.1zM102.4,99.2L103.5,103M103.5,103L101,100.3L104.1,99.4zM99.3,109.4h1v1h-1zM132.4,52.6h1v1h-1zM129.9,61.4h1v1h-1zM126.9,69L127.8,71.2M127.8,71.2L125.4,69.7L128.4,68.5zM124.1,77.7L125.5,80.9M125.5,80.9L122.8,78.8L125.8,77.5zM121.4,86.4L122.3,90.2M122.3,90.2L120,87.4L123.1,86.7zM118.6,95.1L119.6,98.2M119.6,98.2L117.2,96L120.3,95zM115.9,103.8L116.7,105.9M116.7,105.9L114.4,104.4L117.3,103.2zM112.9,113.3h1v1h-1zM146,56.4h1v1h-1zM143.4,65.3h1v1h-1zM140,74.5h1v1h-1zM138,83.4h1v1h-1zM134.8,92.3h1v1h-1zM132.4,100.7h1v1h-1zM129.6,109.2h1v1h-1zM126.7,117.6h1v1h-1zM157.1,64h1v1h-1zM154.7,72.3h1v1h-1zM152.2,80.7h1v1h-1zM149.8,89h1v1h-1zM147.1,97.3h1v1h-1zM144.5,105.5h1v1h-1zM142.4,113.4h1v1h-1zM139.9,121.6h1v1h-1z" fill="#000" stroke="#000" stroke-width="0.95"/><polygon points="58.9,23.4 147,51.3 155,54.6 160.5,58.3 165.1,63.6 145.6,127.2 38.4,95.2" fill="none" stroke="#222" stroke-width="0.7"/><use href="#trench"/></g><rect x="26.6" y="18.4" width="155.2" height="118.3" fill="none" stroke="#000" stroke-width="1.2"/><path d="M72.3,18.4v-5M130.2,18.4v-5" stroke="#000" stroke-width="0.8"/><text x="29.3" y="31.8" font-size="16.6">(c)</text><text x="49.3" y="132.6" font-size="9.8">2013.0-2013.5</text></g>
<g transform="translate(477,0)"><g clip-path="url(#cf)"><rect x="26.6" y="18.4" width="155.2" height="118.3" fill="#fff"/><polygon points="58.9,23.4 147,51.3 155,54.6 160.5,58.3 165.1,63.6 145.6,127.2 38.4,95.2" fill="#b9b9b9"/><g clip-path="url(#ci3)"><g filter="url(#bl)"><path fill="#ffffcc" d="M160 52h4v4h-4zM160 56h8v4h-8zM164 60h4v4h-4zM164 64h4v4h-4z"/><path fill="#ffffc1" d="M144 48h12v4h-12zM136 52h24v4h-24zM48 56h4v4h-4zM136 56h24v4h-24zM136 60h12v4h-12zM156 60h8v4h-8zM136 64h8v4h-8zM160 64h4v4h-4zM136 68h8v4h-8zM160 68h8v4h-8zM164 72h4v4h-4zM44 76h4v4h-4zM44 80h4v4h-4zM128 112h12v4h-12z"/><path fill="#ffffb7" d="M136 48h8v4h-8zM52 52h4v4h-4zM132 52h4v4h-4zM52 56h4v4h-4zM132 56h4v4h-4zM48 60h8v4h-8zM132 60h4v4h-4zM148 60h8v4h-8zM48 64h4v4h-4zM132 64h4v4h-4zM144 64h8v4h-8zM156 64h4v4h-4zM48 68h4v4h-4zM144 68h4v4h-4zM48 72h4v4h-4zM136 72h8v4h-8zM160 72h4v4h-4zM48 76h4v4h-4zM136 76h8v4h-8zM160 76h4v4h-4zM48 80h4v4h-4zM136 80h4v4h-4zM48 84h4v4h-4zM136 84h4v4h-4zM48 88h8v4h-8zM52 92h4v4h-4zM132 108h12v4h-12zM120 112h8v4h-8z"/><path fill="#ffffad" d="M52 44h4v4h-4zM132 44h4v4h-4zM52 48h8v4h-8zM132 48h4v4h-4zM56 52h8v4h-8zM128 52h4v4h-4zM56 56h8v4h-8zM128 56h4v4h-4zM56 60h4v4h-4zM128 60h4v4h-4zM52 64h4v4h-4zM152 64h4v4h-4zM52 68h4v4h-4zM132 68h4v4h-4zM156 68h4v4h-4zM52 72h4v4h-4zM132 72h4v4h-4zM144 72h4v4h-4zM52 76h4v4h-4zM132 76h4v4h-4zM52 80h4v4h-4zM132 80h4v4h-4zM140 80h4v4h-4zM160 80h4v4h-4zM52 84h4v4h-4zM132 84h4v4h-4zM140 84h4v4h-4zM160 84h4v4h-4zM56 88h4v4h-4zM136 88h4v4h-4zM56 92h4v4h-4zM56 96h4v4h-4zM128 108h4v4h-4zM144 108h4v4h-4z"/><path fill="#ffffa3" d="M60 36h4v4h-4zM56 40h4v4h-4zM56 44h4v4h-4zM128 44h4v4h-4zM60 48h8v4h-8zM128 48h4v4h-4zM64 52h8v4h-8zM124 52h4v4h-4zM64 56h4v4h-4zM124 56h4v4h-4zM60 60h4v4h-4zM56 64h4v4h-4zM128 64h4v4h-4zM56 68h4v4h-4zM148 68h8v4h-8zM56 72h4v4h-4zM156 72h4v4h-4zM56 76h4v4h-4zM144 76h4v4h-4zM56 80h4v4h-4zM56 84h4v4h-4zM60 88h4v4h-4zM132 88h4v4h-4zM140 88h4v4h-4zM60 92h4v4h-4zM136 92h4v4h-4zM60 96h4v4h-4zM64 100h4v4h-4zM136 104h8v4h-8zM124 108h4v4h-4z"/><path fill="#ffff99" d="M64 36h8v4h-8zM60 40h4v4h-4zM60 44h8v4h-8zM124 44h4v4h-4zM68 48h4v4h-4zM124 48h4v4h-4zM72 52h4v4h-4zM120 52h4v4h-4zM68 56h8v4h-8zM64 60h8v4h-8zM124 60h4v4h-4zM60 64h8v4h-8zM60 68h4v4h-4zM128 68h4v4h-4zM60 72h4v4h-4zM128 72h4v4h-4zM148 72h8v4h-8zM156 76h4v4h-4zM60 80h4v4h-4zM144 80h4v4h-4zM156 80h4v4h-4zM60 84h4v4h-4zM128 84h4v4h-4zM64 88h4v4h-4zM64 92h4v4h-4zM132 92h4v4h-4zM140 92h4v4h-4zM64 96h4v4h-4zM136 96h4v4h-4zM68 100h4v4h-4zM136 100h4v4h-4zM132 104h4v4h-4zM144 104h4v4h-4zM116 108h8v4h-8z"/><path fill="#ffff8e" d="M72 36h4v4h-4zM64 40h8v4h-8zM68 44h4v4h-4zM120 44h4v4h-4zM72 48h4v4h-4zM120 48h4v4h-4zM76 52h4v4h-4zM120 56h4v4h-4zM68 64h4v4h-4zM64 68h4v4h-4zM60 76h4v4h-4zM128 76h4v4h-4zM148 76h8v4h-8zM64 80h4v4h-4zM128 80h4v4h-4zM64 84h4v4h-4zM144 84h4v4h-4zM156 84h4v4h-4zM128 88h4v4h-4zM144 88h4v4h-4zM156 88h4v4h-4zM68 92h4v4h-4zM128 92h4v4h-4zM156 92h4v4h-4zM68 96h4v4h-4zM132 96h4v4h-4zM140 96h4v4h-4zM72 100h4v4h-4zM132 100h4v4h-4zM140 100h4v4h-4zM76 104h4v4h-4zM128 104h4v4h-4zM148 104h4v4h-4zM88 108h8v4h-8zM108 108h8v4h-8z"/><path fill="#ffff84" d="M76 36h8v4h-8zM72 40h4v4h-4zM72 44h4v4h-4zM116 44h4v4h-4zM76 48h4v4h-4zM116 48h4v4h-4zM80 52h4v4h-4zM116 52h4v4h-4zM76 56h4v4h-4zM72 60h4v4h-4zM124 64h4v4h-4zM68 68h4v4h-4zM64 72h4v4h-4zM64 76h4v4h-4zM148 80h8v4h-8zM68 84h4v4h-4zM68 88h4v4h-4zM144 92h4v4h-4zM72 96h4v4h-4zM144 96h4v4h-4zM144 100h12v4h-12zM80 104h4v4h-4zM124 104h4v4h-4zM96 108h12v4h-12z"/><path fill="#ffff7a" d="M84 36h12v4h-12zM76 40h4v4h-4zM76 44h4v4h-4zM112 44h4v4h-4zM80 48h8v4h-8zM112 48h4v4h-4zM84 52h4v4h-4zM112 52h4v4h-4zM80 56h4v4h-4zM116 56h4v4h-4zM76 60h4v4h-4zM120 60h4v4h-4zM72 64h4v4h-4zM124 68h4v4h-4zM68 72h4v4h-4zM68 76h4v4h-4zM68 80h4v4h-4zM148 84h8v4h-8zM124 88h4v4h-4zM148 88h8v4h-8zM72 92h4v4h-4zM152 92h4v4h-4zM128 96h4v4h-4zM148 96h8v4h-8zM76 100h4v4h-4zM128 100h4v4h-4zM84 104h4v4h-4zM120 104h4v4h-4z"/><path fill="#ffff70" d="M80 40h8v4h-8zM108 40h4v4h-4zM80 44h8v4h-8zM108 44h4v4h-4zM88 48h4v4h-4zM108 48h4v4h-4zM88 52h4v4h-4zM108 52h4v4h-4zM72 68h4v4h-4zM124 72h4v4h-4zM124 76h4v4h-4zM124 80h4v4h-4zM124 84h4v4h-4zM72 88h4v4h-4zM124 92h4v4h-4zM148 92h4v4h-4zM124 100h4v4h-4zM116 104h4v4h-4z"/><path fill="#ffff66" d="M88 40h20v4h-20zM88 44h20v4h-20zM92 48h16v4h-16zM92 52h4v4h-4zM104 52h4v4h-4zM84 56h4v4h-4zM112 56h4v4h-4zM80 60h4v4h-4zM116 60h4v4h-4zM76 64h4v4h-4zM120 64h4v4h-4zM72 72h4v4h-4zM72 80h4v4h-4zM72 84h4v4h-4zM76 92h4v4h-4zM76 96h4v4h-4zM124 96h4v4h-4zM80 100h4v4h-4zM88 104h4v4h-4zM112 104h4v4h-4z"/><path fill="#ffff5b" d="M96 52h8v4h-8zM88 56h4v4h-4zM72 76h4v4h-4zM76 88h4v4h-4zM120 100h4v4h-4zM92 104h4v4h-4zM108 104h4v4h-4z"/><path fill="#ffff51" d="M92 56h4v4h-4zM108 56h4v4h-4zM84 60h4v4h-4zM76 68h4v4h-4zM120 68h4v4h-4zM76 84h4v4h-4zM120 88h4v4h-4zM120 92h4v4h-4zM80 96h4v4h-4zM120 96h4v4h-4zM84 100h4v4h-4zM96 104h12v4h-12z"/><path fill="#ffff47" d="M96 56h12v4h-12zM112 60h4v4h-4zM80 64h4v4h-4zM116 64h4v4h-4zM76 72h4v4h-4zM120 72h4v4h-4zM76 80h4v4h-4zM120 84h4v4h-4zM80 92h4v4h-4zM116 100h4v4h-4z"/><path fill="#ffff3d" d="M76 76h4v4h-4zM120 76h4v4h-4zM120 80h4v4h-4zM80 88h4v4h-4zM84 96h4v4h-4zM88 100h4v4h-4z"/><path fill="#ffff32" d="M88 60h4v4h-4zM108 60h4v4h-4zM80 68h4v4h-4zM116 92h4v4h-4zM116 96h4v4h-4zM112 100h4v4h-4z"/><path fill="#ffff28" d="M92 60h4v4h-4zM84 64h4v4h-4zM112 64h4v4h-4zM116 68h4v4h-4zM80 84h4v4h-4zM116 88h4v4h-4zM84 92h4v4h-4zM92 100h4v4h-4zM108 100h4v4h-4z"/><path fill="#ffff1e" d="M96 60h12v4h-12zM80 72h4v4h-4zM80 80h4v4h-4zM116 84h4v4h-4zM88 96h4v4h-4zM112 96h4v4h-4zM96 100h12v4h-12z"/><path fill="#ffff14" d="M116 72h4v4h-4zM80 76h4v4h-4zM116 80h4v4h-4zM84 88h4v4h-4zM112 92h4v4h-4z"/><path fill="#ffff0a" d="M88 64h4v4h-4zM108 64h4v4h-4zM84 68h4v4h-4zM116 76h4v4h-4zM112 88h4v4h-4zM88 92h4v4h-4zM92 96h4v4h-4zM108 96h4v4h-4z"/><path fill="#ffff00" d="M112 68h4v4h-4zM84 84h4v4h-4zM108 92h4v4h-4zM96 96h4v4h-4zM104 96h4v4h-4z"/><path fill="#fff600" d="M92 64h4v4h-4zM104 64h4v4h-4zM84 72h4v4h-4zM112 84h4v4h-4zM88 88h4v4h-4zM92 92h4v4h-4zM100 96h4v4h-4z"/><path fill="#ffed00" d="M96 64h8v4h-8zM88 68h4v4h-4zM112 72h4v4h-4zM84 76h4v4h-4zM84 80h4v4h-4zM108 88h4v4h-4zM104 92h4v4h-4z"/><path fill="#ffe500" d="M108 68h4v4h-4zM112 80h4v4h-4zM96 92h8v4h-8z"/><path fill="#ffdc00" d="M112 76h4v4h-4zM88 84h4v4h-4zM92 88h4v4h-4z"/><path fill="#ffd400" d="M92 68h4v4h-4zM88 72h4v4h-4zM108 84h4v4h-4zM104 88h4v4h-4z"/><path fill="#ffcb00" d="M104 68h4v4h-4zM88 80h4v4h-4zM96 88h8v4h-8z"/><path fill="#ffc200" d="M96 68h8v4h-8zM108 72h4v4h-4zM88 76h4v4h-4zM108 80h4v4h-4zM92 84h4v4h-4z"/><path fill="#ffba00" d="M108 76h4v4h-4zM104 84h4v4h-4z"/><path fill="#ffb100" d="M92 72h4v4h-4zM96 84h8v4h-8z"/><path fill="#ffa800" d="M104 72h4v4h-4zM92 76h4v4h-4zM92 80h4v4h-4z"/><path fill="#ffa000" d="M96 72h8v4h-8zM104 76h4v4h-4zM104 80h4v4h-4z"/><path fill="#ff9700" d="M96 76h4v4h-4zM96 80h8v4h-8z"/><path fill="#ff8f00" d="M100 76h4v4h-4z"/></g></g><path d="M119.7,77.5 C119.8,78 120.1,79.3 120.1,80.3 C120.2,81.2 120.2,82.2 119.9,83.2 C119.7,84.1 119,84.9 118.4,85.7 C117.9,86.5 117.3,87.4 116.6,88.1 C115.8,88.7 114.6,89 113.8,89.7 C113,90.3 112.5,91.4 111.6,91.9 C110.7,92.3 109.4,92.5 108.4,92.6 C107.3,92.7 106.1,92.3 105.1,92.5 C104,92.6 103,93.4 102,93.4 C101,93.4 100.1,92.4 99,92.4 C97.9,92.4 96.5,93.4 95.3,93.3 C94.2,93.3 93.1,92.7 92.3,92.1 C91.4,91.5 91,90.3 90.3,89.5 C89.7,88.8 89,88.2 88.2,87.5 C87.3,86.9 85.9,86.6 85.5,85.8 C85,85 85.4,83.7 85.2,82.8 C85.1,81.8 84.7,81.1 84.5,80.2 C84.3,79.3 84.3,78.4 84.2,77.5 C84.1,76.6 84.1,75.7 84.1,74.8 C84.1,73.8 84.2,72.9 84.4,71.9 C84.5,71 84.4,69.8 85.1,69.1 C85.7,68.3 87.6,68.3 88.3,67.6 C89,66.8 88.7,65.2 89.5,64.6 C90.2,63.9 91.7,64 92.7,63.6 C93.7,63.1 94.4,62.1 95.4,61.7 C96.4,61.3 97.6,61.1 98.7,61.1 C99.8,61.2 100.9,62.1 102,62.2 C103.1,62.2 104.3,61.3 105.3,61.5 C106.3,61.6 107.1,62.6 108,63.1 C108.9,63.6 109.8,64.1 110.7,64.5 C111.7,64.8 112.8,65 113.7,65.4 C114.7,65.8 115.9,66.2 116.6,66.9 C117.4,67.6 117.8,68.5 118.1,69.4 C118.5,70.3 118.3,71.4 118.7,72.2 C119.2,73.1 120.8,73.7 121,74.6 C121.1,75.5 119.9,77 119.7,77.5" fill="none" stroke="#000" stroke-width="0.8"/><use href="#lines"/><path d="M42.6,77.5h1.7v1.2h-1.7zM31.5,99.5h1.2v1.2h-1.2zM41.7,85.1h1.2v1.2h-1.2zM39.4,84.6h1.7v1.2h-1.7zM42.7,84.9h1.2v1.2h-1.2zM32.7,98.2h1.2v1.2h-1.2zM42.8,71.3h1.2v1.2h-1.2zM36.1,82.4h1.7v1.2h-1.7zM32.1,87.5h1.7v1.2h-1.7zM29.9,94.9h1.2v1.2h-1.2zM26.1,100.5h1.7v1.2h-1.7zM31.7,88.3h1.7v1.2h-1.7zM40.6,80.4h1.2v1.2h-1.2zM28.1,92.2h1.2v1.2h-1.2zM36.1,84.1h1.7v1.2h-1.7zM29.4,93.6h1.7v1.2h-1.7zM39.6,77h1.2v1.2h-1.2zM42.6,81.4h1.2v1.2h-1.2zM30.2,94.5h1.2v1.2h-1.2zM35.8,84.4h1.2v1.2h-1.2zM39.9,84.6h1.7v1.2h-1.7zM36.9,79.2h1.2v1.2h-1.2zM27.9,84.3h1.7v1.2h-1.7zM33.2,85.9h1.2v1.2h-1.2zM40.6,78.4h1.7v1.2h-1.7zM22.7,101.5h1.2v1.2h-1.2zM27.7,94.9h1.2v1.2h-1.2zM28.9,100.4h1.2v1.2h-1.2zM29.2,101.2h1.2v1.2h-1.2zM32.6,96.2h1.2v1.2h-1.2zM30.9,87.1h1.7v1.2h-1.7zM23.1,104.3h1.2v1.2h-1.2zM26.7,96.7h1.7v1.2h-1.7zM36.1,83.6h1.2v1.2h-1.2zM33.5,96.3h1.2v1.2h-1.2zM40.5,78.1h1.2v1.2h-1.2zM38.7,86.9h1.2v1.2h-1.2zM42.3,82h1.7v1.2h-1.7zM40.5,83h1.2v1.2h-1.2zM34.5,89.4h1.2v1.2h-1.2zM31.1,90.7h1.7v1.2h-1.7zM38.8,78h1.7v1.2h-1.7zM35.1,90.3h1.2v1.2h-1.2zM36.2,79.8h1.7v1.2h-1.7zM43.5,79h1.7v1.2h-1.7zM35.9,84.4h1.2v1.2h-1.2zM30.8,98.4h1.2v1.2h-1.2zM35.9,88h1.2v1.2h-1.2zM38.1,77.7h1.7v1.2h-1.7zM29.9,100.2h1.7v1.2h-1.7zM40.6,81h1.2v1.2h-1.2zM39.3,86.6h1.2v1.2h-1.2zM36.1,83.4h1.7v1.2h-1.7zM41.2,72.1h1.7v1.2h-1.7zM35.9,86.7h1.2v1.2h-1.2zM28.8,99.5h1.2v1.2h-1.2zM33.1,95.2h1.2v1.2h-1.2zM26.1,97.6h1.2v1.2h-1.2zM38.5,83.6h1.7v1.2h-1.7zM56.7,56h1.7v1.2h-1.7zM48.9,64.6h1.2v1.2h-1.2zM46.7,68.9h1.7v1.2h-1.7zM55.6,59h1.7v1.2h-1.7zM50.2,64.6h1.2v1.2h-1.2zM54.1,55.1h1.7v1.2h-1.7zM42.1,71.5h1.7v1.2h-1.7zM46.8,67.5h1.2v1.2h-1.2zM41.3,73.2h1.2v1.2h-1.2zM46.4,62.5h1.2v1.2h-1.2zM54.7,55.2h1.2v1.2h-1.2zM53.1,59.2h1.2v1.2h-1.2zM50.2,64.4h1.7v1.2h-1.7zM50,61.2h1.7v1.2h-1.7zM53.4,60.4h1.7v1.2h-1.7zM48.4,61.4h1.2v1.2h-1.2zM47.4,65.5h1.7v1.2h-1.7zM50,64.2h1.2v1.2h-1.2zM98.7,52.2h1.2v1.2h-1.2zM100,52.5h1.7v1.2h-1.7zM71.6,55.7h1.7v1.2h-1.7zM73.9,54.7h1.7v1.2h-1.7zM68.5,52.7h1.2v1.2h-1.2zM61.7,55.7h1.2v1.2h-1.2zM60.9,54.2h1.2v1.2h-1.2zM80.9,53.5h1.2v1.2h-1.2zM67.8,53.3h1.2v1.2h-1.2zM62.8,52.1h1.7v1.2h-1.7zM89.8,56h1.7v1.2h-1.7zM70.8,52.3h1.2v1.2h-1.2zM75,54.8h1.7v1.2h-1.7zM100.3,45.8h1.7v1.2h-1.7zM89,59.3h1.7v1.2h-1.7zM81.2,56.5h1.7v1.2h-1.7zM100.2,49.2h1.7v1.2h-1.7zM99.4,51.3h1.7v1.2h-1.7zM60.9,53h1.7v1.2h-1.7zM82.2,56.3h1.2v1.2h-1.2zM71.8,51h1.7v1.2h-1.7zM72.5,52.2h1.2v1.2h-1.2zM60.9,54.5h1.2v1.2h-1.2zM82.4,57.5h1.2v1.2h-1.2zM103.4,46.6h1.7v1.2h-1.7zM95.3,48.7h1.2v1.2h-1.2zM60.3,56.1h1.7v1.2h-1.7zM101.6,50.1h1.2v1.2h-1.2zM68.8,55.9h1.2v1.2h-1.2zM92.7,57.9h1.2v1.2h-1.2zM80.8,54h1.2v1.2h-1.2zM64,55.2h1.7v1.2h-1.7zM76.2,53.8h1.2v1.2h-1.2zM70.6,57.7h1.2v1.2h-1.2zM70,55.4h1.7v1.2h-1.7zM105,46.6h1.2v1.2h-1.2zM90.3,56h1.7v1.2h-1.7zM57.5,52h1.7v1.2h-1.7zM81.3,56.2h1.2v1.2h-1.2zM85.2,57.1h1.2v1.2h-1.2zM68.7,54.4h1.2v1.2h-1.2zM85.8,54.9h1.2v1.2h-1.2zM88,51.8h1.2v1.2h-1.2zM90.2,55h1.7v1.2h-1.7zM79.5,56.8h1.7v1.2h-1.7zM112.1,43.5h1.7v1.2h-1.7zM117.1,39.2h1.2v1.2h-1.2zM24.6,106.3h1.7v1.2h-1.7zM27,109.2h1.2v1.2h-1.2zM27.4,104h1.2v1.2h-1.2z" fill="#00ffff"/><g fill="none" stroke="#000" stroke-width="0.75"><circle cx="65.4" cy="31.2" r="4.5"/><circle cx="62.8" cy="40.8" r="4.5"/><circle cx="60.1" cy="49.5" r="4.5"/><circle cx="57.5" cy="58.3" r="4.5"/><circle cx="54.8" cy="67.3" r="4.5"/><circle cx="51.7" cy="75.9" r="4.5"/><circle cx="48.9" cy="84.6" r="4.5"/><circle cx="46" cy="93.3" r="4.5"/><circle cx="78.9" cy="36.2" r="3.5"/><circle cx="76.8" cy="46.1" r="3"/><circle cx="73.6" cy="54.4" r="3.2"/><circle cx="71.3" cy="62.9" r="3.2"/><circle cx="68.9" cy="71.7" r="3"/><circle cx="65.8" cy="80.7" r="3.2"/><circle cx="63.1" cy="89" r="3.2"/><circle cx="60" cy="97" r="5"/><circle cx="92.1" cy="40.8" r="3.5"/><circle cx="90.2" cy="50.3" r="3"/><circle cx="87.9" cy="58.6" r="3"/><circle cx="85.8" cy="68.2" r="3"/><circle cx="83.2" cy="77.8" r="3"/><circle cx="80.3" cy="86.1" r="3"/><circle cx="76.9" cy="94.1" r="3"/><circle cx="74" cy="102.2" r="3"/><circle cx="106.9" cy="44.3" r="3.5"/><circle cx="104.9" cy="53.6" r="3"/><circle cx="101.9" cy="64.4" r="3"/><circle cx="101.2" cy="75" r="3"/><circle cx="101.2" cy="83" r="3"/><circle cx="95.8" cy="92.6" r="3"/><circle cx="92" cy="99.8" r="3"/><circle cx="88.2" cy="107.3" r="3"/><circle cx="120.5" cy="48.3" r="3.5"/><circle cx="118.1" cy="57.8" r="3"/><circle cx="117" cy="67.7" r="3"/><circle cx="116.6" cy="77.9" r="3"/><circle cx="113.6" cy="88.5" r="3"/><circle cx="109.8" cy="96.6" r="3"/><circle cx="106.5" cy="104.1" r="3"/><circle cx="101.8" cy="109.9" r="5"/><circle cx="133.7" cy="53.1" r="3.5"/><circle cx="131.1" cy="61.9" r="3.2"/><circle cx="128.6" cy="71.6" r="3"/><circle cx="127.2" cy="80.6" r="3"/><circle cx="124.7" cy="89.7" r="3"/><circle cx="122" cy="98.8" r="3"/><circle cx="118.6" cy="107.4" r="3"/><circle cx="114" cy="114.1" r="5"/><circle cx="146.8" cy="57" r="3.5"/><circle cx="144.4" cy="65.6" r="3.2"/><circle cx="141.7" cy="74.5" r="3.2"/><circle cx="138.6" cy="83.7" r="3.2"/><circle cx="136.3" cy="92.6" r="3.2"/><circle cx="134.3" cy="102" r="3"/><circle cx="131" cy="110.3" r="4.3"/><circle cx="127.6" cy="118.1" r="5"/><circle cx="157.9" cy="64.9" r="3.5"/><circle cx="156.1" cy="73.6" r="3.9"/><circle cx="154.4" cy="82.2" r="3"/><circle cx="152.2" cy="90.6" r="3"/><circle cx="149" cy="99.3" r="3"/><circle cx="146.5" cy="106.8" r="3.9"/><circle cx="143.3" cy="114.1" r="3.9"/><circle cx="140.6" cy="122.2" r="5"/></g><path d="M64.9,30.7h1v1h-1zM62.3,40.3h1v1h-1zM59.6,49h1v1h-1zM57,57.8h1v1h-1zM54.3,66.8h1v1h-1zM51.2,75.4h1v1h-1zM48.4,84.1h1v1h-1zM45.5,92.8h1v1h-1zM78.4,35.7h1v1h-1zM75.1,43.3L76.8,46.1M76.8,46.1L73.9,44.5L76.7,42.9zM72.4,52.1L73.6,54.4M73.6,54.4L71,52.9L73.9,51.5zM69.7,60.8L71.3,62.9M71.3,62.9L68.5,61.9L71,59.9zM66.9,69.6L68.9,71.7M68.9,71.7L66,70.9L68.3,68.7zM64.2,78.3L65.8,80.7M65.8,80.7L63,79.4L65.7,77.7zM61.5,87.1L63.1,89M63.1,89L60.3,88.2L62.8,86.1zM59.5,96.5h1v1h-1zM90.9,38.3L92.1,40.8M92.1,40.8L89.6,39.2L92.4,37.8zM88.2,47.1L90.2,50.3M90.2,50.3L87.2,48.5L89.9,46.8zM85.6,55.9L87.9,58.6M87.9,58.6L84.7,57.3L87.1,55.3zM82.9,64.7L85.8,68.2M85.8,68.2L82.5,66.7L84.9,64.6zM80.2,73.5L83.2,77.8M83.2,77.8L80,76L82.6,74.1zM77.5,82.3L80.3,86.1M80.3,86.1L77.1,84.4L79.7,82.5zM74.9,91.1L76.9,94.1M76.9,94.1L73.9,92.5L76.5,90.6zM72.2,99.9L74,102.2M74,102.2L71.1,101.1L73.6,99.1zM104.5,42.3L106.9,44.3M106.9,44.3L103.8,43.8L105.8,41.3zM101.9,51.1L104.9,53.6M104.9,53.6L101.4,52.8L103.4,50.3zM99.2,59.9L101.9,64.4M101.9,64.4L98.8,62.4L101.6,60.7zM96.6,68.7L101.2,75M101.2,75L98,73.3L100.6,71.4zM93.9,77.5L101.2,83M101.2,83L97.6,82.3L99.5,79.7zM91.3,86.3L95.8,92.6M95.8,92.6L92.6,90.9L95.2,89zM88.6,95.1L92,99.8M92,99.8L88.8,98.1L91.4,96.2zM86,103.9L88.2,107.3M88.2,107.3L85,105.4L87.7,103.6zM118.9,46.3L120.5,48.3M120.5,48.3L117.7,47.4L120.2,45.4zM116.1,55.1L118.1,57.8M118.1,57.8L115.1,56.4L117.7,54.5zM113.4,63.9L117,67.7M117,67.7L113.5,66.4L115.9,64.2zM110.6,72.7L116.6,77.9M116.6,77.9L113,76.9L115.1,74.5zM107.9,81.6L113.6,88.5M113.6,88.5L110.3,86.9L112.7,84.9zM105.1,90.4L109.8,96.6M109.8,96.6L106.5,94.9L109.1,93zM102.4,99.2L106.5,104.1M106.5,104.1L103.2,102.6L105.6,100.5zM99.6,108L101.8,109.9M101.8,109.9L98.8,109.4L100.9,107zM133.2,52.6h1v1h-1zM130.6,61.4h1v1h-1zM126.9,69L128.6,71.6M128.6,71.6L125.7,70.2L128.4,68.4zM124.1,77.7L127.2,80.6M127.2,80.6L123.7,79.5L125.9,77.2zM121.4,86.4L124.7,89.7M124.7,89.7L121.3,88.5L123.5,86.3zM118.6,95.1L122,98.8M122,98.8L118.6,97.5L121,95.3zM115.9,103.8L118.6,107.4M118.6,107.4L115.3,105.8L117.9,103.8zM113.5,113.6h1v1h-1zM146.3,56.5h1v1h-1zM143.9,65.1h1v1h-1zM141.2,74h1v1h-1zM138.1,83.2h1v1h-1zM135.8,92.1h1v1h-1zM132.3,99.6L134.3,102M134.3,102L131.3,100.9L133.8,98.8zM129.6,108.3L131,110.3M131,110.3L128.3,109.3L130.9,107.5zM127.1,117.6h1v1h-1zM157.4,64.4h1v1h-1zM154.7,71.7L156.1,73.6M156.1,73.6L153.4,72.7L156,70.7zM152.2,79.9L154.4,82.2M154.4,82.2L151.3,81.3L153.6,79.1zM149.8,88.2L152.2,90.6M152.2,90.6L149,89.6L151.2,87.4zM147.3,96.5L149,99.3M149,99.3L146.2,97.6L148.9,96zM144.9,104.7L146.5,106.8M146.5,106.8L143.7,105.8L146.2,103.9zM142.8,113.6h1v1h-1zM140.1,121.7h1v1h-1z" fill="#000" stroke="#000" stroke-width="0.95"/><polygon points="58.9,23.4 147,51.3 155,54.6 160.5,58.3 165.1,63.6 145.6,127.2 38.4,95.2" fill="none" stroke="#222" stroke-width="0.7"/><use href="#trench"/></g><rect x="26.6" y="18.4" width="155.2" height="118.3" fill="none" stroke="#000" stroke-width="1.2"/><path d="M72.3,18.4v-5M130.2,18.4v-5M181.8,60.5h5M181.8,129.8h5" stroke="#000" stroke-width="0.8"/><text x="29.3" y="31.8" font-size="16.6">(d)</text><text x="49.3" y="132.6" font-size="9.8">2013.5-2014.0</text></g>
<g transform="translate(0,126.8)"><g clip-path="url(#cf)"><rect x="26.6" y="18.4" width="155.2" height="118.3" fill="#fff"/><polygon points="58.9,23.4 147,51.3 155,54.6 160.5,58.3 165.1,63.6 145.6,127.2 38.4,95.2" fill="#b9b9b9"/><g clip-path="url(#ci4)"><g filter="url(#bl)"><path fill="#ffffcc" d="M56 84h8v4h-8zM56 88h8v4h-8z"/><path fill="#ffffc1" d="M52 72h8v4h-8zM48 76h16v4h-16zM44 80h24v4h-24zM44 84h12v4h-12zM64 84h4v4h-4zM44 88h12v4h-12zM64 88h8v4h-8zM48 92h24v4h-24zM56 96h12v4h-12z"/><path fill="#ffffb7" d="M48 60h12v4h-12zM44 64h20v4h-20zM44 68h24v4h-24zM44 72h8v4h-8zM60 72h8v4h-8zM44 76h4v4h-4zM64 76h4v4h-4zM68 80h4v4h-4zM68 84h4v4h-4zM72 88h4v4h-4zM72 92h4v4h-4zM68 96h8v4h-8zM64 100h12v4h-12z"/><path fill="#ffffad" d="M48 52h4v4h-4zM48 56h20v4h-20zM60 60h12v4h-12zM64 64h8v4h-8zM68 68h4v4h-4zM68 72h4v4h-4zM164 72h4v4h-4zM68 76h4v4h-4zM160 80h4v4h-4zM72 84h4v4h-4zM160 84h4v4h-4zM156 88h4v4h-4zM76 92h4v4h-4zM156 92h4v4h-4zM76 96h4v4h-4zM76 100h8v4h-8zM152 100h4v4h-4zM76 104h16v4h-16zM148 104h4v4h-4zM88 108h20v4h-20zM140 108h8v4h-8zM120 112h20v4h-20z"/><path fill="#ffffa3" d="M60 28h12v4h-12zM52 52h16v4h-16zM68 56h12v4h-12zM164 56h4v4h-4zM72 60h8v4h-8zM164 60h4v4h-4zM72 64h4v4h-4zM164 64h4v4h-4zM72 68h4v4h-4zM160 68h8v4h-8zM72 72h4v4h-4zM160 72h4v4h-4zM72 76h4v4h-4zM160 76h4v4h-4zM72 80h4v4h-4zM156 80h4v4h-4zM156 84h4v4h-4zM76 88h4v4h-4zM152 88h4v4h-4zM148 92h8v4h-8zM80 96h4v4h-4zM148 96h8v4h-8zM84 100h8v4h-8zM144 100h8v4h-8zM92 104h20v4h-20zM140 104h8v4h-8zM108 108h32v4h-32z"/><path fill="#ffff99" d="M72 28h20v4h-20zM48 48h8v4h-8zM68 52h12v4h-12zM160 52h4v4h-4zM80 56h12v4h-12zM160 56h4v4h-4zM80 60h4v4h-4zM160 60h4v4h-4zM76 64h4v4h-4zM160 64h4v4h-4zM156 72h4v4h-4zM156 76h4v4h-4zM152 80h4v4h-4zM76 84h4v4h-4zM148 84h8v4h-8zM148 88h4v4h-4zM80 92h4v4h-4zM144 92h4v4h-4zM84 96h8v4h-8zM140 96h8v4h-8zM92 100h20v4h-20zM136 100h8v4h-8zM112 104h28v4h-28z"/><path fill="#ffff8e" d="M56 32h12v4h-12zM56 48h12v4h-12zM80 52h32v4h-32zM92 56h24v4h-24zM84 60h8v4h-8zM80 64h4v4h-4zM156 64h4v4h-4zM76 68h4v4h-4zM156 68h4v4h-4zM76 72h4v4h-4zM152 76h4v4h-4zM76 80h4v4h-4zM148 80h4v4h-4zM144 84h4v4h-4zM80 88h4v4h-4zM140 88h8v4h-8zM84 92h4v4h-4zM136 92h8v4h-8zM92 96h4v4h-4zM132 96h8v4h-8zM112 100h24v4h-24z"/><path fill="#ffff84" d="M68 32h8v4h-8zM52 36h8v4h-8zM52 40h4v4h-4zM52 44h8v4h-8zM68 48h8v4h-8zM112 52h8v4h-8zM156 52h4v4h-4zM116 56h4v4h-4zM156 56h4v4h-4zM92 60h24v4h-24zM156 60h4v4h-4zM84 64h4v4h-4zM152 72h4v4h-4zM76 76h4v4h-4zM140 84h4v4h-4zM128 88h12v4h-12zM88 92h4v4h-4zM124 92h12v4h-12zM96 96h36v4h-36z"/><path fill="#ffff7a" d="M76 32h32v4h-32zM60 36h4v4h-4zM56 40h4v4h-4zM60 44h4v4h-4zM76 48h8v4h-8zM120 56h4v4h-4zM116 60h4v4h-4zM80 68h4v4h-4zM152 68h4v4h-4zM148 76h4v4h-4zM140 80h8v4h-8zM80 84h4v4h-4zM128 84h12v4h-12zM84 88h4v4h-4zM120 88h8v4h-8zM116 92h8v4h-8z"/><path fill="#ffff70" d="M64 36h4v4h-4zM60 40h4v4h-4zM64 44h4v4h-4zM84 48h36v4h-36zM152 48h4v4h-4zM120 52h4v4h-4zM152 52h4v4h-4zM152 56h4v4h-4zM120 60h4v4h-4zM152 60h4v4h-4zM88 64h4v4h-4zM112 64h12v4h-12zM152 64h4v4h-4zM80 72h4v4h-4zM148 72h4v4h-4zM144 76h4v4h-4zM80 80h4v4h-4zM128 80h12v4h-12zM124 84h4v4h-4zM116 88h4v4h-4zM92 92h4v4h-4zM108 92h8v4h-8z"/><path fill="#ffff66" d="M68 36h8v4h-8zM64 40h4v4h-4zM68 44h8v4h-8zM120 48h4v4h-4zM124 56h4v4h-4zM124 60h4v4h-4zM92 64h4v4h-4zM108 64h4v4h-4zM84 68h4v4h-4zM120 68h4v4h-4zM148 68h4v4h-4zM80 76h4v4h-4zM124 76h8v4h-8zM140 76h4v4h-4zM124 80h4v4h-4zM120 84h4v4h-4zM96 92h12v4h-12z"/><path fill="#ffff5b" d="M76 36h8v4h-8zM108 36h16v4h-16zM68 40h4v4h-4zM76 44h8v4h-8zM148 48h4v4h-4zM124 52h4v4h-4zM148 52h4v4h-4zM148 60h4v4h-4zM96 64h12v4h-12zM124 64h4v4h-4zM148 64h4v4h-4zM116 68h4v4h-4zM124 68h4v4h-4zM120 72h12v4h-12zM144 72h4v4h-4zM120 76h4v4h-4zM132 76h8v4h-8zM120 80h4v4h-4zM84 84h4v4h-4zM116 84h4v4h-4zM88 88h4v4h-4zM112 88h4v4h-4z"/><path fill="#ffff51" d="M84 36h24v4h-24zM72 40h8v4h-8zM84 44h40v4h-40zM124 48h4v4h-4zM128 56h4v4h-4zM148 56h4v4h-4zM128 60h4v4h-4zM128 64h4v4h-4zM88 68h4v4h-4zM112 68h4v4h-4zM128 68h4v4h-4zM144 68h4v4h-4zM84 72h4v4h-4zM116 72h4v4h-4zM132 72h12v4h-12zM108 88h4v4h-4z"/><path fill="#ffff47" d="M80 40h8v4h-8zM104 40h28v4h-28zM124 44h4v4h-4zM128 48h4v4h-4zM144 48h4v4h-4zM128 52h4v4h-4zM144 64h4v4h-4zM108 68h4v4h-4zM132 68h4v4h-4zM140 68h4v4h-4zM116 76h4v4h-4zM84 80h4v4h-4zM116 80h4v4h-4zM112 84h4v4h-4zM92 88h4v4h-4z"/><path fill="#ffff3d" d="M88 40h16v4h-16zM132 40h4v4h-4zM128 44h4v4h-4zM140 44h4v4h-4zM132 52h4v4h-4zM144 52h4v4h-4zM132 56h4v4h-4zM144 56h4v4h-4zM132 60h4v4h-4zM144 60h4v4h-4zM132 64h4v4h-4zM136 68h4v4h-4zM112 72h4v4h-4zM84 76h4v4h-4zM88 84h4v4h-4zM96 88h12v4h-12z"/><path fill="#ffff32" d="M132 44h8v4h-8zM132 48h12v4h-12zM136 52h8v4h-8zM136 56h8v4h-8zM136 60h8v4h-8zM136 64h8v4h-8zM92 68h4v4h-4zM104 68h4v4h-4z"/><path fill="#ffff28" d="M96 68h8v4h-8zM88 72h4v4h-4zM112 76h4v4h-4zM112 80h4v4h-4zM108 84h4v4h-4z"/><path fill="#ffff1e" d="M108 72h4v4h-4zM88 80h4v4h-4zM92 84h4v4h-4z"/><path fill="#ffff14" d="M88 76h4v4h-4zM104 84h4v4h-4z"/><path fill="#ffff0a" d="M92 72h4v4h-4zM108 76h4v4h-4zM108 80h4v4h-4zM96 84h8v4h-8z"/><path fill="#ffff00" d="M104 72h4v4h-4z"/><path fill="#fff600" d="M96 72h8v4h-8zM92 80h4v4h-4z"/><path fill="#ffed00" d="M92 76h4v4h-4zM104 80h4v4h-4z"/><path fill="#ffe500" d="M104 76h4v4h-4zM96 80h8v4h-8z"/><path fill="#ffdc00" d="M96 76h8v4h-8z"/></g></g><path d="M111.7,79.6 C111.7,79.9 112.2,80.9 112,81.4 C111.8,81.9 110.7,82.2 110.3,82.7 C109.9,83.2 109.9,83.8 109.6,84.3 C109.3,84.8 108.8,85.2 108.4,85.6 C108,86.1 107.8,86.9 107.2,87.2 C106.6,87.5 105.6,87.3 104.9,87.5 C104.2,87.7 103.7,88.3 103,88.3 C102.3,88.4 101.5,88.1 100.7,88 C100,88 99.4,88 98.7,88.1 C97.9,88.1 97.1,88.4 96.4,88.4 C95.7,88.3 95.1,87.8 94.4,87.5 C93.7,87.3 92.9,87.2 92.3,86.8 C91.8,86.4 91.4,85.8 90.9,85.4 C90.4,84.9 89.8,84.6 89.4,84.1 C89,83.6 88.9,82.9 88.7,82.4 C88.4,81.8 88.1,81.3 87.9,80.8 C87.7,80.3 87.8,79.7 87.8,79.1 C87.7,78.6 87.6,78 87.5,77.5 C87.5,76.9 87.4,76.3 87.5,75.7 C87.5,75.1 87.7,74.6 88,74 C88.2,73.5 88.5,72.9 88.9,72.4 C89.3,71.9 89.9,71.6 90.4,71.1 C90.9,70.7 91.3,70.2 91.9,69.9 C92.5,69.5 93.1,69.2 93.9,69.1 C94.6,69 95.6,69.5 96.3,69.3 C97,69.2 97.5,68.2 98.1,68 C98.8,67.9 99.6,68.4 100.4,68.5 C101.1,68.7 101.8,68.7 102.5,69 C103.2,69.2 103.7,69.7 104.3,70 C104.9,70.3 105.6,70.4 106.2,70.8 C106.8,71.1 107.2,71.5 107.7,71.9 C108.2,72.3 108.5,72.8 109.1,73.2 C109.7,73.6 110.7,73.8 111.1,74.3 C111.5,74.8 111.1,75.6 111.3,76.2 C111.5,76.7 112.3,77.3 112.3,77.8 C112.4,78.4 111.8,79.3 111.7,79.6" fill="none" stroke="#000" stroke-width="0.8"/><use href="#lines"/><path d="M32.2,91.5h1.2v1.2h-1.2zM32.9,90.7h1.7v1.2h-1.7zM25.9,99.8h1.2v1.2h-1.2zM41.3,79h1.2v1.2h-1.2zM36.7,83.3h1.2v1.2h-1.2zM33.4,88.1h1.2v1.2h-1.2zM36.3,87.1h1.2v1.2h-1.2zM33.3,88.2h1.7v1.2h-1.7zM35.5,80.3h1.2v1.2h-1.2zM36.4,84.6h1.7v1.2h-1.7zM32.8,93.3h1.2v1.2h-1.2zM25,101.7h1.7v1.2h-1.7zM36.9,88.2h1.2v1.2h-1.2zM38.7,73h1.7v1.2h-1.7zM42.9,78.8h1.7v1.2h-1.7zM31.2,98.9h1.2v1.2h-1.2zM33.8,94.7h1.7v1.2h-1.7zM38.2,80.8h1.2v1.2h-1.2zM40.9,81.4h1.2v1.2h-1.2zM27.4,104.2h1.2v1.2h-1.2zM27.5,104h1.2v1.2h-1.2zM28.1,99.5h1.7v1.2h-1.7zM41.6,82.8h1.7v1.2h-1.7zM27.2,99.9h1.7v1.2h-1.7zM37.1,82.5h1.2v1.2h-1.2zM37.5,83.2h1.2v1.2h-1.2zM32.2,92.7h1.7v1.2h-1.7zM30.9,92.5h1.7v1.2h-1.7zM35.8,85.6h1.2v1.2h-1.2zM28.2,82.4h1.2v1.2h-1.2zM44.2,76.1h1.2v1.2h-1.2zM31,94.9h1.7v1.2h-1.7zM37.1,85.4h1.7v1.2h-1.7zM20.5,98.6h1.2v1.2h-1.2zM32.6,94.9h1.2v1.2h-1.2zM26.8,95.6h1.7v1.2h-1.7zM27.6,104.8h1.2v1.2h-1.2zM32.7,90.5h1.2v1.2h-1.2zM36.5,87.5h1.2v1.2h-1.2zM28.5,90.6h1.7v1.2h-1.7zM44.4,77.3h1.7v1.2h-1.7zM39.5,79.3h1.2v1.2h-1.2zM33.5,92h1.2v1.2h-1.2zM36.7,82.6h1.2v1.2h-1.2zM38.4,76.4h1.7v1.2h-1.7zM30.5,90.3h1.7v1.2h-1.7zM27.2,96.5h1.7v1.2h-1.7zM39.7,81.4h1.2v1.2h-1.2zM42.8,73.1h1.2v1.2h-1.2zM26.4,97.3h1.7v1.2h-1.7zM28,98.8h1.7v1.2h-1.7zM29.5,98.3h1.2v1.2h-1.2zM37.5,85.4h1.7v1.2h-1.7zM27.8,93.4h1.2v1.2h-1.2zM36.5,77.1h1.2v1.2h-1.2zM27.7,102.2h1.7v1.2h-1.7zM34,87.1h1.2v1.2h-1.2zM27.8,98.4h1.7v1.2h-1.7zM32.8,97.8h1.7v1.2h-1.7zM32.6,95.8h1.2v1.2h-1.2zM45.2,77.4h1.2v1.2h-1.2zM29.8,101.9h1.7v1.2h-1.7zM39.6,78.5h1.7v1.2h-1.7zM34.2,96h1.7v1.2h-1.7zM37.6,81.8h1.7v1.2h-1.7zM27.6,99.4h1.2v1.2h-1.2zM37.2,85.2h1.2v1.2h-1.2zM38.6,85.1h1.2v1.2h-1.2zM39.9,83.2h1.2v1.2h-1.2zM30.3,97.9h1.2v1.2h-1.2zM32.4,97.3h1.7v1.2h-1.7zM26.5,96.7h1.7v1.2h-1.7zM47,80.7h1.7v1.2h-1.7zM30.4,98.7h1.2v1.2h-1.2zM28.3,95.4h1.2v1.2h-1.2zM25,101.8h1.7v1.2h-1.7zM29.8,99.8h1.2v1.2h-1.2zM45.4,81.9h1.7v1.2h-1.7zM38.1,85.6h1.2v1.2h-1.2zM36.8,81.6h1.2v1.2h-1.2zM29.1,103.3h1.7v1.2h-1.7zM40.1,80.5h1.7v1.2h-1.7zM34.4,87.5h1.2v1.2h-1.2zM41.1,81.2h1.2v1.2h-1.2zM37.4,83.1h1.2v1.2h-1.2zM42.6,78.4h1.2v1.2h-1.2zM32.8,92.8h1.7v1.2h-1.7zM35.7,81.3h1.7v1.2h-1.7zM28.6,100.3h1.2v1.2h-1.2zM26.2,101.4h1.7v1.2h-1.7zM32.9,95.3h1.7v1.2h-1.7zM21.7,108.5h1.2v1.2h-1.2zM29,96.1h1.7v1.2h-1.7zM30.6,93.5h1.2v1.2h-1.2zM39.8,81.8h1.2v1.2h-1.2zM41.6,80.6h1.7v1.2h-1.7zM34,90.8h1.7v1.2h-1.7zM44.8,75.5h1.7v1.2h-1.7zM47.9,68.6h1.7v1.2h-1.7zM48.4,70.3h1.2v1.2h-1.2zM56.9,59.3h1.2v1.2h-1.2zM45.9,73.2h1.2v1.2h-1.2zM45.3,68.9h1.7v1.2h-1.7zM53.6,52.4h1.7v1.2h-1.7zM57.3,56.7h1.2v1.2h-1.2zM49.9,62.8h1.2v1.2h-1.2zM49.2,69.2h1.2v1.2h-1.2zM51.2,66.7h1.2v1.2h-1.2zM44,71.5h1.2v1.2h-1.2zM55.3,56.4h1.2v1.2h-1.2zM54.3,57.9h1.7v1.2h-1.7zM49.3,57.3h1.7v1.2h-1.7zM57.3,60.6h1.2v1.2h-1.2zM52.2,57.4h1.2v1.2h-1.2zM41.9,75.3h1.2v1.2h-1.2zM48.3,62.8h1.7v1.2h-1.7zM55.4,54.9h1.2v1.2h-1.2zM43.7,66.4h1.7v1.2h-1.7zM51.3,68.6h1.2v1.2h-1.2zM80.4,56.3h1.7v1.2h-1.7zM93.5,53.1h1.7v1.2h-1.7zM58.3,54.8h1.2v1.2h-1.2zM100.1,48.5h1.7v1.2h-1.7zM67.4,51.7h1.7v1.2h-1.7zM103.4,46.3h1.7v1.2h-1.7zM89.3,52.8h1.2v1.2h-1.2zM79.7,56.4h1.2v1.2h-1.2zM61.8,54h1.7v1.2h-1.7zM62.6,56.6h1.2v1.2h-1.2zM101.8,48.6h1.7v1.2h-1.7zM89,55.5h1.2v1.2h-1.2zM87.9,55.6h1.7v1.2h-1.7zM89,51.5h1.2v1.2h-1.2zM78.4,58.7h1.2v1.2h-1.2zM84.8,56.8h1.2v1.2h-1.2zM89.3,51.7h1.2v1.2h-1.2zM93.7,54h1.7v1.2h-1.7zM58.1,55.1h1.2v1.2h-1.2zM90.9,53.8h1.7v1.2h-1.7zM61,55.8h1.2v1.2h-1.2zM92.3,54.2h1.7v1.2h-1.7zM94.3,52.5h1.7v1.2h-1.7zM75.2,54.3h1.2v1.2h-1.2zM103.4,48.2h1.2v1.2h-1.2zM105.6,43.8h1.2v1.2h-1.2zM80.5,58.2h1.2v1.2h-1.2zM90.8,55.1h1.2v1.2h-1.2zM98.1,49.7h1.7v1.2h-1.7zM73,56.8h1.2v1.2h-1.2zM86.2,52.3h1.2v1.2h-1.2zM95.4,51.3h1.7v1.2h-1.7zM101.1,49.7h1.7v1.2h-1.7zM102.9,46.4h1.2v1.2h-1.2zM63.2,51.4h1.2v1.2h-1.2zM73.8,53.5h1.7v1.2h-1.7zM94.9,53h1.7v1.2h-1.7zM103.4,45.1h1.7v1.2h-1.7zM81,58.4h1.2v1.2h-1.2zM70.7,55.7h1.7v1.2h-1.7zM107.6,41.6h1.2v1.2h-1.2zM117.9,32.2h1.7v1.2h-1.7zM114.7,33.3h1.7v1.2h-1.7zM112.9,38.8h1.7v1.2h-1.7zM132.9,25.8h1.2v1.2h-1.2zM128.9,26.1h1.7v1.2h-1.7zM127.3,27.9h1.7v1.2h-1.7zM110.8,39.2h1.2v1.2h-1.2zM109.2,43.7h1.7v1.2h-1.7zM130.5,22.9h1.7v1.2h-1.7zM110.6,41.8h1.2v1.2h-1.2zM26.5,109.1h1.2v1.2h-1.2zM27.5,101h1.2v1.2h-1.2zM23.1,109.1h1.2v1.2h-1.2z" fill="#00ffff"/><g fill="none" stroke="#000" stroke-width="0.75"><circle cx="64.9" cy="28.4" r="4.5"/><circle cx="62.1" cy="35.6" r="3"/><circle cx="59.6" cy="51" r="3"/><circle cx="56.9" cy="58.9" r="4.5"/><circle cx="54" cy="67.5" r="4.5"/><circle cx="51.4" cy="76.2" r="4.5"/><circle cx="48.3" cy="84.7" r="4.5"/><circle cx="45.8" cy="93.6" r="4.5"/><circle cx="78" cy="31.2" r="3"/><circle cx="75.2" cy="39" r="3"/><circle cx="73.3" cy="54.7" r="3.2"/><circle cx="70.6" cy="62.7" r="3.2"/><circle cx="67.8" cy="71.4" r="3.2"/><circle cx="64.9" cy="79.8" r="3.2"/><circle cx="61.7" cy="88.4" r="3.2"/><circle cx="59.2" cy="97" r="5"/><circle cx="91" cy="33.8" r="3"/><circle cx="87.7" cy="42.9" r="3"/><circle cx="86.9" cy="58.2" r="3.2"/><circle cx="84" cy="67.3" r="3.2"/><circle cx="81.7" cy="76.5" r="3"/><circle cx="78.7" cy="84.8" r="3.2"/><circle cx="75.3" cy="93" r="3.2"/><circle cx="72.6" cy="101.6" r="5"/><circle cx="105.2" cy="37.5" r="3"/><circle cx="102.5" cy="47.8" r="3"/><circle cx="100.7" cy="62.5" r="3"/><circle cx="97.8" cy="73.5" r="3"/><circle cx="96.8" cy="83.8" r="3"/><circle cx="93.3" cy="91.1" r="3"/><circle cx="89.9" cy="97.8" r="3"/><circle cx="86.7" cy="105.9" r="5"/><circle cx="120.1" cy="42.2" r="3"/><circle cx="116.2" cy="52.1" r="3"/><circle cx="114.7" cy="67" r="3"/><circle cx="112.1" cy="77.9" r="3"/><circle cx="111.1" cy="87.4" r="3"/><circle cx="106.4" cy="95" r="3"/><circle cx="104" cy="101.6" r="3"/><circle cx="100" cy="109.7" r="5"/><circle cx="133.2" cy="46.8" r="3"/><circle cx="130" cy="55.8" r="3"/><circle cx="128.4" cy="72.9" r="3"/><circle cx="125.5" cy="81.6" r="3"/><circle cx="123.2" cy="89.8" r="3"/><circle cx="119.6" cy="98.2" r="3"/><circle cx="117" cy="106.2" r="4.3"/><circle cx="113.1" cy="114.2" r="5"/><circle cx="145.8" cy="50.9" r="3"/><circle cx="143.9" cy="59.5" r="3"/><circle cx="142.3" cy="77.4" r="3"/><circle cx="139.1" cy="85.4" r="3"/><circle cx="136.3" cy="93.7" r="3"/><circle cx="133.3" cy="102.3" r="3.2"/><circle cx="130" cy="110.7" r="4.3"/><circle cx="127.3" cy="118.7" r="5"/><circle cx="157.2" cy="60.3" r="3"/><circle cx="155" cy="68.5" r="3"/><circle cx="153.2" cy="82.7" r="3"/><circle cx="150.3" cy="90.8" r="3.9"/><circle cx="147.9" cy="98.9" r="3.9"/><circle cx="145.3" cy="107.1" r="3.9"/><circle cx="143.1" cy="114.5" r="3.9"/><circle cx="141" cy="122.5" r="5"/></g><path d="M64.4,27.9h1v1h-1zM61.8,39.2L62.1,35.6M62.1,35.6L63.4,38.8L60.2,38.5zM59,48L59.6,51M59.6,51L57.5,48.6L60.6,48zM56.4,58.4h1v1h-1zM53.5,67h1v1h-1zM50.9,75.7h1v1h-1zM47.8,84.2h1v1h-1zM45.3,93.1h1v1h-1zM77.8,34.6L78,31.2M78,31.2L79.4,34.2L76.2,34zM75.1,43.3L75.2,39M75.2,39L76.7,42.4L73.5,42.3zM72.4,52.1L73.3,54.7M73.3,54.7L70.9,52.8L74,51.8zM70.1,62.2h1v1h-1zM67.3,70.9h1v1h-1zM64.4,79.3h1v1h-1zM61.2,87.9h1v1h-1zM58.7,96.5h1v1h-1zM90.9,38.3L91,33.8M91,33.8L92.5,37.2L89.3,37.1zM88.2,47.1L87.7,42.9M87.7,42.9L89.7,46L86.5,46.4zM85.6,55.9L86.9,58.2M86.9,58.2L84.3,56.9L87,55.2zM82.9,64.7L84,67.3M84,67.3L81.5,65.5L84.4,64.3zM80.2,73.5L81.7,76.5M81.7,76.5L79,74.6L81.8,73.2zM77.5,82.3L78.7,84.8M78.7,84.8L76.2,83.2L79.1,81.8zM74.8,92.5h1v1h-1zM72.1,101.1h1v1h-1zM104.5,42.3L105.2,37.5M105.2,37.5L106.3,41L103.1,40.6zM101.9,51.1L102.5,47.8M102.5,47.8L103.5,50.9L100.4,50.4zM99.2,59.9L100.7,62.5M100.7,62.5L98,60.9L100.7,59.4zM96.6,68.7L97.8,73.5M97.8,73.5L95.4,70.7L98.5,69.9zM93.9,77.5L96.8,83.8M96.8,83.8L94,81.5L96.9,80.1zM91.3,86.3L93.3,91.1M93.3,91.1L90.6,88.7L93.5,87.5zM88.6,95.1L89.9,97.8M89.9,97.8L87.3,96L90.2,94.7zM86.2,105.4h1v1h-1zM118.9,46.3L120.1,42.2M120.1,42.2L120.7,45.8L117.6,44.9zM116.1,55.1L116.2,52.1M116.2,52.1L117.7,54.8L114.6,54.8zM113.4,63.9L114.7,67M114.7,67L112.1,65L115,63.7zM110.6,72.7L112.1,77.9M112.1,77.9L109.7,75.2L112.8,74.3zM107.9,81.6L111.1,87.4M111.1,87.4L108.1,85.3L110.9,83.8zM105.1,90.4L106.4,95M106.4,95L104,92.2L107.1,91.3zM102.4,99.2L104,101.6M104,101.6L101.2,100.3L103.8,98.5zM99.5,109.2h1v1h-1zM132.4,51.6L133.2,46.8M133.2,46.8L134.2,50.3L131.1,49.8zM129.6,60.3L130,55.8M130,55.8L131.3,59.2L128.1,59zM126.9,69L128.4,72.9M128.4,72.9L125.7,70.4L128.7,69.3zM124.1,77.7L125.5,81.6M125.5,81.6L122.9,79L125.9,77.9zM121.4,86.4L123.2,89.8M123.2,89.8L120.3,87.7L123.1,86.2zM118.6,95.1L119.6,98.2M119.6,98.2L117.2,96L120.3,95zM115.9,103.8L117,106.2M117,106.2L114.5,104.7L117.4,103.2zM112.6,113.7h1v1h-1zM145.9,55.8L145.8,50.9M145.8,50.9L147.5,54.2L144.3,54.2zM143.2,64.6L143.9,59.5M143.9,59.5L145,63L141.9,62.6zM140.5,73.3L142.3,77.4M142.3,77.4L139.5,75.1L142.4,73.8zM137.8,82.1L139.1,85.4M139.1,85.4L136.5,83.2L139.4,82zM135,90.8L136.3,93.7M136.3,93.7L133.7,91.8L136.6,90.5zM132.3,99.6L133.3,102.3M133.3,102.3L130.9,100.3L133.9,99.3zM129.6,108.3L130,110.7M130,110.7L128,108.7L131.2,108.1zM126.8,118.2h1v1h-1zM157.1,63.4L157.2,60.3M157.2,60.3L158.7,63.1L155.5,63zM154.7,71.7L155,68.5M155,68.5L156.3,71.5L153.1,71.1zM152.2,79.9L153.2,82.7M153.2,82.7L150.8,80.7L153.8,79.6zM149.8,88.2L150.3,90.8M150.3,90.8L148.2,88.7L151.4,88zM147.3,96.5L147.9,98.9M147.9,98.9L145.8,96.9L148.9,96.2zM144.9,104.7L145.3,107.1M145.3,107.1L143.3,105.1L146.5,104.5zM142.6,114h1v1h-1zM140.5,122h1v1h-1z" fill="#000" stroke="#000" stroke-width="0.95"/><polygon points="58.9,23.4 147,51.3 155,54.6 160.5,58.3 165.1,63.6 145.6,127.2 38.4,95.2" fill="none" stroke="#222" stroke-width="0.7"/><use href="#trench"/></g><rect x="26.6" y="18.4" width="155.2" height="118.3" fill="none" stroke="#000" stroke-width="1.2"/><path d="M26.6,60.5h-5M26.6,129.8h-5" stroke="#000" stroke-width="0.8"/><text x="29.3" y="31.8" font-size="16.6">(e)</text><text x="49.3" y="132.6" font-size="9.8">2014.0-2014.5</text></g>
<g transform="translate(159,126.8)"><g clip-path="url(#cf)"><rect x="26.6" y="18.4" width="155.2" height="118.3" fill="#fff"/><polygon points="58.9,23.4 147,51.3 155,54.6 160.5,58.3 165.1,63.6 145.6,127.2 38.4,95.2" fill="#b9b9b9"/><g clip-path="url(#ci5)"><g filter="url(#bl)"><path fill="#ffffad" d="M80 60h32v4h-32zM68 64h48v4h-48zM68 68h48v4h-48zM76 72h36v4h-36z"/><path fill="#ffffa3" d="M76 56h36v4h-36zM52 60h28v4h-28zM112 60h8v4h-8zM44 64h24v4h-24zM116 64h8v4h-8zM44 68h24v4h-24zM116 68h8v4h-8zM48 72h28v4h-28zM112 72h12v4h-12zM60 76h60v4h-60z"/><path fill="#ffff99" d="M48 56h28v4h-28zM112 56h12v4h-12zM48 60h4v4h-4zM120 60h4v4h-4zM124 68h4v4h-4zM44 72h4v4h-4zM124 72h4v4h-4zM44 76h16v4h-16zM120 76h8v4h-8zM44 80h80v4h-80zM44 84h52v4h-52zM132 112h8v4h-8z"/><path fill="#ffff8e" d="M48 52h72v4h-72zM164 56h4v4h-4zM124 60h4v4h-4zM164 60h4v4h-4zM124 64h4v4h-4zM164 64h4v4h-4zM164 68h4v4h-4zM164 72h4v4h-4zM160 76h4v4h-4zM124 80h8v4h-8zM160 80h4v4h-4zM96 84h36v4h-36zM156 84h8v4h-8zM44 88h24v4h-24zM156 88h4v4h-4zM140 108h8v4h-8zM120 112h12v4h-12z"/><path fill="#ffff84" d="M48 48h12v4h-12zM120 52h4v4h-4zM124 56h4v4h-4zM128 68h4v4h-4zM160 68h4v4h-4zM128 72h4v4h-4zM160 72h4v4h-4zM128 76h4v4h-4zM132 80h4v4h-4zM156 80h4v4h-4zM132 84h4v4h-4zM152 84h4v4h-4zM68 88h24v4h-24zM152 88h4v4h-4zM48 92h12v4h-12zM156 92h4v4h-4zM120 108h20v4h-20z"/><path fill="#ffff7a" d="M60 28h12v4h-12zM60 48h12v4h-12zM124 52h4v4h-4zM160 52h4v4h-4zM160 56h4v4h-4zM128 60h4v4h-4zM160 60h4v4h-4zM128 64h4v4h-4zM160 64h4v4h-4zM132 76h4v4h-4zM156 76h4v4h-4zM136 80h4v4h-4zM152 80h4v4h-4zM136 84h16v4h-16zM92 88h60v4h-60zM60 92h8v4h-8zM148 92h8v4h-8zM152 100h4v4h-4zM144 104h8v4h-8zM88 108h32v4h-32z"/><path fill="#ffff70" d="M72 28h20v4h-20zM52 44h4v4h-4zM72 48h56v4h-56zM128 52h4v4h-4zM128 56h4v4h-4zM156 68h4v4h-4zM132 72h4v4h-4zM156 72h4v4h-4zM152 76h4v4h-4zM140 80h12v4h-12zM68 92h8v4h-8zM140 92h8v4h-8zM56 96h8v4h-8zM148 96h8v4h-8zM148 100h4v4h-4zM136 104h8v4h-8z"/><path fill="#ffff66" d="M56 32h4v4h-4zM56 44h4v4h-4zM128 48h4v4h-4zM156 52h4v4h-4zM156 56h4v4h-4zM156 60h4v4h-4zM156 64h4v4h-4zM132 68h4v4h-4zM136 76h4v4h-4zM76 92h8v4h-8zM128 92h12v4h-12zM64 96h4v4h-4zM144 96h4v4h-4zM64 100h4v4h-4zM144 100h4v4h-4zM76 104h8v4h-8zM128 104h8v4h-8z"/><path fill="#ffff5b" d="M60 32h8v4h-8zM52 36h4v4h-4zM52 40h4v4h-4zM60 44h8v4h-8zM132 56h4v4h-4zM132 60h4v4h-4zM132 64h4v4h-4zM136 72h4v4h-4zM152 72h4v4h-4zM140 76h12v4h-12zM84 92h12v4h-12zM116 92h12v4h-12zM68 96h4v4h-4zM140 96h4v4h-4zM68 100h4v4h-4zM136 100h8v4h-8zM84 104h12v4h-12zM116 104h12v4h-12z"/><path fill="#ffff51" d="M68 32h8v4h-8zM56 36h4v4h-4zM56 40h4v4h-4zM68 44h8v4h-8zM112 44h20v4h-20zM132 48h4v4h-4zM152 48h4v4h-4zM132 52h4v4h-4zM152 52h4v4h-4zM152 68h4v4h-4zM148 72h4v4h-4zM96 92h20v4h-20zM72 96h8v4h-8zM132 96h8v4h-8zM72 100h8v4h-8zM132 100h4v4h-4zM96 104h20v4h-20z"/><path fill="#ffff47" d="M76 32h12v4h-12zM100 32h8v4h-8zM60 36h4v4h-4zM60 40h4v4h-4zM76 44h12v4h-12zM100 44h12v4h-12zM132 44h4v4h-4zM152 56h4v4h-4zM152 60h4v4h-4zM152 64h4v4h-4zM136 68h4v4h-4zM140 72h8v4h-8zM80 96h4v4h-4zM128 96h4v4h-4zM80 100h4v4h-4zM128 100h4v4h-4z"/><path fill="#ffff3d" d="M88 32h12v4h-12zM64 36h8v4h-8zM120 36h4v4h-4zM64 40h8v4h-8zM120 40h16v4h-16zM88 44h12v4h-12zM136 44h4v4h-4zM136 48h4v4h-4zM148 48h4v4h-4zM136 52h4v4h-4zM136 56h4v4h-4zM136 60h4v4h-4zM136 64h4v4h-4zM148 68h4v4h-4zM84 96h4v4h-4zM120 96h8v4h-8zM84 100h4v4h-4zM120 100h8v4h-8z"/><path fill="#ffff32" d="M72 36h4v4h-4zM112 36h8v4h-8zM72 40h4v4h-4zM112 40h8v4h-8zM140 44h4v4h-4zM140 48h8v4h-8zM148 52h4v4h-4zM148 64h4v4h-4zM140 68h8v4h-8zM88 96h12v4h-12zM112 96h8v4h-8zM88 100h12v4h-12zM112 100h8v4h-8z"/><path fill="#ffff28" d="M76 36h8v4h-8zM104 36h8v4h-8zM76 40h8v4h-8zM104 40h8v4h-8zM140 52h8v4h-8zM140 56h4v4h-4zM148 56h4v4h-4zM148 60h4v4h-4zM140 64h8v4h-8zM100 96h12v4h-12zM100 100h12v4h-12z"/><path fill="#ffff1e" d="M84 36h20v4h-20zM84 40h20v4h-20zM144 56h4v4h-4zM140 60h8v4h-8z"/></g></g><use href="#lines"/><path d="M37.5,92.5h1.7v1.2h-1.7zM39.3,81.3h1.7v1.2h-1.7zM29.5,92.7h1.2v1.2h-1.2zM30.7,85.5h1.7v1.2h-1.7zM33.3,87.8h1.2v1.2h-1.2zM23.7,98.7h1.2v1.2h-1.2zM28.2,94.9h1.7v1.2h-1.7zM26.5,96.1h1.7v1.2h-1.7zM30,96.5h1.2v1.2h-1.2zM23.5,96.6h1.7v1.2h-1.7zM40.5,76.3h1.2v1.2h-1.2zM34.6,92h1.2v1.2h-1.2zM30.1,97.1h1.2v1.2h-1.2zM25.5,99.7h1.2v1.2h-1.2zM35.4,86.8h1.2v1.2h-1.2zM41.2,84.7h1.2v1.2h-1.2zM36.6,85h1.2v1.2h-1.2zM38.2,81h1.7v1.2h-1.7zM30.3,94.7h1.2v1.2h-1.2zM36.9,86h1.2v1.2h-1.2zM26.4,97.9h1.2v1.2h-1.2zM33.1,88.3h1.2v1.2h-1.2zM36.6,92.6h1.7v1.2h-1.7zM27.1,96.7h1.2v1.2h-1.2zM32.7,89.3h1.2v1.2h-1.2zM32.4,90.9h1.2v1.2h-1.2zM34.4,94.7h1.2v1.2h-1.2zM33.9,90h1.2v1.2h-1.2zM33.2,82.8h1.2v1.2h-1.2zM41.2,77h1.7v1.2h-1.7zM38.1,86.7h1.7v1.2h-1.7zM36.5,81.5h1.2v1.2h-1.2zM37.6,88.3h1.2v1.2h-1.2zM29.6,89.2h1.2v1.2h-1.2zM36.1,93.6h1.7v1.2h-1.7zM37.6,83h1.2v1.2h-1.2zM29.7,92.9h1.2v1.2h-1.2zM36.3,81.6h1.2v1.2h-1.2zM42.7,73.9h1.2v1.2h-1.2zM37.8,91.2h1.7v1.2h-1.7zM34.8,89h1.2v1.2h-1.2zM38,84.8h1.7v1.2h-1.7zM39.7,80.3h1.2v1.2h-1.2zM42.2,82.3h1.2v1.2h-1.2zM38.7,82.6h1.2v1.2h-1.2zM24.1,103.4h1.2v1.2h-1.2zM23.6,98.2h1.7v1.2h-1.7zM32.3,95.8h1.7v1.2h-1.7zM34.5,91.7h1.2v1.2h-1.2zM26.9,97.6h1.7v1.2h-1.7zM31.5,89h1.7v1.2h-1.7zM40.3,83.9h1.2v1.2h-1.2zM40.4,80.7h1.2v1.2h-1.2zM29.5,91.8h1.2v1.2h-1.2zM40.6,82.9h1.2v1.2h-1.2zM28.3,103.6h1.7v1.2h-1.7zM34.9,89.2h1.2v1.2h-1.2zM29.6,92h1.7v1.2h-1.7zM25,97h1.2v1.2h-1.2zM26.1,99.1h1.2v1.2h-1.2zM44.4,79.9h1.2v1.2h-1.2zM35.3,89.7h1.7v1.2h-1.7zM26.2,101.6h1.2v1.2h-1.2zM33,86.1h1.7v1.2h-1.7zM38.6,85.9h1.7v1.2h-1.7zM33.7,89.5h1.7v1.2h-1.7zM47.7,70.9h1.7v1.2h-1.7zM54.1,62.4h1.2v1.2h-1.2zM49.9,63.4h1.2v1.2h-1.2zM54.5,60.2h1.7v1.2h-1.7zM60.7,55.7h1.2v1.2h-1.2zM41.2,74.9h1.2v1.2h-1.2zM45.5,72.5h1.2v1.2h-1.2zM45.8,73.6h1.7v1.2h-1.7zM53.9,55.5h1.7v1.2h-1.7zM48.6,60.1h1.7v1.2h-1.7zM54.6,58.9h1.2v1.2h-1.2zM57.9,56.5h1.7v1.2h-1.7zM57.3,54.1h1.2v1.2h-1.2zM46.9,66.3h1.7v1.2h-1.7zM50,71.2h1.7v1.2h-1.7zM54.4,55.9h1.7v1.2h-1.7zM47,62.1h1.7v1.2h-1.7zM49.4,62.7h1.2v1.2h-1.2zM46,63.1h1.2v1.2h-1.2zM50,62.4h1.2v1.2h-1.2zM45.2,69h1.7v1.2h-1.7zM99.1,51.3h1.2v1.2h-1.2zM93,56.3h1.7v1.2h-1.7zM92.8,54.9h1.2v1.2h-1.2zM97.5,55.2h1.2v1.2h-1.2zM60.1,56.7h1.2v1.2h-1.2zM90.9,56.6h1.7v1.2h-1.7zM85.7,58.4h1.7v1.2h-1.7zM88.7,55.1h1.7v1.2h-1.7zM72.8,58.4h1.7v1.2h-1.7zM65.4,51.6h1.7v1.2h-1.7zM84.5,56.8h1.2v1.2h-1.2zM105.5,47h1.7v1.2h-1.7zM80.6,57.5h1.2v1.2h-1.2zM59.2,53.7h1.7v1.2h-1.7zM72.2,56.4h1.7v1.2h-1.7zM91.3,49.6h1.2v1.2h-1.2zM104.4,46.5h1.2v1.2h-1.2zM103.8,46.7h1.2v1.2h-1.2zM105.2,45.3h1.2v1.2h-1.2zM97.2,54.7h1.2v1.2h-1.2zM101.9,48.5h1.2v1.2h-1.2zM102,47h1.7v1.2h-1.7zM106.6,48.3h1.7v1.2h-1.7zM70.2,52.5h1.2v1.2h-1.2zM67.4,52.8h1.7v1.2h-1.7zM79.1,57.4h1.7v1.2h-1.7zM78.1,55.1h1.2v1.2h-1.2zM79,54.7h1.7v1.2h-1.7zM85.6,58.3h1.2v1.2h-1.2zM97.3,48.2h1.2v1.2h-1.2zM100.3,46.5h1.7v1.2h-1.7zM97.3,49.1h1.2v1.2h-1.2zM97.9,49h1.2v1.2h-1.2zM63.8,56.7h1.2v1.2h-1.2zM105.7,49.3h1.2v1.2h-1.2zM70.5,55.8h1.2v1.2h-1.2zM91.4,54.4h1.7v1.2h-1.7zM94.1,49.9h1.2v1.2h-1.2zM94.6,50.4h1.7v1.2h-1.7zM88.9,51.4h1.2v1.2h-1.2zM102.1,46.9h1.2v1.2h-1.2zM86.8,56.7h1.7v1.2h-1.7zM97,47.7h1.2v1.2h-1.2zM102.2,49.3h1.2v1.2h-1.2zM89.3,49.9h1.7v1.2h-1.7zM110.4,43.2h1.2v1.2h-1.2zM130.7,26.2h1.2v1.2h-1.2zM128.4,26.5h1.7v1.2h-1.7zM109.8,37.1h1.2v1.2h-1.2zM123,29.5h1.2v1.2h-1.2zM129,22.2h1.2v1.2h-1.2zM113.7,38.2h1.2v1.2h-1.2zM124.9,21.6h1.7v1.2h-1.7zM117.1,39h1.2v1.2h-1.2zM119.4,33.9h1.7v1.2h-1.7zM116.4,37.7h1.7v1.2h-1.7zM123.8,32.3h1.2v1.2h-1.2zM110.2,39.2h1.7v1.2h-1.7zM111.2,42.3h1.7v1.2h-1.7zM122.6,31.7h1.2v1.2h-1.2zM123.1,31.9h1.2v1.2h-1.2zM129.8,20.4h1.7v1.2h-1.7zM28.2,103.4h1.2v1.2h-1.2zM27.5,107.6h1.2v1.2h-1.2zM25.7,108h1.2v1.2h-1.2z" fill="#00ffff"/><g fill="none" stroke="#000" stroke-width="0.75"><circle cx="64.9" cy="27.6" r="4.5"/><circle cx="61.7" cy="34.5" r="3"/><circle cx="59" cy="44.4" r="3"/><circle cx="56.2" cy="59.5" r="4.5"/><circle cx="53.4" cy="68.1" r="4.5"/><circle cx="50.8" cy="77.1" r="4.5"/><circle cx="48.2" cy="85.5" r="4.5"/><circle cx="45.6" cy="94.5" r="4.5"/><circle cx="77.9" cy="29.9" r="3"/><circle cx="74.7" cy="38.3" r="3"/><circle cx="72.3" cy="49" r="3"/><circle cx="69.5" cy="63.2" r="3.2"/><circle cx="66.7" cy="71.8" r="3.2"/><circle cx="64.1" cy="80.8" r="3.2"/><circle cx="61.6" cy="89.8" r="3.2"/><circle cx="58.2" cy="98.5" r="5"/><circle cx="90.9" cy="32.6" r="3"/><circle cx="88.5" cy="42.6" r="3"/><circle cx="86" cy="53.3" r="3.2"/><circle cx="82.8" cy="66.8" r="3.2"/><circle cx="80.2" cy="75.7" r="3.2"/><circle cx="77.5" cy="84.8" r="3.2"/><circle cx="75.5" cy="94.3" r="3"/><circle cx="71.9" cy="104.2" r="3"/><circle cx="105.6" cy="36.9" r="3"/><circle cx="102.5" cy="47.7" r="3"/><circle cx="99.7" cy="57.7" r="3.2"/><circle cx="96.9" cy="70.6" r="3.2"/><circle cx="93.5" cy="79.7" r="3.2"/><circle cx="90.7" cy="89" r="3.2"/><circle cx="88.5" cy="99.5" r="3"/><circle cx="85" cy="108.4" r="3"/><circle cx="119.3" cy="42" r="3"/><circle cx="115.9" cy="52.4" r="3.2"/><circle cx="113.5" cy="61.8" r="3.2"/><circle cx="111.1" cy="74.8" r="3.2"/><circle cx="107.8" cy="84" r="3.2"/><circle cx="105.4" cy="93.8" r="3"/><circle cx="101.5" cy="104.6" r="3"/><circle cx="99.7" cy="111" r="5"/><circle cx="132.4" cy="47.5" r="3"/><circle cx="130" cy="56.9" r="3"/><circle cx="127.5" cy="66.3" r="3.2"/><circle cx="124.9" cy="80.2" r="3.2"/><circle cx="121" cy="89.2" r="3.2"/><circle cx="119.2" cy="99.6" r="3"/><circle cx="115.9" cy="108.7" r="3"/><circle cx="113.4" cy="114.8" r="5"/><circle cx="147.1" cy="50.3" r="3"/><circle cx="144.7" cy="59.2" r="3"/><circle cx="140.8" cy="68.7" r="3"/><circle cx="138.3" cy="85.5" r="3"/><circle cx="134.9" cy="94.2" r="3"/><circle cx="132.6" cy="104.2" r="3"/><circle cx="129.3" cy="111.8" r="3"/><circle cx="126.8" cy="119.2" r="5"/><circle cx="157.7" cy="59.3" r="3"/><circle cx="154.6" cy="67.5" r="3"/><circle cx="152.6" cy="76.3" r="3"/><circle cx="149.6" cy="91.4" r="3"/><circle cx="146.6" cy="100.2" r="3"/><circle cx="144.3" cy="108.3" r="3"/><circle cx="142.4" cy="115.2" r="3.9"/><circle cx="140" cy="123.3" r="5"/></g><path d="M64.5,30.3L64.9,27.6M64.9,27.6L66.1,30.3L62.9,29.9zM61.8,39.2L61.7,34.5M61.7,34.5L63.4,37.8L60.2,37.8zM59,48L59,44.4M59,44.4L60.6,47.5L57.4,47.5zM56.3,56.9L56.2,59.5M56.2,59.5L54.7,57L57.9,57zM53.5,65.7L53.4,68.1M53.4,68.1L51.9,65.7L55.1,65.9zM50.8,74.6L50.8,77.1M50.8,77.1L49.2,74.7L52.4,74.7zM47.7,85h1v1h-1zM45.3,92.3L45.6,94.5M45.6,94.5L43.7,92.5L46.9,92.1zM77.8,34.6L77.9,29.9M77.9,29.9L79.4,33.2L76.2,33.1zM75.1,43.3L74.7,38.3M74.7,38.3L76.6,41.5L73.4,41.7zM72.4,52.1L72.3,49M72.3,49L74,51.7L70.8,51.8zM69.7,60.8L69.5,63.2M69.5,63.2L68.1,60.7L71.2,61zM66.9,69.6L66.7,71.8M66.7,71.8L65.4,69.4L68.5,69.7zM64.2,78.3L64.1,80.8M64.1,80.8L62.6,78.3L65.8,78.5zM61.5,87.1L61.6,89.8M61.6,89.8L59.9,87.3L63.1,87.2zM58.8,95.8L58.2,98.5M58.2,98.5L57.2,95.7L60.3,96.3zM90.9,38.3L90.9,32.6M90.9,32.6L92.5,35.9L89.3,35.9zM88.2,47.1L88.5,42.6M88.5,42.6L89.9,46L86.7,45.8zM85.6,55.9L86,53.3M86,53.3L87.2,56L84,55.5zM82.3,66.3h1v1h-1zM79.7,75.2h1v1h-1zM77.5,82.3L77.5,84.8M77.5,84.8L75.9,82.4L79.1,82.4zM74.9,91.1L75.5,94.3M75.5,94.3L73.4,91.8L76.5,91.2zM72.2,99.9L71.9,104.2M71.9,104.2L70.5,100.8L73.7,101zM104.5,42.3L105.6,36.9M105.6,36.9L106.5,40.4L103.4,39.8zM101.9,51.1L102.5,47.7M102.5,47.7L103.5,51L100.4,50.3zM99.2,59.9L99.7,57.7M99.7,57.7L100.8,60.2L97.7,59.5zM96.4,70.1h1v1h-1zM93.9,77.5L93.5,79.7M93.5,79.7L92.4,77.2L95.5,77.8zM91.3,86.3L90.7,89M90.7,89L89.7,86.2L92.8,86.8zM88.6,95.1L88.5,99.5M88.5,99.5L87,96.2L90.2,96.3zM86,103.9L85,108.4M85,108.4L84.2,104.8L87.3,105.5zM118.9,46.3L119.3,42M119.3,42L120.6,45.4L117.4,45.1zM116.1,55.1L115.9,52.4M115.9,52.4L117.7,54.8L114.5,55zM113,61.3h1v1h-1zM110.6,74.3h1v1h-1zM107.9,81.6L107.8,84M107.8,84L106.3,81.6L109.5,81.7zM105.1,90.4L105.4,93.8M105.4,93.8L103.6,91L106.8,90.7zM102.4,99.2L101.5,104.6M101.5,104.6L100.4,101.1L103.6,101.6zM99.6,108L99.7,111M99.7,111L98,108.4L101.2,108.2zM132.4,51.6L132.4,47.5M132.4,47.5L134,50.8L130.8,50.7zM129.6,60.3L130,56.9M130,56.9L131.3,60L128.1,59.7zM126.9,69L127.5,66.3M127.5,66.3L128.5,69.2L125.4,68.4zM124.1,77.7L124.9,80.2M124.9,80.2L122.6,78.3L125.7,77.4zM121.4,86.4L121,89.2M121,89.2L119.8,86.4L122.9,86.8zM118.6,95.1L119.2,99.6M119.2,99.6L117.2,96.5L120.4,96.1zM115.9,103.8L115.9,108.7M115.9,108.7L114.3,105.4L117.5,105.3zM113.1,112.5L113.4,114.8M113.4,114.8L111.5,112.7L114.7,112.3zM145.9,55.8L147.1,50.3M147.1,50.3L147.9,53.9L144.8,53.2zM143.2,64.6L144.7,59.2M144.7,59.2L145.3,62.8L142.3,61.9zM140.5,73.3L140.8,68.7M140.8,68.7L142.2,72.2L139,71.9zM137.8,82.1L138.3,85.5M138.3,85.5L136.2,82.8L139.4,82.3zM135,90.8L134.9,94.2M134.9,94.2L133.4,91.2L136.6,91.4zM132.3,99.6L132.6,104.2M132.6,104.2L130.8,101L134,100.9zM129.6,108.3L129.3,111.8M129.3,111.8L128,108.7L131.2,108.9zM126.3,118.7h1v1h-1zM157.1,63.4L157.7,59.3M157.7,59.3L158.8,62.8L155.6,62.4zM154.7,71.7L154.6,67.5M154.6,67.5L156.2,70.8L153,70.8zM152.2,79.9L152.6,76.3M152.6,76.3L153.9,79.5L150.7,79.2zM149.8,88.2L149.6,91.4M149.6,91.4L148.2,88.5L151.4,88.7zM147.3,96.5L146.6,100.2M146.6,100.2L145.6,96.8L148.8,97.4zM144.9,104.7L144.3,108.3M144.3,108.3L143.2,105L146.4,105.5zM141.9,114.7h1v1h-1zM139.5,122.8h1v1h-1z" fill="#000" stroke="#000" stroke-width="0.95"/><polygon points="58.9,23.4 147,51.3 155,54.6 160.5,58.3 165.1,63.6 145.6,127.2 38.4,95.2" fill="none" stroke="#222" stroke-width="0.7"/><use href="#trench"/></g><rect x="26.6" y="18.4" width="155.2" height="118.3" fill="none" stroke="#000" stroke-width="1.2"/><text x="29.3" y="31.8" font-size="16.6">(f)</text><text x="49.3" y="132.6" font-size="9.8">2014.5-2015.0</text></g>
<g transform="translate(318,126.8)"><g clip-path="url(#cf)"><rect x="26.6" y="18.4" width="155.2" height="118.3" fill="#fff"/><polygon points="58.9,23.4 147,51.3 155,54.6 160.5,58.3 165.1,63.6 145.6,127.2 38.4,95.2" fill="#b9b9b9"/><g clip-path="url(#ci6)"><g filter="url(#bl)"><path fill="#ffffd6" d="M148 48h8v4h-8zM152 52h12v4h-12zM152 56h16v4h-16zM156 60h12v4h-12zM156 64h12v4h-12zM160 68h8v4h-8zM160 72h8v4h-8zM160 76h4v4h-4zM160 80h4v4h-4zM160 84h4v4h-4z"/><path fill="#ffffcc" d="M64 32h24v4h-24zM56 36h4v4h-4zM96 36h8v4h-8zM116 40h4v4h-4zM124 44h16v4h-16zM132 48h16v4h-16zM136 52h16v4h-16zM140 56h12v4h-12zM144 60h12v4h-12zM144 64h12v4h-12zM148 68h12v4h-12zM148 72h12v4h-12zM148 76h12v4h-12zM148 80h12v4h-12zM148 84h12v4h-12zM148 88h12v4h-12zM144 92h16v4h-16zM144 96h12v4h-12zM140 100h16v4h-16zM136 104h16v4h-16zM132 108h16v4h-16zM128 112h12v4h-12z"/><path fill="#ffffc1" d="M60 36h36v4h-36zM56 40h4v4h-4zM96 40h20v4h-20zM52 44h4v4h-4zM112 44h12v4h-12zM48 48h4v4h-4zM120 48h12v4h-12zM128 52h8v4h-8zM132 56h8v4h-8zM136 60h8v4h-8zM136 64h8v4h-8zM140 68h8v4h-8zM140 72h8v4h-8zM140 76h8v4h-8zM140 80h8v4h-8zM140 84h8v4h-8zM140 88h8v4h-8zM140 92h4v4h-4zM136 96h8v4h-8zM132 100h8v4h-8zM128 104h8v4h-8zM124 108h8v4h-8zM120 112h8v4h-8z"/><path fill="#ffffb7" d="M60 40h36v4h-36zM56 44h4v4h-4zM96 44h16v4h-16zM52 48h4v4h-4zM112 48h8v4h-8zM48 52h4v4h-4zM120 52h8v4h-8zM48 56h4v4h-4zM124 56h8v4h-8zM128 60h8v4h-8zM44 64h4v4h-4zM132 64h4v4h-4zM132 68h8v4h-8zM136 72h4v4h-4zM136 76h4v4h-4zM136 80h4v4h-4zM136 84h4v4h-4zM136 88h4v4h-4zM132 92h8v4h-8zM128 96h8v4h-8zM128 100h4v4h-4zM120 104h8v4h-8zM112 108h12v4h-12z"/><path fill="#ffffad" d="M60 44h8v4h-8zM84 44h12v4h-12zM56 48h4v4h-4zM104 48h8v4h-8zM52 52h4v4h-4zM112 52h8v4h-8zM52 56h4v4h-4zM120 56h4v4h-4zM48 60h4v4h-4zM124 60h4v4h-4zM48 64h4v4h-4zM128 64h4v4h-4zM44 68h4v4h-4zM128 68h4v4h-4zM44 72h4v4h-4zM132 72h4v4h-4zM44 76h4v4h-4zM132 76h4v4h-4zM44 80h4v4h-4zM132 80h4v4h-4zM44 84h4v4h-4zM132 84h4v4h-4zM44 88h4v4h-4zM132 88h4v4h-4zM48 92h4v4h-4zM128 92h4v4h-4zM124 96h4v4h-4zM120 100h8v4h-8zM116 104h4v4h-4zM104 108h8v4h-8z"/><path fill="#ffffa3" d="M68 44h16v4h-16zM60 48h4v4h-4zM92 48h12v4h-12zM56 52h4v4h-4zM108 52h4v4h-4zM56 56h4v4h-4zM116 56h4v4h-4zM52 60h4v4h-4zM120 60h4v4h-4zM52 64h4v4h-4zM124 64h4v4h-4zM48 68h4v4h-4zM48 72h4v4h-4zM128 72h4v4h-4zM128 76h4v4h-4zM128 80h4v4h-4zM48 84h4v4h-4zM128 84h4v4h-4zM48 88h4v4h-4zM128 88h4v4h-4zM52 92h4v4h-4zM124 92h4v4h-4zM120 96h4v4h-4zM116 100h4v4h-4zM108 104h8v4h-8zM88 108h16v4h-16z"/><path fill="#ffff99" d="M64 48h8v4h-8zM80 48h12v4h-12zM60 52h4v4h-4zM100 52h8v4h-8zM60 56h4v4h-4zM112 56h4v4h-4zM56 60h4v4h-4zM116 60h4v4h-4zM120 64h4v4h-4zM52 68h4v4h-4zM124 68h4v4h-4zM124 72h4v4h-4zM48 76h4v4h-4zM48 80h4v4h-4zM124 84h4v4h-4zM52 88h4v4h-4zM124 88h4v4h-4zM120 92h4v4h-4zM56 96h4v4h-4zM116 96h4v4h-4zM64 100h4v4h-4zM112 100h4v4h-4zM100 104h8v4h-8z"/><path fill="#ffff8e" d="M72 48h8v4h-8zM64 52h8v4h-8zM92 52h8v4h-8zM108 56h4v4h-4zM60 60h4v4h-4zM112 60h4v4h-4zM56 64h4v4h-4zM120 68h4v4h-4zM52 72h4v4h-4zM52 76h4v4h-4zM124 76h4v4h-4zM52 80h4v4h-4zM124 80h4v4h-4zM52 84h4v4h-4zM120 88h4v4h-4zM56 92h4v4h-4zM60 96h4v4h-4zM112 96h4v4h-4zM68 100h4v4h-4zM108 100h4v4h-4zM76 104h24v4h-24z"/><path fill="#ffff84" d="M72 52h20v4h-20zM64 56h4v4h-4zM104 56h4v4h-4zM60 64h4v4h-4zM116 64h4v4h-4zM56 68h4v4h-4zM56 72h4v4h-4zM120 72h4v4h-4zM120 76h4v4h-4zM120 80h4v4h-4zM56 84h4v4h-4zM120 84h4v4h-4zM56 88h4v4h-4zM60 92h4v4h-4zM116 92h4v4h-4zM64 96h4v4h-4zM72 100h4v4h-4zM100 100h8v4h-8z"/><path fill="#ffff7a" d="M68 56h8v4h-8zM96 56h8v4h-8zM64 60h4v4h-4zM108 60h4v4h-4zM112 64h4v4h-4zM60 68h4v4h-4zM116 68h4v4h-4zM56 76h4v4h-4zM56 80h4v4h-4zM60 88h4v4h-4zM116 88h4v4h-4zM112 92h4v4h-4zM68 96h4v4h-4zM108 96h4v4h-4zM76 100h8v4h-8zM92 100h8v4h-8z"/><path fill="#ffff70" d="M76 56h20v4h-20zM68 60h4v4h-4zM104 60h4v4h-4zM64 64h4v4h-4zM60 72h4v4h-4zM116 72h4v4h-4zM116 76h4v4h-4zM116 80h4v4h-4zM60 84h4v4h-4zM116 84h4v4h-4zM112 88h4v4h-4zM64 92h4v4h-4zM72 96h4v4h-4zM104 96h4v4h-4zM84 100h8v4h-8z"/><path fill="#ffff66" d="M72 60h4v4h-4zM100 60h4v4h-4zM108 64h4v4h-4zM64 68h4v4h-4zM112 68h4v4h-4zM60 76h4v4h-4zM60 80h4v4h-4zM64 88h4v4h-4zM68 92h4v4h-4zM108 92h4v4h-4zM76 96h4v4h-4zM100 96h4v4h-4z"/><path fill="#ffff5b" d="M76 60h4v4h-4zM96 60h4v4h-4zM68 64h4v4h-4zM104 64h4v4h-4zM108 68h4v4h-4zM112 72h4v4h-4zM112 76h4v4h-4zM112 80h4v4h-4zM64 84h4v4h-4zM112 84h4v4h-4zM108 88h4v4h-4zM104 92h4v4h-4zM80 96h20v4h-20z"/><path fill="#ffff51" d="M80 60h16v4h-16zM72 64h4v4h-4zM68 68h4v4h-4zM64 72h4v4h-4zM64 76h4v4h-4zM64 80h4v4h-4zM68 88h4v4h-4zM72 92h4v4h-4zM100 92h4v4h-4z"/><path fill="#ffff47" d="M76 64h4v4h-4zM100 64h4v4h-4zM104 68h4v4h-4zM108 72h4v4h-4zM108 80h4v4h-4zM68 84h4v4h-4zM108 84h4v4h-4zM104 88h4v4h-4zM76 92h4v4h-4zM96 92h4v4h-4z"/><path fill="#ffff3d" d="M80 64h4v4h-4zM96 64h4v4h-4zM72 68h4v4h-4zM68 72h4v4h-4zM68 76h4v4h-4zM108 76h4v4h-4zM68 80h4v4h-4zM72 88h4v4h-4zM80 92h16v4h-16z"/><path fill="#ffff32" d="M84 64h12v4h-12zM100 68h4v4h-4zM104 72h4v4h-4zM72 84h4v4h-4zM104 84h4v4h-4zM76 88h4v4h-4zM100 88h4v4h-4z"/><path fill="#ffff28" d="M76 68h4v4h-4zM72 72h4v4h-4zM104 76h4v4h-4zM104 80h4v4h-4zM80 88h4v4h-4zM96 88h4v4h-4z"/><path fill="#ffff1e" d="M80 68h4v4h-4zM92 68h8v4h-8zM100 72h4v4h-4zM72 76h4v4h-4zM72 80h4v4h-4zM76 84h4v4h-4zM100 84h4v4h-4zM84 88h12v4h-12z"/><path fill="#ffff14" d="M84 68h8v4h-8zM76 72h4v4h-4zM96 72h4v4h-4zM100 76h4v4h-4zM76 80h4v4h-4zM100 80h4v4h-4zM96 84h4v4h-4z"/><path fill="#ffff0a" d="M80 72h4v4h-4zM76 76h4v4h-4zM96 76h4v4h-4zM96 80h4v4h-4zM80 84h8v4h-8zM92 84h4v4h-4z"/><path fill="#ffff00" d="M84 72h12v4h-12zM80 76h4v4h-4zM80 80h4v4h-4zM92 80h4v4h-4zM88 84h4v4h-4z"/><path fill="#fff600" d="M84 76h12v4h-12zM84 80h8v4h-8z"/></g></g><use href="#lines"/><path d="M26.1,99.6h1.2v1.2h-1.2zM37.8,81.7h1.2v1.2h-1.2zM24.1,102.5h1.7v1.2h-1.7zM35,84.9h1.2v1.2h-1.2zM41.3,77.6h1.2v1.2h-1.2zM30.1,88.6h1.2v1.2h-1.2zM32.1,87.5h1.2v1.2h-1.2zM31.4,98.6h1.2v1.2h-1.2zM39.8,78.7h1.7v1.2h-1.7zM39,85h1.2v1.2h-1.2zM37.5,80.4h1.2v1.2h-1.2zM34.2,86.6h1.7v1.2h-1.7zM42.2,82.6h1.2v1.2h-1.2zM23.6,93h1.2v1.2h-1.2zM23.4,99.1h1.7v1.2h-1.7zM44.2,84.9h1.7v1.2h-1.7zM28,100.5h1.7v1.2h-1.7zM28.8,96.7h1.2v1.2h-1.2zM33.3,90.3h1.7v1.2h-1.7zM45.5,79.5h1.7v1.2h-1.7zM43,76.9h1.7v1.2h-1.7zM37.7,87.3h1.7v1.2h-1.7zM37.4,82.2h1.2v1.2h-1.2zM31.5,95.4h1.7v1.2h-1.7zM35.2,90.1h1.7v1.2h-1.7zM30.3,94.6h1.2v1.2h-1.2zM38.1,74.1h1.7v1.2h-1.7zM42.5,78.6h1.2v1.2h-1.2zM33.9,91.7h1.2v1.2h-1.2zM30,100.9h1.7v1.2h-1.7zM38.6,86h1.7v1.2h-1.7zM35.4,88h1.7v1.2h-1.7zM32.3,98h1.2v1.2h-1.2zM37.1,88.1h1.2v1.2h-1.2zM31.1,93.7h1.2v1.2h-1.2zM34.9,85.3h1.2v1.2h-1.2zM29.5,92.9h1.7v1.2h-1.7zM26.7,98.7h1.2v1.2h-1.2zM34.6,83.4h1.2v1.2h-1.2zM36.2,87.1h1.2v1.2h-1.2zM41.5,75.1h1.7v1.2h-1.7zM35.6,82.9h1.2v1.2h-1.2zM32.5,94.7h1.7v1.2h-1.7zM37.2,86.2h1.7v1.2h-1.7zM42,80.6h1.2v1.2h-1.2zM39.6,73.8h1.2v1.2h-1.2zM27.2,95.3h1.2v1.2h-1.2zM29.6,93.6h1.2v1.2h-1.2zM38,82.8h1.7v1.2h-1.7zM35.5,84.3h1.7v1.2h-1.7zM27.3,96.2h1.7v1.2h-1.7zM27.2,93.8h1.2v1.2h-1.2zM32.1,94.2h1.2v1.2h-1.2zM31.8,95.9h1.7v1.2h-1.7zM41.1,81.3h1.7v1.2h-1.7zM28.7,102.1h1.7v1.2h-1.7zM37.6,91.9h1.2v1.2h-1.2zM38.6,83.6h1.7v1.2h-1.7zM30.4,93.4h1.2v1.2h-1.2zM32.9,88.6h1.7v1.2h-1.7zM34.8,87.2h1.7v1.2h-1.7zM28,92.9h1.2v1.2h-1.2zM36,88.6h1.2v1.2h-1.2zM36.3,94.5h1.7v1.2h-1.7zM27.7,95.8h1.7v1.2h-1.7zM36,92.3h1.2v1.2h-1.2zM44.2,77.2h1.2v1.2h-1.2zM40.1,82h1.2v1.2h-1.2zM29.7,97.4h1.7v1.2h-1.7zM37.2,86.7h1.7v1.2h-1.7zM37.7,79.7h1.7v1.2h-1.7zM29.2,87.6h1.7v1.2h-1.7zM32,88.9h1.2v1.2h-1.2zM39.5,80.3h1.7v1.2h-1.7zM31.6,98.5h1.7v1.2h-1.7zM25.1,99.9h1.2v1.2h-1.2zM36.3,89.3h1.2v1.2h-1.2zM35.1,92.4h1.2v1.2h-1.2zM31.8,94.2h1.2v1.2h-1.2zM35.7,88.7h1.2v1.2h-1.2zM38.3,87.6h1.2v1.2h-1.2zM44.5,70.7h1.2v1.2h-1.2zM40.1,80.7h1.2v1.2h-1.2zM26.2,100.3h1.7v1.2h-1.7zM25.2,101.3h1.7v1.2h-1.7zM29.3,95.7h1.2v1.2h-1.2zM36,86.9h1.2v1.2h-1.2zM32.1,90.9h1.2v1.2h-1.2zM29.4,92.3h1.2v1.2h-1.2zM36.8,91.2h1.2v1.2h-1.2zM34.7,93.8h1.7v1.2h-1.7zM29.2,94.2h1.2v1.2h-1.2zM46.8,66.3h1.2v1.2h-1.2zM45.6,64.7h1.2v1.2h-1.2zM54.7,55.4h1.2v1.2h-1.2zM59.7,56.4h1.2v1.2h-1.2zM43.3,73.6h1.2v1.2h-1.2zM44.3,63.2h1.2v1.2h-1.2zM44.1,67.5h1.2v1.2h-1.2zM57.9,59.5h1.7v1.2h-1.7zM43.4,73.5h1.7v1.2h-1.7zM47.9,63.5h1.7v1.2h-1.7zM43.8,73.8h1.2v1.2h-1.2zM47.2,65.3h1.2v1.2h-1.2zM44.1,65.9h1.2v1.2h-1.2zM50.1,62.2h1.2v1.2h-1.2zM47.4,65.8h1.7v1.2h-1.7zM49.9,60.8h1.2v1.2h-1.2zM45.7,71h1.7v1.2h-1.7zM46.1,59.3h1.2v1.2h-1.2zM58.5,56.2h1.2v1.2h-1.2zM54.2,56.8h1.7v1.2h-1.7zM57.1,55.3h1.7v1.2h-1.7zM97.5,49.9h1.2v1.2h-1.2zM103,46h1.2v1.2h-1.2zM87.6,55.9h1.7v1.2h-1.7zM73.9,55.2h1.2v1.2h-1.2zM62.2,54.1h1.2v1.2h-1.2zM61,54.6h1.2v1.2h-1.2zM91.3,55.3h1.7v1.2h-1.7zM57.3,55h1.2v1.2h-1.2zM67.8,54.8h1.7v1.2h-1.7zM77.1,60.5h1.2v1.2h-1.2zM99.7,47.6h1.7v1.2h-1.7zM77.9,53.2h1.7v1.2h-1.7zM98.9,45h1.2v1.2h-1.2zM79.7,54.7h1.2v1.2h-1.2zM98,51.1h1.2v1.2h-1.2zM64.1,51.8h1.2v1.2h-1.2zM62.4,56.1h1.7v1.2h-1.7zM98.8,46.4h1.2v1.2h-1.2zM60.6,56.8h1.2v1.2h-1.2zM72.4,54.6h1.2v1.2h-1.2zM84.3,58h1.2v1.2h-1.2zM99.5,48.2h1.7v1.2h-1.7zM90.2,52.5h1.2v1.2h-1.2zM66.4,52.8h1.7v1.2h-1.7zM75.5,54.7h1.2v1.2h-1.2zM108.7,42.6h1.2v1.2h-1.2zM104.6,46.5h1.2v1.2h-1.2zM84.1,55.7h1.7v1.2h-1.7zM56,53.6h1.2v1.2h-1.2zM54,53.1h1.7v1.2h-1.7zM84.1,56.3h1.2v1.2h-1.2zM107.8,47.4h1.2v1.2h-1.2zM62.8,55.7h1.2v1.2h-1.2zM63.7,52.6h1.7v1.2h-1.7zM81.5,55.4h1.2v1.2h-1.2zM64.4,56.9h1.7v1.2h-1.7zM105.7,43.8h1.2v1.2h-1.2zM92.4,55.6h1.7v1.2h-1.7zM73,54.8h1.2v1.2h-1.2zM91.2,54.2h1.2v1.2h-1.2zM75.2,57.5h1.2v1.2h-1.2zM100.6,49.5h1.2v1.2h-1.2zM77.1,53.5h1.7v1.2h-1.7zM105.6,46.5h1.7v1.2h-1.7zM60.1,55.1h1.7v1.2h-1.7zM80.6,53.3h1.7v1.2h-1.7zM93.6,50.3h1.7v1.2h-1.7zM79.1,56.9h1.7v1.2h-1.7zM64.2,53.2h1.2v1.2h-1.2zM124.6,25.5h1.2v1.2h-1.2zM123.8,28.4h1.2v1.2h-1.2zM108.3,45.9h1.2v1.2h-1.2zM124.6,22.8h1.2v1.2h-1.2zM130.5,23h1.2v1.2h-1.2zM109.5,43.9h1.7v1.2h-1.7zM126.9,28.4h1.2v1.2h-1.2zM108,45.8h1.2v1.2h-1.2zM122.9,34.2h1.7v1.2h-1.7zM115.9,39h1.2v1.2h-1.2zM116.7,35h1.7v1.2h-1.7zM109.7,45.3h1.2v1.2h-1.2zM125.4,26.7h1.7v1.2h-1.7zM111.3,37.8h1.7v1.2h-1.7zM108.1,41.1h1.7v1.2h-1.7zM111,42.9h1.7v1.2h-1.7zM114.8,36.5h1.2v1.2h-1.2zM27.3,105.3h1.2v1.2h-1.2zM27.1,109.7h1.2v1.2h-1.2zM28.8,108.4h1.7v1.2h-1.7z" fill="#00ffff"/><g fill="none" stroke="#000" stroke-width="0.75"><circle cx="65" cy="31.1" r="4.5"/><circle cx="62.1" cy="40.3" r="4.5"/><circle cx="59.5" cy="50" r="4.5"/><circle cx="56.9" cy="59" r="4.5"/><circle cx="53.9" cy="68.1" r="4.5"/><circle cx="51.5" cy="77" r="4.5"/><circle cx="48.6" cy="85.2" r="4.5"/><circle cx="45.7" cy="93.8" r="4.5"/><circle cx="78.1" cy="35.6" r="3.5"/><circle cx="75.8" cy="45.3" r="3.2"/><circle cx="73.2" cy="54.9" r="3.2"/><circle cx="70.5" cy="64.2" r="3"/><circle cx="68.1" cy="73.5" r="3"/><circle cx="66.1" cy="82.1" r="3"/><circle cx="63.3" cy="90.2" r="3"/><circle cx="59.9" cy="97.7" r="5"/><circle cx="91.3" cy="39.4" r="3.5"/><circle cx="88.7" cy="49.3" r="3.2"/><circle cx="86.3" cy="59.2" r="3"/><circle cx="83.6" cy="69.5" r="3"/><circle cx="81" cy="79.5" r="3"/><circle cx="79.4" cy="88" r="3"/><circle cx="76.9" cy="95.5" r="3"/><circle cx="72.9" cy="103.1" r="3"/><circle cx="104.8" cy="43.5" r="3.5"/><circle cx="102" cy="53.4" r="3.2"/><circle cx="100.6" cy="63.4" r="3"/><circle cx="97.7" cy="74.1" r="3"/><circle cx="95.2" cy="84" r="3"/><circle cx="93.7" cy="92.1" r="3"/><circle cx="90.4" cy="99.6" r="3"/><circle cx="86.8" cy="107" r="3"/><circle cx="119.1" cy="47.5" r="3.5"/><circle cx="117.1" cy="57.1" r="3.2"/><circle cx="114.8" cy="66.9" r="3"/><circle cx="112.6" cy="76.8" r="3"/><circle cx="109.3" cy="86.5" r="3"/><circle cx="106.8" cy="94.8" r="3"/><circle cx="104.1" cy="102.4" r="3"/><circle cx="100" cy="110" r="5"/><circle cx="133" cy="52.9" r="3.5"/><circle cx="130.5" cy="61.9" r="3.2"/><circle cx="127.8" cy="71.2" r="3.2"/><circle cx="125.4" cy="80.3" r="3"/><circle cx="122.7" cy="89.2" r="3"/><circle cx="119.7" cy="97.8" r="3.2"/><circle cx="116.4" cy="106.1" r="4.3"/><circle cx="113.6" cy="113.9" r="5"/><circle cx="146.3" cy="57" r="3.5"/><circle cx="143.5" cy="66" r="3.2"/><circle cx="140.9" cy="74.9" r="3.2"/><circle cx="138.1" cy="83.9" r="3.2"/><circle cx="135.7" cy="92.6" r="3.2"/><circle cx="133" cy="101.2" r="3.2"/><circle cx="130.1" cy="109.8" r="4.3"/><circle cx="127" cy="118.2" r="5"/><circle cx="157.5" cy="64.5" r="3.5"/><circle cx="154.9" cy="72.9" r="3.9"/><circle cx="152.7" cy="81.2" r="3.9"/><circle cx="150.2" cy="89.5" r="3.9"/><circle cx="147.6" cy="97.8" r="3.9"/><circle cx="145.4" cy="105.9" r="3.9"/><circle cx="142.8" cy="113.9" r="3.9"/><circle cx="140.2" cy="122.1" r="5"/></g><path d="M64.5,30.6h1v1h-1zM61.6,39.8h1v1h-1zM59,49.5h1v1h-1zM56.3,56.9L56.9,59M56.9,59L54.7,57.3L57.8,56.4zM53.5,65.7L53.9,68.1M53.9,68.1L52,66.1L55.1,65.5zM50.8,74.6L51.5,77M51.5,77L49.3,75.1L52.3,74.2zM48.1,84.7h1v1h-1zM45.2,93.3h1v1h-1zM77.6,35.1h1v1h-1zM75.3,44.8h1v1h-1zM72.4,52.1L73.2,54.9M73.2,54.9L70.9,52.8L74,51.9zM69.7,60.8L70.5,64.2M70.5,64.2L68.2,61.7L71.3,60.9zM66.9,69.6L68.1,73.5M68.1,73.5L65.6,70.8L68.7,69.9zM64.2,78.3L66.1,82.1M66.1,82.1L63.2,79.8L66.1,78.4zM61.5,87.1L63.3,90.2M63.3,90.2L60.4,88.3L63.2,86.7zM59.4,97.2h1v1h-1zM90.8,38.9h1v1h-1zM88.2,47.1L88.7,49.3M88.7,49.3L86.7,47.4L89.8,46.8zM85.6,55.9L86.3,59.2M86.3,59.2L84.1,56.7L87.2,56zM82.9,64.7L83.6,69.5M83.6,69.5L81.5,66.5L84.7,66zM80.2,73.5L81,79.5M81,79.5L79,76.4L82.2,76zM77.5,82.3L79.4,88M79.4,88L76.9,85.4L79.9,84.4zM74.9,91.1L76.9,95.5M76.9,95.5L74,93.1L77,91.8zM72.2,99.9L72.9,103.1M72.9,103.1L70.7,100.6L73.9,100zM104.3,43h1v1h-1zM101.9,51.1L102,53.4M102,53.4L100.3,51.3L103.5,51zM99.2,59.9L100.6,63.4M100.6,63.4L98,61.1L100.9,59.8zM96.6,68.7L97.7,74.1M97.7,74.1L95.5,71.2L98.6,70.5zM93.9,77.5L95.2,84M95.2,84L93,81.1L96.1,80.5zM91.3,86.3L93.7,92.1M93.7,92.1L91,89.7L93.9,88.5zM88.6,95.1L90.4,99.6M90.4,99.6L87.7,97.1L90.7,96zM86,103.9L86.8,107M86.8,107L84.6,104.7L87.6,103.9zM118.6,47h1v1h-1zM116.6,56.6h1v1h-1zM113.4,63.9L114.8,66.9M114.8,66.9L112.1,65L115,63.6zM110.6,72.7L112.6,76.8M112.6,76.8L109.7,74.5L112.6,73.1zM107.9,81.6L109.3,86.5M109.3,86.5L106.8,83.8L109.9,82.9zM105.1,90.4L106.8,94.8M106.8,94.8L104.1,92.3L107.1,91.1zM102.4,99.2L104.1,102.4M104.1,102.4L101.2,100.4L104,98.9zM99.5,109.5h1v1h-1zM132.5,52.4h1v1h-1zM130,61.4h1v1h-1zM126.9,69L127.8,71.2M127.8,71.2L125.4,69.7L128.4,68.4zM124.1,77.7L125.4,80.3M125.4,80.3L122.8,78.6L125.7,77.2zM121.4,86.4L122.7,89.2M122.7,89.2L120.1,87.4L123,86zM118.6,95.1L119.7,97.8M119.7,97.8L117.2,95.9L120.2,94.7zM115.9,103.8L116.4,106.1M116.4,106.1L114.3,104.2L117.4,103.4zM113.1,113.4h1v1h-1zM145.8,56.5h1v1h-1zM143,65.5h1v1h-1zM140.4,74.4h1v1h-1zM137.6,83.4h1v1h-1zM135.2,92.1h1v1h-1zM132.5,100.7h1v1h-1zM129.6,109.3h1v1h-1zM126.5,117.7h1v1h-1zM157,64h1v1h-1zM154.4,72.4h1v1h-1zM152.2,80.7h1v1h-1zM149.7,89h1v1h-1zM147.1,97.3h1v1h-1zM144.9,105.4h1v1h-1zM142.3,113.4h1v1h-1zM139.7,121.6h1v1h-1z" fill="#000" stroke="#000" stroke-width="0.95"/><polygon points="58.9,23.4 147,51.3 155,54.6 160.5,58.3 165.1,63.6 145.6,127.2 38.4,95.2" fill="none" stroke="#222" stroke-width="0.7"/><use href="#trench"/></g><rect x="26.6" y="18.4" width="155.2" height="118.3" fill="none" stroke="#000" stroke-width="1.2"/><text x="29.3" y="31.8" font-size="16.6">(g)</text><text x="49.3" y="132.6" font-size="9.8">2015.0-2015.5</text></g>
<g transform="translate(477,126.8)"><g clip-path="url(#cf)"><rect x="26.6" y="18.4" width="155.2" height="118.3" fill="#fff"/><polygon points="58.9,23.4 147,51.3 155,54.6 160.5,58.3 165.1,63.6 145.6,127.2 38.4,95.2" fill="#b9b9b9"/><g clip-path="url(#ci7)"><g filter="url(#bl)"><path fill="#ffffc1" d="M140 100h8v4h-8zM140 104h12v4h-12zM140 108h8v4h-8z"/><path fill="#ffffb7" d="M140 92h8v4h-8zM136 96h20v4h-20zM132 100h8v4h-8zM148 100h8v4h-8zM132 104h8v4h-8zM132 108h8v4h-8zM132 112h8v4h-8z"/><path fill="#ffffad" d="M64 32h12v4h-12zM56 36h4v4h-4zM136 44h4v4h-4zM160 52h4v4h-4zM160 56h8v4h-8zM160 60h8v4h-8zM164 64h4v4h-4zM164 68h4v4h-4zM164 72h4v4h-4zM160 80h4v4h-4zM160 84h4v4h-4zM136 88h12v4h-12zM156 88h4v4h-4zM132 92h8v4h-8zM148 92h12v4h-12zM132 96h4v4h-4zM128 100h4v4h-4zM128 104h4v4h-4zM124 108h8v4h-8zM124 112h8v4h-8z"/><path fill="#ffffa3" d="M76 32h12v4h-12zM60 36h44v4h-44zM56 40h12v4h-12zM108 40h12v4h-12zM52 44h8v4h-8zM120 44h16v4h-16zM48 48h4v4h-4zM124 48h24v4h-24zM152 48h4v4h-4zM132 52h12v4h-12zM156 52h4v4h-4zM156 56h4v4h-4zM160 64h4v4h-4zM160 68h4v4h-4zM160 72h4v4h-4zM160 76h4v4h-4zM156 80h4v4h-4zM136 84h12v4h-12zM156 84h4v4h-4zM132 88h4v4h-4zM148 88h8v4h-8zM128 92h4v4h-4zM128 96h4v4h-4zM124 100h4v4h-4zM120 104h8v4h-8zM116 108h8v4h-8zM120 112h4v4h-4z"/><path fill="#ffff99" d="M68 40h40v4h-40zM60 44h12v4h-12zM104 44h16v4h-16zM52 48h8v4h-8zM116 48h8v4h-8zM148 48h4v4h-4zM48 52h8v4h-8zM120 52h12v4h-12zM144 52h12v4h-12zM128 56h16v4h-16zM132 60h12v4h-12zM156 60h4v4h-4zM132 64h8v4h-8zM156 64h4v4h-4zM136 68h4v4h-4zM156 68h4v4h-4zM136 72h4v4h-4zM156 72h4v4h-4zM136 76h8v4h-8zM156 76h4v4h-4zM132 80h16v4h-16zM152 80h4v4h-4zM132 84h4v4h-4zM148 84h8v4h-8zM128 88h4v4h-4zM124 92h4v4h-4zM124 96h4v4h-4zM120 100h4v4h-4zM116 104h4v4h-4zM108 108h8v4h-8z"/><path fill="#ffff8e" d="M72 44h32v4h-32zM60 48h12v4h-12zM104 48h12v4h-12zM56 52h4v4h-4zM116 52h4v4h-4zM48 56h8v4h-8zM120 56h8v4h-8zM144 56h12v4h-12zM48 60h4v4h-4zM124 60h8v4h-8zM144 60h4v4h-4zM152 60h4v4h-4zM44 64h4v4h-4zM128 64h4v4h-4zM140 64h4v4h-4zM44 68h4v4h-4zM128 68h8v4h-8zM140 68h4v4h-4zM128 72h8v4h-8zM140 72h4v4h-4zM128 76h8v4h-8zM144 76h4v4h-4zM152 76h4v4h-4zM128 80h4v4h-4zM148 80h4v4h-4zM128 84h4v4h-4zM44 88h4v4h-4zM124 88h4v4h-4zM48 92h4v4h-4zM120 96h4v4h-4zM116 100h4v4h-4zM108 104h8v4h-8zM88 108h20v4h-20z"/><path fill="#ffff84" d="M72 48h32v4h-32zM60 52h8v4h-8zM108 52h8v4h-8zM56 56h4v4h-4zM116 56h4v4h-4zM52 60h4v4h-4zM120 60h4v4h-4zM148 60h4v4h-4zM48 64h4v4h-4zM124 64h4v4h-4zM144 64h12v4h-12zM48 68h4v4h-4zM124 68h4v4h-4zM144 68h12v4h-12zM44 72h4v4h-4zM124 72h4v4h-4zM144 72h12v4h-12zM44 76h4v4h-4zM124 76h4v4h-4zM148 76h4v4h-4zM44 80h4v4h-4zM124 80h4v4h-4zM44 84h4v4h-4zM124 84h4v4h-4zM48 88h4v4h-4zM120 88h4v4h-4zM52 92h4v4h-4zM120 92h4v4h-4zM56 96h4v4h-4zM116 96h4v4h-4zM108 100h8v4h-8zM96 104h12v4h-12z"/><path fill="#ffff7a" d="M68 52h8v4h-8zM100 52h8v4h-8zM60 56h4v4h-4zM108 56h8v4h-8zM56 60h4v4h-4zM116 60h4v4h-4zM52 64h4v4h-4zM120 64h4v4h-4zM120 68h4v4h-4zM48 72h4v4h-4zM48 76h4v4h-4zM48 80h4v4h-4zM48 84h4v4h-4zM120 84h4v4h-4zM52 88h4v4h-4zM56 92h4v4h-4zM116 92h4v4h-4zM60 96h4v4h-4zM112 96h4v4h-4zM64 100h8v4h-8zM104 100h4v4h-4zM76 104h20v4h-20z"/><path fill="#ffff70" d="M76 52h24v4h-24zM64 56h8v4h-8zM104 56h4v4h-4zM60 60h4v4h-4zM112 60h4v4h-4zM56 64h4v4h-4zM116 64h4v4h-4zM52 68h4v4h-4zM116 68h4v4h-4zM52 72h4v4h-4zM120 72h4v4h-4zM52 76h4v4h-4zM120 76h4v4h-4zM52 80h4v4h-4zM120 80h4v4h-4zM52 84h4v4h-4zM116 84h4v4h-4zM116 88h4v4h-4zM112 92h4v4h-4zM64 96h4v4h-4zM108 96h4v4h-4zM72 100h8v4h-8zM96 100h8v4h-8z"/><path fill="#ffff66" d="M72 56h4v4h-4zM96 56h8v4h-8zM64 60h4v4h-4zM108 60h4v4h-4zM60 64h4v4h-4zM112 64h4v4h-4zM56 68h4v4h-4zM116 72h4v4h-4zM116 76h4v4h-4zM116 80h4v4h-4zM56 84h4v4h-4zM56 88h4v4h-4zM112 88h4v4h-4zM60 92h4v4h-4zM108 92h4v4h-4zM68 96h4v4h-4zM100 96h8v4h-8zM80 100h16v4h-16z"/><path fill="#ffff5b" d="M76 56h20v4h-20zM68 60h4v4h-4zM104 60h4v4h-4zM108 64h4v4h-4zM112 68h4v4h-4zM56 72h4v4h-4zM112 72h4v4h-4zM56 76h4v4h-4zM56 80h4v4h-4zM112 84h4v4h-4zM60 88h4v4h-4zM108 88h4v4h-4zM64 92h4v4h-4zM104 92h4v4h-4zM72 96h4v4h-4zM96 96h4v4h-4z"/><path fill="#ffff51" d="M72 60h4v4h-4zM100 60h4v4h-4zM64 64h4v4h-4zM104 64h4v4h-4zM60 68h4v4h-4zM108 68h4v4h-4zM60 72h4v4h-4zM112 76h4v4h-4zM112 80h4v4h-4zM60 84h4v4h-4zM64 88h4v4h-4zM68 92h4v4h-4zM100 92h4v4h-4zM76 96h20v4h-20z"/><path fill="#ffff47" d="M76 60h4v4h-4zM92 60h8v4h-8zM68 64h4v4h-4zM64 68h4v4h-4zM108 72h4v4h-4zM60 76h4v4h-4zM108 76h4v4h-4zM60 80h4v4h-4zM108 80h4v4h-4zM108 84h4v4h-4zM104 88h4v4h-4zM72 92h4v4h-4zM96 92h4v4h-4z"/><path fill="#ffff3d" d="M80 60h12v4h-12zM72 64h4v4h-4zM100 64h4v4h-4zM104 68h4v4h-4zM64 72h4v4h-4zM64 80h4v4h-4zM64 84h4v4h-4zM104 84h4v4h-4zM68 88h4v4h-4zM100 88h4v4h-4zM76 92h8v4h-8zM92 92h4v4h-4z"/><path fill="#ffff32" d="M76 64h4v4h-4zM96 64h4v4h-4zM68 68h4v4h-4zM100 68h4v4h-4zM104 72h4v4h-4zM64 76h4v4h-4zM104 76h4v4h-4zM104 80h4v4h-4zM68 84h4v4h-4zM72 88h4v4h-4zM96 88h4v4h-4zM84 92h8v4h-8z"/><path fill="#ffff28" d="M80 64h16v4h-16zM72 68h4v4h-4zM68 72h4v4h-4zM100 72h4v4h-4zM68 76h4v4h-4zM68 80h4v4h-4zM100 84h4v4h-4zM76 88h4v4h-4zM92 88h4v4h-4z"/><path fill="#ffff1e" d="M76 68h4v4h-4zM96 68h4v4h-4zM100 76h4v4h-4zM100 80h4v4h-4zM72 84h4v4h-4zM96 84h4v4h-4zM80 88h12v4h-12z"/><path fill="#ffff14" d="M80 68h16v4h-16zM72 72h4v4h-4zM96 72h4v4h-4zM72 76h4v4h-4zM72 80h4v4h-4zM96 80h4v4h-4zM76 84h4v4h-4zM92 84h4v4h-4z"/><path fill="#ffff0a" d="M76 72h4v4h-4zM92 72h4v4h-4zM76 76h4v4h-4zM96 76h4v4h-4zM76 80h4v4h-4zM92 80h4v4h-4zM80 84h12v4h-12z"/><path fill="#ffff00" d="M80 72h12v4h-12zM80 76h4v4h-4zM88 76h8v4h-8zM80 80h12v4h-12z"/><path fill="#fff600" d="M84 76h4v4h-4z"/></g></g><use href="#lines"/><path d="M33.7,92.4h1.2v1.2h-1.2zM34.7,89.3h1.2v1.2h-1.2zM38.4,84.9h1.7v1.2h-1.7zM42,78h1.7v1.2h-1.7zM28.5,91.1h1.7v1.2h-1.7zM45.2,77.2h1.7v1.2h-1.7zM37.6,79.1h1.2v1.2h-1.2zM33.6,93.2h1.2v1.2h-1.2zM40.9,82.1h1.2v1.2h-1.2zM31,97.9h1.2v1.2h-1.2zM34.8,81.2h1.7v1.2h-1.7zM39.2,84.9h1.7v1.2h-1.7zM40.2,79.5h1.2v1.2h-1.2zM36.4,89.7h1.2v1.2h-1.2zM29.4,102h1.2v1.2h-1.2zM45.4,72.8h1.7v1.2h-1.7zM29.3,94.8h1.2v1.2h-1.2zM32,92.6h1.2v1.2h-1.2zM44,77.7h1.7v1.2h-1.7zM32.1,88.6h1.7v1.2h-1.7zM31.7,90.9h1.7v1.2h-1.7zM22.9,102.7h1.2v1.2h-1.2zM28.9,96.5h1.2v1.2h-1.2zM33.3,91.3h1.7v1.2h-1.7zM29,99.7h1.2v1.2h-1.2zM26.7,101.9h1.7v1.2h-1.7zM24.4,101.6h1.7v1.2h-1.7zM42.7,75.6h1.2v1.2h-1.2zM31.3,90.1h1.2v1.2h-1.2zM37,84.1h1.2v1.2h-1.2zM22.2,99.8h1.2v1.2h-1.2zM31.6,101.8h1.7v1.2h-1.7zM28.7,95h1.2v1.2h-1.2zM25.5,104h1.2v1.2h-1.2zM29.6,92.5h1.7v1.2h-1.7zM34.3,77.5h1.2v1.2h-1.2zM45.6,77.6h1.2v1.2h-1.2zM27.4,101.3h1.2v1.2h-1.2zM34.4,92.3h1.7v1.2h-1.7zM38.2,77.3h1.7v1.2h-1.7zM33.1,88.2h1.7v1.2h-1.7zM31.9,94.8h1.7v1.2h-1.7zM28.9,91.1h1.7v1.2h-1.7zM41.3,80.2h1.2v1.2h-1.2zM26.8,102.2h1.2v1.2h-1.2zM35.9,84.2h1.2v1.2h-1.2zM27.7,98.2h1.2v1.2h-1.2zM43.8,76h1.7v1.2h-1.7zM24,103.7h1.2v1.2h-1.2zM25.9,99.1h1.7v1.2h-1.7zM32.7,82.3h1.7v1.2h-1.7zM31.5,98.2h1.2v1.2h-1.2zM34.5,87.5h1.7v1.2h-1.7zM29,90.5h1.2v1.2h-1.2zM37.4,86.8h1.2v1.2h-1.2zM29.8,94.5h1.2v1.2h-1.2zM34.4,90.4h1.7v1.2h-1.7zM37.6,82.5h1.7v1.2h-1.7zM32.4,90.7h1.2v1.2h-1.2zM36.6,83.3h1.7v1.2h-1.7zM38.7,85.1h1.7v1.2h-1.7zM38.2,88.3h1.2v1.2h-1.2zM29.8,98.4h1.7v1.2h-1.7zM34,90.9h1.2v1.2h-1.2zM33.6,92.8h1.7v1.2h-1.7zM25.3,98.8h1.7v1.2h-1.7zM48.5,59.4h1.7v1.2h-1.7zM44.6,69.9h1.7v1.2h-1.7zM48.3,62.3h1.2v1.2h-1.2zM46.5,60.8h1.7v1.2h-1.7zM42.2,72.8h1.2v1.2h-1.2zM48.4,65.4h1.7v1.2h-1.7zM51.8,62.4h1.2v1.2h-1.2zM46.5,67.6h1.2v1.2h-1.2zM49.5,65.2h1.7v1.2h-1.7zM44.6,72.2h1.7v1.2h-1.7zM48.5,69.5h1.2v1.2h-1.2zM57.6,54.5h1.7v1.2h-1.7zM45.7,66.7h1.2v1.2h-1.2zM55.4,52.8h1.7v1.2h-1.7zM44.9,66.4h1.2v1.2h-1.2zM47.4,58.4h1.2v1.2h-1.2zM76,53.2h1.7v1.2h-1.7zM74.5,53.2h1.7v1.2h-1.7zM97.1,53.5h1.2v1.2h-1.2zM71.9,54.5h1.2v1.2h-1.2zM79,51.6h1.2v1.2h-1.2zM105.3,46h1.2v1.2h-1.2zM73.5,56.9h1.2v1.2h-1.2zM67,50.4h1.2v1.2h-1.2zM97.5,49.6h1.7v1.2h-1.7zM76.3,51.8h1.7v1.2h-1.7zM84.7,58.8h1.7v1.2h-1.7zM77.2,52.9h1.7v1.2h-1.7zM94.6,50h1.7v1.2h-1.7zM90.6,53.7h1.2v1.2h-1.2zM105.9,45.7h1.2v1.2h-1.2zM77.2,55.9h1.2v1.2h-1.2zM88.6,56.5h1.7v1.2h-1.7zM97,50.6h1.2v1.2h-1.2zM82.8,58.6h1.2v1.2h-1.2zM90,52.6h1.7v1.2h-1.7zM62.1,52.6h1.7v1.2h-1.7zM97.3,49.5h1.2v1.2h-1.2zM77.6,57.5h1.2v1.2h-1.2zM61.2,55.3h1.2v1.2h-1.2zM95.1,54.9h1.2v1.2h-1.2zM63.8,53h1.2v1.2h-1.2zM92.9,53.9h1.7v1.2h-1.7zM113.1,42.2h1.7v1.2h-1.7zM123.8,32h1.2v1.2h-1.2zM129.6,25.9h1.2v1.2h-1.2zM119.1,36.1h1.2v1.2h-1.2zM110.4,41.3h1.2v1.2h-1.2zM116.2,39h1.2v1.2h-1.2zM122.4,28.9h1.2v1.2h-1.2zM116.6,36.1h1.2v1.2h-1.2zM112.3,44.6h1.7v1.2h-1.7zM123.1,33h1.7v1.2h-1.7zM131.3,21.9h1.2v1.2h-1.2zM24.1,106.6h1.7v1.2h-1.7zM27.9,103.6h1.2v1.2h-1.2zM25.4,113.1h1.7v1.2h-1.7z" fill="#00ffff"/><g fill="none" stroke="#000" stroke-width="0.75"><circle cx="65.3" cy="31.7" r="4.5"/><circle cx="62" cy="41" r="4.5"/><circle cx="60" cy="50.4" r="4.5"/><circle cx="57.1" cy="59.7" r="3"/><circle cx="54.4" cy="68.9" r="3"/><circle cx="52.5" cy="77.6" r="3"/><circle cx="48.9" cy="85.9" r="4.5"/><circle cx="46.1" cy="94.4" r="4.5"/><circle cx="78.5" cy="36.2" r="3.5"/><circle cx="75.8" cy="45.8" r="3.2"/><circle cx="73.4" cy="55.1" r="3"/><circle cx="70.6" cy="64.8" r="3"/><circle cx="68.6" cy="74.1" r="3"/><circle cx="65.2" cy="83.1" r="3"/><circle cx="62.3" cy="91.3" r="3"/><circle cx="59.7" cy="98.4" r="5"/><circle cx="91.3" cy="40.2" r="3.5"/><circle cx="89.3" cy="49.9" r="3"/><circle cx="87.1" cy="59.5" r="3"/><circle cx="83.8" cy="69.9" r="3"/><circle cx="83.2" cy="79.1" r="3"/><circle cx="78.3" cy="88.5" r="3"/><circle cx="75.8" cy="96.2" r="3"/><circle cx="74" cy="103.3" r="3"/><circle cx="105.2" cy="44.2" r="3.5"/><circle cx="102.9" cy="54.1" r="3"/><circle cx="100.1" cy="64" r="3"/><circle cx="98.2" cy="74" r="3"/><circle cx="95.7" cy="83.7" r="3"/><circle cx="93.9" cy="91.9" r="3"/><circle cx="89.5" cy="100" r="3"/><circle cx="87.3" cy="107.3" r="3"/><circle cx="119.3" cy="48.2" r="3.5"/><circle cx="116.8" cy="58" r="3"/><circle cx="114.3" cy="67.6" r="3"/><circle cx="112.2" cy="77.1" r="3"/><circle cx="109.1" cy="86.4" r="3"/><circle cx="107.3" cy="94.5" r="3"/><circle cx="103.6" cy="102.8" r="3"/><circle cx="99.9" cy="110.4" r="5"/><circle cx="133.1" cy="53.9" r="3.5"/><circle cx="130.2" cy="62.9" r="3.2"/><circle cx="127.9" cy="71.9" r="3"/><circle cx="125.4" cy="80.9" r="3"/><circle cx="122.3" cy="89.7" r="3"/><circle cx="119.9" cy="98" r="3"/><circle cx="117.1" cy="106.4" r="4.3"/><circle cx="114" cy="114.3" r="5"/><circle cx="146.5" cy="58.4" r="3.5"/><circle cx="144.1" cy="67.2" r="3.2"/><circle cx="141.4" cy="75.9" r="3.2"/><circle cx="139" cy="84.3" r="3.2"/><circle cx="135.7" cy="93" r="3.2"/><circle cx="132.8" cy="101.6" r="3.2"/><circle cx="129.8" cy="110.4" r="4.3"/><circle cx="127.5" cy="118.6" r="5"/><circle cx="157.9" cy="65.9" r="3.5"/><circle cx="155.2" cy="74.6" r="3"/><circle cx="153.3" cy="82.6" r="3.9"/><circle cx="150.4" cy="90.5" r="3.9"/><circle cx="147.8" cy="98.2" r="3.9"/><circle cx="145.2" cy="106.3" r="3.9"/><circle cx="143" cy="114.2" r="3.9"/><circle cx="140.5" cy="122.7" r="5"/></g><path d="M64.8,31.2h1v1h-1zM61.5,40.5h1v1h-1zM59,48L60,50.4M60,50.4L57.6,48.8L60.5,47.5zM56.3,56.9L57.1,59.7M57.1,59.7L54.8,57.6L57.9,56.7zM53.5,65.7L54.4,68.9M54.4,68.9L52.1,66.5L55.2,65.7zM50.8,74.6L52.5,77.6M52.5,77.6L49.6,75.8L52.4,74.2zM48,83.4L48.9,85.9M48.9,85.9L46.6,84.1L49.6,83zM45.3,92.3L46.1,94.4M46.1,94.4L43.8,92.9L46.8,91.7zM78,35.7h1v1h-1zM75.1,43.3L75.8,45.8M75.8,45.8L73.6,43.9L76.7,43zM72.4,52.1L73.4,55.1M73.4,55.1L71,53L74,51.9zM69.7,60.8L70.6,64.8M70.6,64.8L68.3,61.9L71.4,61.2zM66.9,69.6L68.6,74.1M68.6,74.1L66,71.5L69,70.4zM64.2,78.3L65.2,83.1M65.2,83.1L63,80.2L66.1,79.6zM61.5,87.1L62.3,91.3M62.3,91.3L60.1,88.3L63.3,87.8zM58.8,95.8L59.7,98.4M59.7,98.4L57.3,96.5L60.4,95.5zM90.8,39.7h1v1h-1zM88.2,47.1L89.3,49.9M89.3,49.9L86.8,47.9L89.8,46.8zM85.6,55.9L87.1,59.5M87.1,59.5L84.4,57.2L87.3,55.9zM82.9,64.7L83.8,69.9M83.8,69.9L81.6,66.9L84.8,66.4zM80.2,73.5L83.2,79.1M83.2,79.1L80.2,76.9L83,75.4zM77.5,82.3L78.3,88.5M78.3,88.5L76.3,85.4L79.5,85zM74.9,91.1L75.8,96.2M75.8,96.2L73.6,93.2L76.8,92.6zM72.2,99.9L74,103.3M74,103.3L71.1,101.2L73.9,99.7zM104.7,43.7h1v1h-1zM101.9,51.1L102.9,54.1M102.9,54.1L100.5,52L103.5,50.9zM99.2,59.9L100.1,64M100.1,64L97.9,61.1L101,60.5zM96.6,68.7L98.2,74M98.2,74L95.7,71.3L98.7,70.4zM93.9,77.5L95.7,83.7M95.7,83.7L93.3,80.9L96.3,80.1zM91.3,86.3L93.9,91.9M93.9,91.9L91.1,89.6L93.9,88.2zM88.6,95.1L89.5,100M89.5,100L87.4,97L90.5,96.4zM86,103.9L87.3,107.3M87.3,107.3L84.7,105L87.7,103.9zM118.8,47.7h1v1h-1zM116.1,55.1L116.8,58M116.8,58L114.7,55.8L117.8,55zM113.4,63.9L114.3,67.6M114.3,67.6L112,64.9L115.1,64.1zM110.6,72.7L112.2,77.1M112.2,77.1L109.6,74.5L112.6,73.4zM107.9,81.6L109.1,86.4M109.1,86.4L106.7,83.6L109.8,82.8zM105.1,90.4L107.3,94.5M107.3,94.5L104.4,92.4L107.2,90.9zM102.4,99.2L103.6,102.8M103.6,102.8L101.1,100.3L104.1,99.3zM99.6,108L99.9,110.4M99.9,110.4L98,108.3L101.2,107.9zM132.4,51.6L133.1,53.9M133.1,53.9L130.9,52.1L133.9,51.2zM129.6,60.3L130.2,62.9M130.2,62.9L128.1,60.8L131.2,60.1zM126.9,69L127.9,71.9M127.9,71.9L125.5,69.8L128.5,68.8zM124.1,77.7L125.4,80.9M125.4,80.9L122.8,78.7L125.8,77.5zM121.4,86.4L122.3,89.7M122.3,89.7L119.9,87.3L123,86.4zM118.6,95.1L119.9,98M119.9,98L117.3,96.1L120.2,94.8zM115.9,103.8L117.1,106.4M117.1,106.4L114.5,104.7L117.4,103.3zM113.5,113.8h1v1h-1zM145.9,55.8L146.5,58.4M146.5,58.4L144.4,56.3L147.5,55.6zM143.2,64.6L144.1,67.2M144.1,67.2L141.8,65.3L144.8,64.2zM140.5,73.3L141.4,75.9M141.4,75.9L139,74L142,72.9zM137.8,82.1L139,84.3M139,84.3L136.4,82.9L139.2,81.4zM135,90.8L135.7,93M135.7,93L133.5,91.3L136.6,90.4zM132.3,101.1h1v1h-1zM129.3,109.9h1v1h-1zM127,118.1h1v1h-1zM157.1,63.4L157.9,65.9M157.9,65.9L155.6,64L158.7,63.1zM154.7,71.7L155.2,74.6M155.2,74.6L153.1,72.2L156.3,71.7zM152.2,79.9L153.3,82.6M153.3,82.6L150.8,80.7L153.8,79.6zM149.8,88.2L150.4,90.5M150.4,90.5L148.2,88.7L151.3,87.8zM147.3,97.7h1v1h-1zM144.7,105.8h1v1h-1zM142.5,113.7h1v1h-1zM140,122.2h1v1h-1z" fill="#000" stroke="#000" stroke-width="0.95"/><polygon points="58.9,23.4 147,51.3 155,54.6 160.5,58.3 165.1,63.6 145.6,127.2 38.4,95.2" fill="none" stroke="#222" stroke-width="0.7"/><use href="#trench"/></g><rect x="26.6" y="18.4" width="155.2" height="118.3" fill="none" stroke="#000" stroke-width="1.2"/><path d="M181.8,60.5h5M181.8,129.8h5" stroke="#000" stroke-width="0.8"/><text x="29.3" y="31.8" font-size="16.6">(h)</text><text x="49.3" y="132.6" font-size="9.8">2015.5-2016.0</text></g>
<g transform="translate(0,253.5)"><g clip-path="url(#cf)"><rect x="26.6" y="18.4" width="155.2" height="118.3" fill="#fff"/><polygon points="58.9,23.4 147,51.3 155,54.6 160.5,58.3 165.1,63.6 145.6,127.2 38.4,95.2" fill="#b9b9b9"/><g clip-path="url(#ci8)"><g filter="url(#bl)"><path fill="#ffffc1" d="M152 48h4v4h-4zM156 52h8v4h-8zM160 56h8v4h-8zM160 60h8v4h-8zM164 64h4v4h-4zM164 68h4v4h-4z"/><path fill="#ffffb7" d="M128 44h12v4h-12zM132 48h20v4h-20zM136 52h20v4h-20zM140 56h20v4h-20zM140 60h20v4h-20zM144 64h20v4h-20zM144 68h20v4h-20zM148 72h20v4h-20zM148 76h16v4h-16zM148 80h16v4h-16zM148 84h16v4h-16zM148 88h12v4h-12zM148 92h12v4h-12zM148 96h8v4h-8zM144 100h12v4h-12zM144 104h8v4h-8zM140 108h8v4h-8zM136 112h4v4h-4z"/><path fill="#ffffad" d="M60 32h32v4h-32zM116 40h8v4h-8zM120 44h8v4h-8zM124 48h8v4h-8zM128 52h8v4h-8zM128 56h12v4h-12zM132 60h8v4h-8zM136 64h8v4h-8zM136 68h8v4h-8zM140 72h8v4h-8zM140 76h8v4h-8zM140 80h8v4h-8zM140 84h8v4h-8zM140 88h8v4h-8zM140 92h8v4h-8zM140 96h8v4h-8zM136 100h8v4h-8zM136 104h8v4h-8zM132 108h8v4h-8zM128 112h8v4h-8z"/><path fill="#ffffa3" d="M56 36h12v4h-12zM96 36h12v4h-12zM108 40h8v4h-8zM116 44h4v4h-4zM120 48h4v4h-4zM120 52h8v4h-8zM124 56h4v4h-4zM128 60h4v4h-4zM128 64h8v4h-8zM132 68h4v4h-4zM136 72h4v4h-4zM136 76h4v4h-4zM136 80h4v4h-4zM136 84h4v4h-4zM136 88h4v4h-4zM136 92h4v4h-4zM136 96h4v4h-4zM132 100h4v4h-4zM128 104h8v4h-8zM124 108h8v4h-8zM120 112h8v4h-8z"/><path fill="#ffff99" d="M68 36h28v4h-28zM56 40h4v4h-4zM104 40h4v4h-4zM108 44h8v4h-8zM48 48h4v4h-4zM112 48h8v4h-8zM116 52h4v4h-4zM48 56h4v4h-4zM120 56h4v4h-4zM48 60h4v4h-4zM120 60h8v4h-8zM44 64h4v4h-4zM124 64h4v4h-4zM44 68h4v4h-4zM128 68h4v4h-4zM132 72h4v4h-4zM132 76h4v4h-4zM132 80h4v4h-4zM132 84h4v4h-4zM132 88h4v4h-4zM132 92h4v4h-4zM132 96h4v4h-4zM128 100h4v4h-4zM124 104h4v4h-4zM120 108h4v4h-4z"/><path fill="#ffff8e" d="M60 40h8v4h-8zM96 40h8v4h-8zM52 44h4v4h-4zM104 44h4v4h-4zM52 48h4v4h-4zM108 48h4v4h-4zM48 52h4v4h-4zM112 52h4v4h-4zM52 56h4v4h-4zM116 56h4v4h-4zM52 60h4v4h-4zM116 60h4v4h-4zM48 64h4v4h-4zM120 64h4v4h-4zM48 68h4v4h-4zM124 68h4v4h-4zM44 72h4v4h-4zM128 72h4v4h-4zM44 76h4v4h-4zM128 76h4v4h-4zM44 80h4v4h-4zM128 80h4v4h-4zM128 92h4v4h-4zM128 96h4v4h-4zM124 100h4v4h-4zM120 104h4v4h-4zM116 108h4v4h-4z"/><path fill="#ffff84" d="M68 40h8v4h-8zM88 40h8v4h-8zM56 44h8v4h-8zM100 44h4v4h-4zM56 48h4v4h-4zM104 48h4v4h-4zM52 52h4v4h-4zM108 52h4v4h-4zM112 56h4v4h-4zM52 64h4v4h-4zM116 64h4v4h-4zM52 68h4v4h-4zM120 68h4v4h-4zM48 72h4v4h-4zM124 72h4v4h-4zM44 84h4v4h-4zM128 84h4v4h-4zM44 88h4v4h-4zM128 88h4v4h-4zM124 96h4v4h-4zM120 100h4v4h-4zM116 104h4v4h-4zM112 108h4v4h-4z"/><path fill="#ffff7a" d="M76 40h12v4h-12zM64 44h4v4h-4zM96 44h4v4h-4zM56 52h4v4h-4zM104 52h4v4h-4zM56 56h4v4h-4zM108 56h4v4h-4zM56 60h4v4h-4zM112 60h4v4h-4zM56 64h4v4h-4zM52 72h4v4h-4zM120 72h4v4h-4zM48 76h4v4h-4zM124 76h4v4h-4zM48 80h4v4h-4zM124 80h4v4h-4zM48 84h4v4h-4zM124 84h4v4h-4zM48 88h4v4h-4zM124 88h4v4h-4zM48 92h4v4h-4zM124 92h4v4h-4zM108 108h4v4h-4z"/><path fill="#ffff70" d="M68 44h4v4h-4zM88 44h8v4h-8zM60 48h4v4h-4zM100 48h4v4h-4zM60 52h4v4h-4zM100 52h4v4h-4zM60 56h4v4h-4zM104 56h4v4h-4zM60 60h4v4h-4zM108 60h4v4h-4zM60 64h4v4h-4zM112 64h4v4h-4zM56 68h4v4h-4zM116 68h4v4h-4zM52 76h4v4h-4zM120 76h4v4h-4zM120 96h4v4h-4zM116 100h4v4h-4zM112 104h4v4h-4zM104 108h4v4h-4z"/><path fill="#ffff66" d="M72 44h16v4h-16zM64 48h4v4h-4zM92 48h8v4h-8zM64 52h4v4h-4zM96 52h4v4h-4zM64 56h4v4h-4zM100 56h4v4h-4zM64 60h4v4h-4zM104 60h4v4h-4zM108 64h4v4h-4zM112 68h4v4h-4zM56 72h4v4h-4zM116 72h4v4h-4zM52 80h4v4h-4zM120 80h4v4h-4zM52 84h4v4h-4zM120 84h4v4h-4zM52 88h4v4h-4zM120 88h4v4h-4zM52 92h4v4h-4zM120 92h4v4h-4zM56 96h4v4h-4zM116 96h4v4h-4zM108 104h4v4h-4zM100 108h4v4h-4z"/><path fill="#ffff5b" d="M68 48h8v4h-8zM88 48h4v4h-4zM68 52h4v4h-4zM92 52h4v4h-4zM68 56h4v4h-4zM96 56h4v4h-4zM68 60h4v4h-4zM100 60h4v4h-4zM64 64h4v4h-4zM60 68h4v4h-4zM56 76h4v4h-4zM116 76h4v4h-4zM112 100h4v4h-4zM96 108h4v4h-4z"/><path fill="#ffff51" d="M76 48h12v4h-12zM72 52h8v4h-8zM84 52h8v4h-8zM72 56h4v4h-4zM92 56h4v4h-4zM72 60h4v4h-4zM96 60h4v4h-4zM68 64h4v4h-4zM104 64h4v4h-4zM64 68h4v4h-4zM108 68h4v4h-4zM60 72h4v4h-4zM112 72h4v4h-4zM56 80h4v4h-4zM116 80h4v4h-4zM56 88h4v4h-4zM116 88h4v4h-4zM56 92h4v4h-4zM116 92h4v4h-4zM104 104h4v4h-4zM88 108h8v4h-8z"/><path fill="#ffff47" d="M80 52h4v4h-4zM76 56h16v4h-16zM76 60h4v4h-4zM92 60h4v4h-4zM72 64h4v4h-4zM100 64h4v4h-4zM56 84h4v4h-4zM116 84h4v4h-4zM60 96h4v4h-4zM112 96h4v4h-4zM64 100h4v4h-4zM108 100h4v4h-4zM100 104h4v4h-4z"/><path fill="#ffff3d" d="M80 60h12v4h-12zM96 64h4v4h-4zM68 68h4v4h-4zM104 68h4v4h-4zM64 72h4v4h-4zM108 72h4v4h-4zM60 76h4v4h-4zM112 76h4v4h-4zM60 92h4v4h-4zM112 92h4v4h-4zM76 104h4v4h-4zM96 104h4v4h-4z"/><path fill="#ffff32" d="M76 64h8v4h-8zM92 64h4v4h-4zM60 80h4v4h-4zM112 80h4v4h-4zM60 84h4v4h-4zM112 84h4v4h-4zM60 88h4v4h-4zM112 88h4v4h-4zM64 96h4v4h-4zM108 96h4v4h-4zM68 100h4v4h-4zM104 100h4v4h-4zM80 104h4v4h-4zM92 104h4v4h-4z"/><path fill="#ffff28" d="M84 64h8v4h-8zM72 68h4v4h-4zM100 68h4v4h-4zM104 72h4v4h-4zM64 76h4v4h-4zM108 76h4v4h-4zM72 100h4v4h-4zM100 100h4v4h-4zM84 104h8v4h-8z"/><path fill="#ffff1e" d="M76 68h4v4h-4zM96 68h4v4h-4zM68 72h4v4h-4zM64 92h4v4h-4zM108 92h4v4h-4zM68 96h4v4h-4zM104 96h4v4h-4z"/><path fill="#ffff14" d="M80 68h4v4h-4zM92 68h4v4h-4zM64 80h4v4h-4zM108 80h4v4h-4zM64 84h4v4h-4zM108 84h4v4h-4zM64 88h4v4h-4zM108 88h4v4h-4zM76 100h4v4h-4zM96 100h4v4h-4z"/><path fill="#ffff0a" d="M84 68h8v4h-8zM72 72h4v4h-4zM100 72h4v4h-4zM68 76h4v4h-4zM104 76h4v4h-4zM80 100h4v4h-4zM92 100h4v4h-4z"/><path fill="#ffff00" d="M68 92h4v4h-4zM104 92h4v4h-4zM72 96h4v4h-4zM100 96h4v4h-4zM84 100h8v4h-8z"/><path fill="#fff600" d="M76 72h4v4h-4zM96 72h4v4h-4zM68 80h4v4h-4zM104 80h4v4h-4zM68 88h4v4h-4zM104 88h4v4h-4z"/><path fill="#ffed00" d="M80 72h4v4h-4zM92 72h4v4h-4zM72 76h4v4h-4zM100 76h4v4h-4zM68 84h4v4h-4zM104 84h4v4h-4zM76 96h4v4h-4zM96 96h4v4h-4z"/><path fill="#ffe500" d="M84 72h8v4h-8zM72 92h4v4h-4zM100 92h4v4h-4z"/><path fill="#ffdc00" d="M76 76h4v4h-4zM96 76h4v4h-4zM72 80h4v4h-4zM100 80h4v4h-4zM80 96h16v4h-16z"/><path fill="#ffd400" d="M72 84h4v4h-4zM100 84h4v4h-4zM72 88h4v4h-4zM100 88h4v4h-4zM76 92h4v4h-4zM96 92h4v4h-4z"/><path fill="#ffcb00" d="M80 76h4v4h-4zM92 76h4v4h-4z"/><path fill="#ffc200" d="M84 76h8v4h-8zM76 80h4v4h-4zM96 80h4v4h-4zM80 92h4v4h-4zM92 92h4v4h-4z"/><path fill="#ffba00" d="M76 84h4v4h-4zM96 84h4v4h-4zM76 88h4v4h-4zM96 88h4v4h-4z"/><path fill="#ffb100" d="M80 80h4v4h-4zM92 80h4v4h-4zM84 92h8v4h-8z"/><path fill="#ffa800" d="M80 88h4v4h-4zM92 88h4v4h-4z"/><path fill="#ffa000" d="M84 80h8v4h-8zM80 84h4v4h-4zM92 84h4v4h-4z"/><path fill="#ff9700" d="M84 84h8v4h-8zM84 88h8v4h-8z"/></g></g><path d="M111.2,86 C111.5,86.5 112.4,87.9 112.5,88.9 C112.6,89.9 112.6,91 111.9,91.8 C111.2,92.7 108.9,92.9 108.2,93.8 C107.6,94.7 108.7,96.4 108.1,97.2 C107.4,98.1 105.6,98.4 104.3,98.8 C103,99.2 101.4,99.1 100.2,99.6 C99,100.2 98.4,101.4 97.2,101.9 C96,102.3 94.5,102.3 93.1,102.4 C91.7,102.4 90.3,102.4 89,102.3 C87.7,102.2 86.4,102 85,101.8 C83.7,101.7 82.2,101.8 81,101.4 C79.8,101.1 78.9,100.2 77.7,99.7 C76.5,99.3 74.7,99.4 73.7,98.8 C72.7,98.2 72.4,97.1 71.4,96.4 C70.4,95.7 68.5,95.4 67.8,94.6 C67,93.8 67.1,92.6 66.8,91.7 C66.6,90.7 66.6,89.8 66.3,88.8 C65.9,87.9 64.8,87 64.5,86 C64.3,85 64.3,83.9 64.8,83 C65.4,82.1 67.1,81.4 67.7,80.6 C68.3,79.7 68,78.6 68.6,77.7 C69.2,76.9 70.5,76.4 71.4,75.6 C72.2,74.8 72.4,73.6 73.5,73 C74.6,72.5 76.5,72.7 77.7,72.3 C79,72 80.1,71.5 81.2,71 C82.4,70.6 83.6,69.8 84.9,69.6 C86.2,69.4 87.7,69.6 89,69.8 C90.3,69.9 91.5,70.3 92.9,70.3 C94.4,70.3 96.2,69.4 97.5,69.6 C98.8,69.9 99.6,71.2 100.6,71.8 C101.7,72.5 102.7,73.1 103.6,73.8 C104.5,74.4 105.1,75.3 106.1,75.9 C107,76.6 108.6,77 109.5,77.7 C110.4,78.4 110.8,79.4 111.5,80.3 C112.1,81.1 113.3,82 113.3,83 C113.2,84 111.6,85.5 111.2,86" fill="none" stroke="#000" stroke-width="0.8"/><use href="#lines"/><path d="M26.2,100.6h1.2v1.2h-1.2zM40.9,83.1h1.7v1.2h-1.7zM45,79.4h1.2v1.2h-1.2zM31,90.8h1.7v1.2h-1.7zM36.8,80.1h1.7v1.2h-1.7zM34.9,85.2h1.2v1.2h-1.2zM26.1,96.5h1.7v1.2h-1.7zM33.7,88.7h1.2v1.2h-1.2zM44.2,74.5h1.2v1.2h-1.2zM31.5,88.1h1.7v1.2h-1.7zM25.1,103.2h1.2v1.2h-1.2zM31.7,88.7h1.7v1.2h-1.7zM29.3,95.2h1.2v1.2h-1.2zM34.1,90.2h1.7v1.2h-1.7zM31.4,96.1h1.2v1.2h-1.2zM26.9,94.3h1.7v1.2h-1.7zM25.2,104.3h1.7v1.2h-1.7zM30.3,94.8h1.2v1.2h-1.2zM28.5,104.7h1.2v1.2h-1.2zM43.9,77.2h1.2v1.2h-1.2zM33.4,94.2h1.7v1.2h-1.7zM33.1,89.8h1.2v1.2h-1.2zM42.8,77.9h1.7v1.2h-1.7zM42.2,78.8h1.2v1.2h-1.2zM34.2,85.3h1.7v1.2h-1.7zM30.6,94.8h1.2v1.2h-1.2zM28.6,94.6h1.2v1.2h-1.2zM26.8,88.3h1.7v1.2h-1.7zM35.2,89h1.7v1.2h-1.7zM25.8,104.7h1.2v1.2h-1.2zM39.4,82.8h1.7v1.2h-1.7zM37.8,82.6h1.2v1.2h-1.2zM38.9,77.4h1.7v1.2h-1.7zM48,70.6h1.2v1.2h-1.2zM50,63.3h1.7v1.2h-1.7zM54.4,55.5h1.2v1.2h-1.2zM50.6,71.3h1.2v1.2h-1.2zM54.8,58.8h1.2v1.2h-1.2zM55,60.8h1.7v1.2h-1.7zM47,62.3h1.7v1.2h-1.7zM48.8,64.3h1.2v1.2h-1.2zM50.3,63.2h1.7v1.2h-1.7zM58.5,56.5h1.2v1.2h-1.2zM45.1,65.7h1.2v1.2h-1.2zM56.7,57.8h1.7v1.2h-1.7zM95.9,49.9h1.2v1.2h-1.2zM93.5,54.2h1.2v1.2h-1.2zM80.8,58.3h1.2v1.2h-1.2zM106,45.4h1.2v1.2h-1.2zM72.8,55.6h1.2v1.2h-1.2zM70.1,48.9h1.2v1.2h-1.2zM63.4,57h1.2v1.2h-1.2zM95.7,52.8h1.2v1.2h-1.2zM61.1,54.2h1.7v1.2h-1.7zM65.2,56.9h1.7v1.2h-1.7zM91.6,57.4h1.7v1.2h-1.7zM59,53.9h1.7v1.2h-1.7zM93.4,48.9h1.2v1.2h-1.2zM105.8,44.7h1.2v1.2h-1.2zM69.2,53.1h1.2v1.2h-1.2zM61.1,54.5h1.7v1.2h-1.7zM94.9,51.5h1.2v1.2h-1.2zM71.9,53.4h1.2v1.2h-1.2zM70.7,54.9h1.2v1.2h-1.2zM105,45h1.7v1.2h-1.7zM93.7,51.5h1.7v1.2h-1.7zM103.7,47.3h1.2v1.2h-1.2zM103.8,46.9h1.2v1.2h-1.2zM65.9,53.8h1.2v1.2h-1.2zM69.1,52.1h1.2v1.2h-1.2zM83.7,58.3h1.7v1.2h-1.7zM82.6,53.2h1.7v1.2h-1.7zM102.9,46h1.7v1.2h-1.7zM101.3,50.7h1.2v1.2h-1.2zM103.6,50.4h1.2v1.2h-1.2zM106.5,46.9h1.7v1.2h-1.7zM60.7,57.8h1.2v1.2h-1.2zM109.5,45.7h1.2v1.2h-1.2zM105,46.1h1.7v1.2h-1.7zM80.8,58.7h1.2v1.2h-1.2zM76.5,55.4h1.2v1.2h-1.2zM73.8,54.9h1.2v1.2h-1.2zM76.7,58h1.7v1.2h-1.7zM109.4,47.2h1.7v1.2h-1.7zM98.7,50h1.7v1.2h-1.7zM127.4,25.8h1.2v1.2h-1.2zM109.2,40.9h1.7v1.2h-1.7zM125.3,28.3h1.7v1.2h-1.7zM126.9,23.2h1.7v1.2h-1.7zM124.5,31.6h1.2v1.2h-1.2zM121.1,36.9h1.2v1.2h-1.2zM122.7,30.4h1.2v1.2h-1.2zM107.8,43.4h1.2v1.2h-1.2zM23.9,109.8h1.7v1.2h-1.7z" fill="#00ffff"/><g fill="none" stroke="#000" stroke-width="0.75"><circle cx="64.8" cy="31.7" r="4.5"/><circle cx="61.8" cy="41.1" r="4.5"/><circle cx="59.7" cy="51.2" r="3"/><circle cx="56.8" cy="60" r="3"/><circle cx="54.8" cy="68.4" r="3"/><circle cx="51.3" cy="77.7" r="3"/><circle cx="48.8" cy="85.9" r="4.5"/><circle cx="45.8" cy="94.6" r="4.5"/><circle cx="78" cy="36.4" r="3.5"/><circle cx="76" cy="46.7" r="3"/><circle cx="73.2" cy="56.3" r="3"/><circle cx="69.3" cy="65" r="3"/><circle cx="67.1" cy="74.1" r="3"/><circle cx="63.9" cy="83.6" r="3"/><circle cx="61.7" cy="92.3" r="3"/><circle cx="59.7" cy="99.2" r="5"/><circle cx="91.3" cy="40.3" r="3.5"/><circle cx="88.8" cy="51" r="3"/><circle cx="85.8" cy="60.5" r="3"/><circle cx="82.7" cy="69.8" r="3"/><circle cx="81.4" cy="80.2" r="3"/><circle cx="80.1" cy="90.2" r="3"/><circle cx="75.1" cy="98.9" r="3"/><circle cx="72.2" cy="105.7" r="3"/><circle cx="104.3" cy="44.4" r="3.5"/><circle cx="102.5" cy="54.7" r="3"/><circle cx="100.1" cy="64" r="3"/><circle cx="98" cy="74.1" r="3"/><circle cx="95.6" cy="85.3" r="3"/><circle cx="92.4" cy="95.8" r="3"/><circle cx="87.3" cy="103.5" r="3"/><circle cx="86.4" cy="109.8" r="3"/><circle cx="119.5" cy="48.5" r="3.5"/><circle cx="116.4" cy="57.9" r="3.2"/><circle cx="115" cy="67" r="3"/><circle cx="111.2" cy="77.4" r="3"/><circle cx="107.8" cy="87.9" r="3"/><circle cx="106.8" cy="97.2" r="3"/><circle cx="103.1" cy="105.3" r="3"/><circle cx="100.6" cy="111.4" r="5"/><circle cx="132.9" cy="53.5" r="3.5"/><circle cx="130.4" cy="62.4" r="3.2"/><circle cx="127.3" cy="71.7" r="3.2"/><circle cx="124.7" cy="81.1" r="3"/><circle cx="122.6" cy="90.3" r="3"/><circle cx="119.1" cy="99.2" r="3"/><circle cx="116.9" cy="107.3" r="3"/><circle cx="114" cy="114.7" r="5"/><circle cx="146.1" cy="57.6" r="3.5"/><circle cx="143.7" cy="66.4" r="3.2"/><circle cx="141.2" cy="75.3" r="3.2"/><circle cx="138" cy="84.5" r="3.2"/><circle cx="135.4" cy="93.4" r="3.2"/><circle cx="133" cy="102" r="3.2"/><circle cx="130.3" cy="110.6" r="4.3"/><circle cx="127" cy="118.8" r="5"/><circle cx="157.7" cy="65" r="3.5"/><circle cx="154.9" cy="73.4" r="3.9"/><circle cx="152.4" cy="81.8" r="3.9"/><circle cx="150.2" cy="90.1" r="3.9"/><circle cx="147.8" cy="98.4" r="3.9"/><circle cx="145.2" cy="106.6" r="3.9"/><circle cx="142.6" cy="114.5" r="3.9"/><circle cx="140.4" cy="122.6" r="5"/></g><path d="M64.3,31.2h1v1h-1zM61.3,40.6h1v1h-1zM59,48L59.7,51.2M59.7,51.2L57.5,48.7L60.7,48.1zM56.3,56.9L56.8,60M56.8,60L54.8,57.5L57.9,57zM53.5,65.7L54.8,68.4M54.8,68.4L52.2,66.7L55.1,65.3zM50.8,74.6L51.3,77.7M51.3,77.7L49.3,75.2L52.4,74.7zM48,83.4L48.8,85.9M48.8,85.9L46.5,84L49.6,83.1zM45.3,92.3L45.8,94.6M45.8,94.6L43.7,92.6L46.9,92zM77.5,35.9h1v1h-1zM75.1,43.3L76,46.7M76,46.7L73.7,44.2L76.8,43.4zM72.4,52.1L73.2,56.3M73.2,56.3L71,53.3L74.1,52.7zM69.7,60.8L69.3,65M69.3,65L68,61.6L71.2,61.8zM66.9,69.6L67.1,74.1M67.1,74.1L65.4,70.9L68.6,70.8zM64.2,78.3L63.9,83.6M63.9,83.6L62.5,80.2L65.7,80.4zM61.5,87.1L61.7,92.3M61.7,92.3L60,89L63.2,88.9zM58.8,95.8L59.7,99.2M59.7,99.2L57.4,96.7L60.5,95.9zM90.8,39.8h1v1h-1zM88.2,47.1L88.8,51M88.8,51L86.8,48L89.9,47.5zM85.6,55.9L85.8,60.5M85.8,60.5L84,57.3L87.2,57.1zM82.9,64.7L82.7,69.8M82.7,69.8L81.2,66.5L84.4,66.6zM80.2,73.5L81.4,80.2M81.4,80.2L79.2,77.2L82.4,76.6zM77.5,82.3L80.1,90.2M80.1,90.2L77.6,87.5L80.6,86.5zM74.9,91.1L75.1,98.9M75.1,98.9L73.4,95.6L76.6,95.5zM72.2,99.9L72.2,105.7M72.2,105.7L70.6,102.4L73.8,102.4zM103.8,43.9h1v1h-1zM101.9,51.1L102.5,54.7M102.5,54.7L100.4,51.9L103.5,51.4zM99.2,59.9L100.1,64M100.1,64L97.8,61.1L101,60.5zM96.6,68.7L98,74.1M98,74.1L95.6,71.3L98.7,70.5zM93.9,77.5L95.6,85.3M95.6,85.3L93.3,82.4L96.5,81.7zM91.3,86.3L92.4,95.8M92.4,95.8L90.4,92.8L93.6,92.4zM88.6,95.1L87.3,103.5M87.3,103.5L86.3,100L89.4,100.5zM86,103.9L86.4,109.8M86.4,109.8L84.6,106.6L87.8,106.4zM118.9,46.3L119.5,48.5M119.5,48.5L117.4,46.7L120.5,45.9zM116.1,55.1L116.4,57.9M116.4,57.9L114.6,55.5L117.8,55.2zM113.4,63.9L115,67M115,67L112.2,65.1L115,63.6zM110.6,72.7L111.2,77.4M111.2,77.4L109.2,74.4L112.4,74zM107.9,81.6L107.8,87.9M107.8,87.9L106.2,84.6L109.4,84.6zM105.1,90.4L106.8,97.2M106.8,97.2L104.5,94.4L107.6,93.6zM102.4,99.2L103.1,105.3M103.1,105.3L101.1,102.2L104.3,101.8zM99.6,108L100.6,111.4M100.6,111.4L98.2,109L101.3,108zM132.4,53h1v1h-1zM129.6,60.3L130.4,62.4M130.4,62.4L128.1,60.8L131.2,59.8zM126.9,69L127.3,71.7M127.3,71.7L125.3,69.5L128.5,68.9zM124.1,77.7L124.7,81.1M124.7,81.1L122.6,78.5L125.8,77.9zM121.4,86.4L122.6,90.3M122.6,90.3L120.1,87.6L123.1,86.6zM118.6,95.1L119.1,99.2M119.1,99.2L117.1,96.2L120.3,95.8zM115.9,103.8L116.9,107.3M116.9,107.3L114.5,104.8L117.6,103.9zM113.1,112.5L114,114.7M114,114.7L111.6,113.1L114.6,111.9zM145.6,57.1h1v1h-1zM143.2,65.9h1v1h-1zM140.7,74.8h1v1h-1zM137.8,82.1L138,84.5M138,84.5L136.2,82.3L139.4,81.9zM135,90.8L135.4,93.4M135.4,93.4L133.5,91.2L136.6,90.7zM132.3,99.6L133,102M133,102L130.8,100.1L133.9,99.3zM129.6,108.3L130.3,110.6M130.3,110.6L128.1,108.8L131.2,107.9zM126.5,118.3h1v1h-1zM157.2,64.5h1v1h-1zM154.4,72.9h1v1h-1zM151.9,81.3h1v1h-1zM149.7,89.6h1v1h-1zM147.3,97.9h1v1h-1zM144.7,106.1h1v1h-1zM142.1,114h1v1h-1zM139.9,122.1h1v1h-1z" fill="#000" stroke="#000" stroke-width="0.95"/><polygon points="58.9,23.4 147,51.3 155,54.6 160.5,58.3 165.1,63.6 145.6,127.2 38.4,95.2" fill="none" stroke="#222" stroke-width="0.7"/><use href="#trench"/></g><rect x="26.6" y="18.4" width="155.2" height="118.3" fill="none" stroke="#000" stroke-width="1.2"/><path d="M72.3,136.7v5M130.2,136.7v5M26.6,60.5h-5M26.6,129.8h-5" stroke="#000" stroke-width="0.8"/><text x="29.3" y="31.8" font-size="16.6">(i)</text><text x="49.3" y="132.6" font-size="9.8">2016.0-2016.5</text></g>
<g transform="translate(159,253.5)"><g clip-path="url(#cf)"><rect x="26.6" y="18.4" width="155.2" height="118.3" fill="#fff"/><polygon points="58.9,23.4 147,51.3 155,54.6 160.5,58.3 165.1,63.6 145.6,127.2 38.4,95.2" fill="#b9b9b9"/><g clip-path="url(#ci9)"><g filter="url(#bl)"><path fill="#ffffd6" d="M136 44h4v4h-4zM140 48h16v4h-16zM144 52h20v4h-20zM144 56h24v4h-24zM148 60h20v4h-20zM148 64h20v4h-20zM148 68h20v4h-20zM152 72h16v4h-16zM152 76h12v4h-12zM152 80h12v4h-12zM152 84h12v4h-12zM148 88h12v4h-12zM148 92h12v4h-12zM144 96h12v4h-12zM144 100h12v4h-12zM140 104h12v4h-12zM136 108h12v4h-12zM132 112h8v4h-8z"/><path fill="#ffffcc" d="M116 40h8v4h-8zM124 44h12v4h-12zM128 48h12v4h-12zM132 52h12v4h-12zM132 56h12v4h-12zM136 60h12v4h-12zM136 64h12v4h-12zM140 68h8v4h-8zM140 72h12v4h-12zM140 76h12v4h-12zM140 80h12v4h-12zM140 84h12v4h-12zM136 88h12v4h-12zM136 92h12v4h-12zM132 96h12v4h-12zM132 100h12v4h-12zM128 104h12v4h-12zM124 108h12v4h-12zM120 112h12v4h-12z"/><path fill="#ffffc1" d="M104 36h4v4h-4zM108 40h8v4h-8zM116 44h8v4h-8zM120 48h8v4h-8zM124 52h8v4h-8zM128 56h4v4h-4zM128 60h8v4h-8zM132 64h4v4h-4zM132 68h8v4h-8zM132 72h8v4h-8zM132 76h8v4h-8zM132 80h8v4h-8zM132 84h8v4h-8zM132 88h4v4h-4zM128 92h8v4h-8zM128 96h4v4h-4zM124 100h8v4h-8zM120 104h8v4h-8zM112 108h12v4h-12z"/><path fill="#ffffb7" d="M100 36h4v4h-4zM104 40h4v4h-4zM108 44h8v4h-8zM112 48h8v4h-8zM116 52h8v4h-8zM120 56h8v4h-8zM124 60h4v4h-4zM128 64h4v4h-4zM128 68h4v4h-4zM128 72h4v4h-4zM128 76h4v4h-4zM128 80h4v4h-4zM128 84h4v4h-4zM128 88h4v4h-4zM124 92h4v4h-4zM120 96h8v4h-8zM116 100h8v4h-8zM112 104h8v4h-8zM104 108h8v4h-8z"/><path fill="#ffffad" d="M84 32h8v4h-8zM92 36h8v4h-8zM100 40h4v4h-4zM104 44h4v4h-4zM108 48h4v4h-4zM112 52h4v4h-4zM116 56h4v4h-4zM120 60h4v4h-4zM44 64h4v4h-4zM124 64h4v4h-4zM44 68h4v4h-4zM124 68h4v4h-4zM124 72h4v4h-4zM124 80h4v4h-4zM44 84h4v4h-4zM124 84h4v4h-4zM44 88h4v4h-4zM124 88h4v4h-4zM48 92h4v4h-4zM120 92h4v4h-4zM116 96h4v4h-4zM112 100h4v4h-4zM104 104h8v4h-8zM88 108h16v4h-16z"/><path fill="#ffffa3" d="M60 32h24v4h-24zM88 36h4v4h-4zM96 40h4v4h-4zM100 44h4v4h-4zM104 48h4v4h-4zM108 52h4v4h-4zM48 56h4v4h-4zM112 56h4v4h-4zM48 60h4v4h-4zM116 60h4v4h-4zM48 64h4v4h-4zM120 64h4v4h-4zM120 68h4v4h-4zM44 72h4v4h-4zM44 76h4v4h-4zM124 76h4v4h-4zM44 80h4v4h-4zM48 88h4v4h-4zM120 88h4v4h-4zM116 92h4v4h-4zM112 96h4v4h-4zM108 100h4v4h-4zM96 104h8v4h-8z"/><path fill="#ffff99" d="M56 36h4v4h-4zM84 36h4v4h-4zM92 40h4v4h-4zM96 44h4v4h-4zM48 48h4v4h-4zM100 48h4v4h-4zM48 52h4v4h-4zM104 52h4v4h-4zM52 56h4v4h-4zM108 56h4v4h-4zM52 60h4v4h-4zM112 60h4v4h-4zM116 64h4v4h-4zM48 68h4v4h-4zM48 72h4v4h-4zM120 72h4v4h-4zM48 76h4v4h-4zM120 76h4v4h-4zM48 80h4v4h-4zM120 80h4v4h-4zM48 84h4v4h-4zM120 84h4v4h-4zM116 88h4v4h-4zM52 92h4v4h-4zM56 96h4v4h-4zM108 96h4v4h-4zM64 100h4v4h-4zM104 100h4v4h-4zM76 104h20v4h-20z"/><path fill="#ffff8e" d="M60 36h4v4h-4zM80 36h4v4h-4zM88 40h4v4h-4zM92 44h4v4h-4zM96 48h4v4h-4zM52 52h4v4h-4zM100 52h4v4h-4zM104 56h4v4h-4zM52 64h4v4h-4zM112 64h4v4h-4zM52 68h4v4h-4zM116 68h4v4h-4zM116 72h4v4h-4zM52 84h4v4h-4zM116 84h4v4h-4zM52 88h4v4h-4zM56 92h4v4h-4zM112 92h4v4h-4zM60 96h4v4h-4zM68 100h4v4h-4zM96 100h8v4h-8z"/><path fill="#ffff84" d="M64 36h16v4h-16zM56 40h4v4h-4zM84 40h4v4h-4zM52 44h4v4h-4zM52 48h4v4h-4zM92 48h4v4h-4zM56 52h4v4h-4zM96 52h4v4h-4zM56 56h4v4h-4zM56 60h4v4h-4zM108 60h4v4h-4zM56 64h4v4h-4zM52 72h4v4h-4zM52 76h4v4h-4zM116 76h4v4h-4zM52 80h4v4h-4zM116 80h4v4h-4zM56 88h4v4h-4zM112 88h4v4h-4zM60 92h4v4h-4zM108 92h4v4h-4zM64 96h4v4h-4zM104 96h4v4h-4zM72 100h12v4h-12zM88 100h8v4h-8z"/><path fill="#ffff7a" d="M60 40h4v4h-4zM80 40h4v4h-4zM56 44h4v4h-4zM88 44h4v4h-4zM56 48h4v4h-4zM92 52h4v4h-4zM60 56h4v4h-4zM100 56h4v4h-4zM60 60h4v4h-4zM104 60h4v4h-4zM108 64h4v4h-4zM56 68h4v4h-4zM112 68h4v4h-4zM112 72h4v4h-4zM112 80h4v4h-4zM56 84h4v4h-4zM112 84h4v4h-4zM68 96h4v4h-4zM100 96h4v4h-4zM84 100h4v4h-4z"/><path fill="#ffff70" d="M64 40h4v4h-4zM76 40h4v4h-4zM84 44h4v4h-4zM60 48h4v4h-4zM88 48h4v4h-4zM60 52h4v4h-4zM88 52h4v4h-4zM64 56h4v4h-4zM96 56h4v4h-4zM64 60h4v4h-4zM100 60h4v4h-4zM60 64h4v4h-4zM108 68h4v4h-4zM56 72h4v4h-4zM56 76h4v4h-4zM112 76h4v4h-4zM56 80h4v4h-4zM60 88h4v4h-4zM108 88h4v4h-4zM64 92h4v4h-4zM104 92h4v4h-4zM72 96h4v4h-4zM96 96h4v4h-4z"/><path fill="#ffff66" d="M68 40h8v4h-8zM60 44h8v4h-8zM80 44h4v4h-4zM64 48h4v4h-4zM84 48h4v4h-4zM64 52h4v4h-4zM84 52h4v4h-4zM68 56h4v4h-4zM92 56h4v4h-4zM64 64h4v4h-4zM104 64h4v4h-4zM60 68h4v4h-4zM108 72h4v4h-4zM60 84h4v4h-4zM108 84h4v4h-4zM104 88h4v4h-4zM68 92h4v4h-4zM100 92h4v4h-4zM76 96h20v4h-20z"/><path fill="#ffff5b" d="M68 44h12v4h-12zM68 48h16v4h-16zM68 52h16v4h-16zM72 56h8v4h-8zM84 56h8v4h-8zM68 60h4v4h-4zM96 60h4v4h-4zM100 64h4v4h-4zM104 68h4v4h-4zM60 72h4v4h-4zM60 76h4v4h-4zM108 76h4v4h-4zM60 80h4v4h-4zM108 80h4v4h-4zM64 88h4v4h-4zM72 92h4v4h-4zM96 92h4v4h-4z"/><path fill="#ffff51" d="M80 56h4v4h-4zM72 60h4v4h-4zM92 60h4v4h-4zM68 64h4v4h-4zM64 68h4v4h-4zM104 72h4v4h-4zM64 84h4v4h-4zM104 84h4v4h-4zM68 88h4v4h-4zM100 88h4v4h-4zM76 92h4v4h-4zM92 92h4v4h-4z"/><path fill="#ffff47" d="M76 60h16v4h-16zM72 64h4v4h-4zM96 64h4v4h-4zM100 68h4v4h-4zM64 72h4v4h-4zM64 76h4v4h-4zM104 76h4v4h-4zM64 80h4v4h-4zM104 80h4v4h-4zM80 92h12v4h-12z"/><path fill="#ffff3d" d="M76 64h4v4h-4zM92 64h4v4h-4zM68 68h4v4h-4zM68 84h4v4h-4zM100 84h4v4h-4zM72 88h4v4h-4zM96 88h4v4h-4z"/><path fill="#ffff32" d="M80 64h12v4h-12zM72 68h4v4h-4zM96 68h4v4h-4zM68 72h4v4h-4zM100 72h4v4h-4zM68 76h4v4h-4zM100 76h4v4h-4zM68 80h4v4h-4zM100 80h4v4h-4zM76 88h4v4h-4zM92 88h4v4h-4z"/><path fill="#ffff28" d="M76 68h4v4h-4zM92 68h4v4h-4zM96 72h4v4h-4zM72 84h4v4h-4zM96 84h4v4h-4zM80 88h12v4h-12z"/><path fill="#ffff1e" d="M80 68h12v4h-12zM72 72h4v4h-4zM72 76h4v4h-4zM96 76h4v4h-4zM72 80h4v4h-4zM96 80h4v4h-4zM76 84h4v4h-4zM92 84h4v4h-4z"/><path fill="#ffff14" d="M76 72h4v4h-4zM92 72h4v4h-4zM76 80h4v4h-4zM92 80h4v4h-4zM80 84h12v4h-12z"/><path fill="#ffff0a" d="M80 72h12v4h-12zM76 76h4v4h-4zM92 76h4v4h-4zM80 80h4v4h-4zM88 80h4v4h-4z"/><path fill="#ffff00" d="M80 76h12v4h-12zM84 80h4v4h-4z"/></g></g><use href="#lines"/><path d="M32,87.5h1.7v1.2h-1.7zM30.1,101.2h1.7v1.2h-1.7zM40.8,85.4h1.7v1.2h-1.7zM30,96h1.7v1.2h-1.7zM27.2,99.5h1.2v1.2h-1.2zM30.8,100.1h1.2v1.2h-1.2zM30.7,92.8h1.2v1.2h-1.2zM29.1,93.1h1.2v1.2h-1.2zM28.9,95.9h1.2v1.2h-1.2zM24.3,102.3h1.2v1.2h-1.2zM28.2,90.3h1.2v1.2h-1.2zM37.9,85.6h1.7v1.2h-1.7zM28.6,91.5h1.2v1.2h-1.2zM38.9,71.9h1.2v1.2h-1.2zM31.8,94h1.2v1.2h-1.2zM31.2,92.8h1.2v1.2h-1.2zM28.5,98.6h1.2v1.2h-1.2zM26.9,91.3h1.7v1.2h-1.7zM32.7,87.5h1.2v1.2h-1.2zM26.5,97.9h1.7v1.2h-1.7zM43.3,73.7h1.7v1.2h-1.7zM26,102.1h1.2v1.2h-1.2zM31.2,92.5h1.2v1.2h-1.2zM40.6,82.6h1.7v1.2h-1.7zM32.9,96.9h1.7v1.2h-1.7zM32.8,89h1.2v1.2h-1.2zM28.8,101.1h1.7v1.2h-1.7zM31.7,83.5h1.7v1.2h-1.7zM38.1,90.3h1.2v1.2h-1.2zM25.8,98h1.7v1.2h-1.7zM34.8,86.9h1.2v1.2h-1.2zM39.4,80.7h1.2v1.2h-1.2zM31,96.4h1.2v1.2h-1.2zM41.2,81.4h1.2v1.2h-1.2zM41,80.3h1.7v1.2h-1.7zM36.2,88h1.2v1.2h-1.2zM39,76.9h1.7v1.2h-1.7zM31.7,94.8h1.2v1.2h-1.2zM39.9,79.8h1.2v1.2h-1.2zM32.2,97.2h1.2v1.2h-1.2zM38.4,88.4h1.7v1.2h-1.7zM32.5,93.9h1.7v1.2h-1.7zM44.8,75h1.7v1.2h-1.7zM39.1,81.1h1.2v1.2h-1.2zM32.9,92.7h1.7v1.2h-1.7zM26.5,100.4h1.2v1.2h-1.2zM33,89.1h1.2v1.2h-1.2zM23.3,103.9h1.2v1.2h-1.2zM26.6,103.4h1.2v1.2h-1.2zM32.4,94.4h1.7v1.2h-1.7zM41.1,76.3h1.7v1.2h-1.7zM42,76.1h1.2v1.2h-1.2zM26.8,90.8h1.7v1.2h-1.7zM33.9,87h1.2v1.2h-1.2zM27.7,100.8h1.2v1.2h-1.2zM30.8,93h1.2v1.2h-1.2zM33.7,90h1.2v1.2h-1.2zM38.3,83.7h1.7v1.2h-1.7zM27.8,95.1h1.7v1.2h-1.7zM27.4,100h1.2v1.2h-1.2zM38.3,86h1.7v1.2h-1.7zM28.6,102h1.7v1.2h-1.7zM25.2,92.6h1.7v1.2h-1.7zM33.8,82.1h1.7v1.2h-1.7zM37.7,79.8h1.2v1.2h-1.2zM31.7,94.9h1.2v1.2h-1.2zM28.1,97.8h1.2v1.2h-1.2zM32.4,89.6h1.2v1.2h-1.2zM31.2,89.5h1.2v1.2h-1.2zM24,100h1.2v1.2h-1.2zM25.8,102.5h1.2v1.2h-1.2zM33.2,88.7h1.7v1.2h-1.7zM36.4,88h1.7v1.2h-1.7zM41.6,74.2h1.2v1.2h-1.2zM40,84h1.7v1.2h-1.7zM31.5,95.2h1.2v1.2h-1.2zM38.8,83.7h1.2v1.2h-1.2zM41.9,80.9h1.7v1.2h-1.7zM36.5,94.5h1.7v1.2h-1.7zM44.5,73.9h1.2v1.2h-1.2zM37.1,91.7h1.2v1.2h-1.2zM26.1,93.4h1.7v1.2h-1.7zM34.3,82.5h1.2v1.2h-1.2zM38.2,88.4h1.2v1.2h-1.2zM37,92.8h1.2v1.2h-1.2zM29.5,79.8h1.7v1.2h-1.7zM42,77.2h1.7v1.2h-1.7zM29.6,104.2h1.2v1.2h-1.2zM36.5,86.8h1.2v1.2h-1.2zM32.4,96.6h1.7v1.2h-1.7zM36.2,80.4h1.7v1.2h-1.7zM34.9,83.3h1.2v1.2h-1.2zM46.1,66.9h1.2v1.2h-1.2zM60.8,54.8h1.2v1.2h-1.2zM48.2,64.9h1.7v1.2h-1.7zM45.7,64.2h1.2v1.2h-1.2zM54.2,66.7h1.2v1.2h-1.2zM45,68.2h1.2v1.2h-1.2zM46,64.2h1.7v1.2h-1.7zM56.5,54.6h1.2v1.2h-1.2zM51.6,69.4h1.2v1.2h-1.2zM56,58.8h1.2v1.2h-1.2zM45.3,65.7h1.2v1.2h-1.2zM47.5,67.5h1.7v1.2h-1.7zM48.2,63h1.2v1.2h-1.2zM54.1,56h1.2v1.2h-1.2zM52.7,61.8h1.2v1.2h-1.2zM45.5,64.3h1.2v1.2h-1.2zM44.8,72.7h1.7v1.2h-1.7zM48.4,60.9h1.7v1.2h-1.7zM46.8,66.6h1.7v1.2h-1.7zM46.8,67h1.2v1.2h-1.2zM47,66.1h1.2v1.2h-1.2zM59.9,56.6h1.7v1.2h-1.7zM69.5,55.1h1.7v1.2h-1.7zM104.5,46h1.2v1.2h-1.2zM103.5,49.1h1.7v1.2h-1.7zM92.7,57.5h1.2v1.2h-1.2zM94.5,52h1.2v1.2h-1.2zM95.2,51.4h1.2v1.2h-1.2zM90.1,55.6h1.7v1.2h-1.7zM88.1,54.3h1.2v1.2h-1.2zM96.9,53.2h1.2v1.2h-1.2zM82,56.1h1.7v1.2h-1.7zM106.7,44.5h1.7v1.2h-1.7zM88.3,57.6h1.2v1.2h-1.2zM85.3,53.3h1.2v1.2h-1.2zM89.3,54.3h1.7v1.2h-1.7zM65.4,55.4h1.7v1.2h-1.7zM60.9,50.8h1.2v1.2h-1.2zM81.9,56.1h1.2v1.2h-1.2zM83.8,54.7h1.2v1.2h-1.2zM56.7,54.9h1.2v1.2h-1.2zM100.9,46.2h1.7v1.2h-1.7zM92.6,51h1.7v1.2h-1.7zM92.7,52.5h1.2v1.2h-1.2zM94.3,51.3h1.2v1.2h-1.2zM89.9,54.5h1.7v1.2h-1.7zM87.7,53.1h1.2v1.2h-1.2zM95.3,49.5h1.2v1.2h-1.2zM76.7,56h1.7v1.2h-1.7zM107.3,45.7h1.2v1.2h-1.2zM68.8,54.6h1.7v1.2h-1.7zM86.9,54.4h1.2v1.2h-1.2zM68.1,55h1.7v1.2h-1.7zM108,46.6h1.2v1.2h-1.2zM65.9,58.6h1.2v1.2h-1.2zM70.4,55.3h1.2v1.2h-1.2zM63.1,51.4h1.2v1.2h-1.2zM105.2,48.8h1.7v1.2h-1.7zM80.8,54h1.2v1.2h-1.2zM59.1,53.7h1.2v1.2h-1.2zM98,50.4h1.7v1.2h-1.7zM96.2,52.3h1.7v1.2h-1.7zM98.9,48.3h1.2v1.2h-1.2zM96.1,55.8h1.2v1.2h-1.2zM56.6,55.9h1.7v1.2h-1.7zM67,52h1.2v1.2h-1.2zM111.7,37.3h1.2v1.2h-1.2zM126.9,29.6h1.7v1.2h-1.7zM121.6,30.1h1.7v1.2h-1.7zM109.7,38.9h1.2v1.2h-1.2zM110.2,41.8h1.2v1.2h-1.2zM119.4,33.4h1.7v1.2h-1.7zM122.6,27.1h1.7v1.2h-1.7zM114.7,42.5h1.2v1.2h-1.2zM126.6,26.1h1.7v1.2h-1.7zM124.5,28.8h1.2v1.2h-1.2zM116.3,31.9h1.2v1.2h-1.2zM114.4,39.1h1.7v1.2h-1.7zM108.6,42.9h1.2v1.2h-1.2zM121.2,28.7h1.7v1.2h-1.7zM117.7,40.9h1.7v1.2h-1.7zM115.1,41.6h1.2v1.2h-1.2zM112.3,37.2h1.2v1.2h-1.2zM27.7,102.9h1.2v1.2h-1.2zM25.3,106.9h1.7v1.2h-1.7zM26.2,103.9h1.2v1.2h-1.2z" fill="#00ffff"/><g fill="none" stroke="#000" stroke-width="0.75"><circle cx="65.2" cy="31.5" r="4.5"/><circle cx="62.6" cy="41.5" r="4.5"/><circle cx="60.5" cy="51.2" r="3"/><circle cx="56.5" cy="59.8" r="4.5"/><circle cx="54.5" cy="68.3" r="4.5"/><circle cx="52.2" cy="76.9" r="4.5"/><circle cx="49.1" cy="85.1" r="4.5"/><circle cx="45.7" cy="93.8" r="4.5"/><circle cx="78.5" cy="36.4" r="3.5"/><circle cx="77" cy="46.8" r="3"/><circle cx="73.3" cy="56.2" r="3"/><circle cx="70.7" cy="64.7" r="3"/><circle cx="67.8" cy="73.9" r="3"/><circle cx="65.8" cy="82.5" r="3"/><circle cx="63.2" cy="90.4" r="3"/><circle cx="59.3" cy="97.9" r="5"/><circle cx="91.4" cy="40.2" r="3.5"/><circle cx="89.1" cy="50.5" r="3"/><circle cx="86.8" cy="59.8" r="3"/><circle cx="85.2" cy="69.2" r="3"/><circle cx="83.6" cy="78.6" r="3"/><circle cx="78.3" cy="88.3" r="3"/><circle cx="77" cy="95.4" r="3"/><circle cx="73.3" cy="102.9" r="3"/><circle cx="104.8" cy="43.8" r="3.5"/><circle cx="102.5" cy="53.7" r="3.2"/><circle cx="100.8" cy="63.3" r="3"/><circle cx="98.2" cy="73.6" r="3"/><circle cx="95.1" cy="83.5" r="3"/><circle cx="93.6" cy="91.7" r="3"/><circle cx="91" cy="98.9" r="3"/><circle cx="87.1" cy="106.6" r="3"/><circle cx="119.8" cy="47.6" r="3.5"/><circle cx="116.4" cy="57.2" r="3.2"/><circle cx="114.5" cy="66.6" r="3.2"/><circle cx="112.3" cy="76.2" r="3"/><circle cx="110.5" cy="85.1" r="3"/><circle cx="106.1" cy="94.3" r="3"/><circle cx="103.4" cy="102.1" r="3"/><circle cx="100.2" cy="109.7" r="5"/><circle cx="132.7" cy="52.9" r="3.5"/><circle cx="130.3" cy="61.8" r="3.2"/><circle cx="127.6" cy="70.9" r="3.2"/><circle cx="124.6" cy="80" r="3.2"/><circle cx="122.1" cy="88.8" r="3.2"/><circle cx="119" cy="97.4" r="3.2"/><circle cx="116.7" cy="105.5" r="4.3"/><circle cx="113.6" cy="113.6" r="5"/><circle cx="146.4" cy="56.8" r="3.5"/><circle cx="143.6" cy="65.8" r="3.2"/><circle cx="141" cy="74.6" r="3.2"/><circle cx="138.5" cy="83.4" r="3.2"/><circle cx="135.3" cy="92.3" r="3.2"/><circle cx="132.7" cy="101" r="3.2"/><circle cx="129.9" cy="109.6" r="4.3"/><circle cx="127.5" cy="117.8" r="5"/><circle cx="157.4" cy="64.4" r="3.5"/><circle cx="155.3" cy="72.6" r="3.9"/><circle cx="152.8" cy="80.9" r="3.9"/><circle cx="150.3" cy="89.2" r="3.9"/><circle cx="147.7" cy="97.5" r="3.9"/><circle cx="145.4" cy="105.7" r="3.9"/><circle cx="142.8" cy="113.8" r="3.9"/><circle cx="140.4" cy="122" r="5"/></g><path d="M64.7,31h1v1h-1zM61.8,39.2L62.6,41.5M62.6,41.5L60.3,39.8L63.3,38.7zM59,48L60.5,51.2M60.5,51.2L57.8,49.1L60.7,47.8zM56.3,56.9L56.5,59.8M56.5,59.8L54.7,57.3L57.9,57zM53.5,65.7L54.5,68.3M54.5,68.3L52.1,66.5L55.1,65.3zM50.8,74.6L52.2,76.9M52.2,76.9L49.5,75.6L52.3,73.9zM48.6,84.6h1v1h-1zM45.2,93.3h1v1h-1zM78,35.9h1v1h-1zM75.1,43.3L77,46.8M77,46.8L74,44.7L76.8,43.2zM72.4,52.1L73.3,56.2M73.3,56.2L71,53.3L74.1,52.6zM69.7,60.8L70.7,64.7M70.7,64.7L68.3,61.9L71.4,61.1zM66.9,69.6L67.8,73.9M67.8,73.9L65.6,71L68.7,70.4zM64.2,78.3L65.8,82.5M65.8,82.5L63.2,80L66.1,78.9zM61.5,87.1L63.2,90.4M63.2,90.4L60.3,88.3L63.2,86.9zM58.8,97.4h1v1h-1zM90.9,39.7h1v1h-1zM88.2,47.1L89.1,50.5M89.1,50.5L86.8,48L89.9,47.2zM85.6,55.9L86.8,59.8M86.8,59.8L84.3,57.1L87.3,56.2zM82.9,64.7L85.2,69.2M85.2,69.2L82.2,67L85.1,65.5zM80.2,73.5L83.6,78.6M83.6,78.6L80.4,76.7L83.1,74.9zM77.5,82.3L78.3,88.3M78.3,88.3L76.3,85.2L79.5,84.8zM74.9,91.1L77,95.4M77,95.4L74.1,93.1L77,91.7zM72.2,99.9L73.3,102.9M73.3,102.9L70.8,100.8L73.8,99.7zM104.3,43.3h1v1h-1zM101.9,51.1L102.5,53.7M102.5,53.7L100.4,51.7L103.5,50.9zM99.2,59.9L100.8,63.3M100.8,63.3L98,61.1L100.9,59.8zM96.6,68.7L98.2,73.6M98.2,73.6L95.7,71L98.7,69.9zM93.9,77.5L95.1,83.5M95.1,83.5L92.9,80.6L96,80zM91.3,86.3L93.6,91.7M93.6,91.7L90.8,89.3L93.8,88zM88.6,95.1L91,98.9M91,98.9L87.9,96.9L90.6,95.2zM86,103.9L87.1,106.6M87.1,106.6L84.6,104.8L87.6,103.5zM119.3,47.1h1v1h-1zM115.9,56.7h1v1h-1zM113.4,63.9L114.5,66.6M114.5,66.6L112,64.8L115,63.6zM110.6,72.7L112.3,76.2M112.3,76.2L109.5,74L112.3,72.6zM107.9,81.6L110.5,85.1M110.5,85.1L107.2,83.4L109.8,81.4zM105.1,90.4L106.1,94.3M106.1,94.3L103.7,91.5L106.8,90.7zM102.4,99.2L103.4,102.1M103.4,102.1L101,100.1L104,99zM99.7,109.2h1v1h-1zM132.2,52.4h1v1h-1zM129.8,61.3h1v1h-1zM127.1,70.4h1v1h-1zM124.1,77.7L124.6,80M124.6,80L122.6,78.1L125.7,77.4zM121.4,86.4L122.1,88.8M122.1,88.8L119.9,87L122.9,86.1zM118.6,95.1L119,97.4M119,97.4L117,95.4L120.2,94.9zM116.2,105h1v1h-1zM113.1,113.1h1v1h-1zM145.9,56.3h1v1h-1zM143.1,65.3h1v1h-1zM140.5,74.1h1v1h-1zM138,82.9h1v1h-1zM134.8,91.8h1v1h-1zM132.2,100.5h1v1h-1zM129.4,109.1h1v1h-1zM127,117.3h1v1h-1zM156.9,63.9h1v1h-1zM154.8,72.1h1v1h-1zM152.3,80.4h1v1h-1zM149.8,88.7h1v1h-1zM147.2,97h1v1h-1zM144.9,105.2h1v1h-1zM142.3,113.3h1v1h-1zM139.9,121.5h1v1h-1z" fill="#000" stroke="#000" stroke-width="0.95"/><polygon points="58.9,23.4 147,51.3 155,54.6 160.5,58.3 165.1,63.6 145.6,127.2 38.4,95.2" fill="none" stroke="#222" stroke-width="0.7"/><use href="#trench"/></g><rect x="26.6" y="18.4" width="155.2" height="118.3" fill="none" stroke="#000" stroke-width="1.2"/><path d="M72.3,136.7v5M130.2,136.7v5" stroke="#000" stroke-width="0.8"/><text x="29.3" y="31.8" font-size="16.6">(j)</text><text x="49.3" y="132.6" font-size="9.8">2016.5-2017.0</text></g>
<g transform="translate(318,253.5)"><g clip-path="url(#cf)"><rect x="26.6" y="18.4" width="155.2" height="118.3" fill="#fff"/><polygon points="58.9,23.4 147,51.3 155,54.6 160.5,58.3 165.1,63.6 145.6,127.2 38.4,95.2" fill="#b9b9b9"/><g clip-path="url(#ci10)"><g filter="url(#bl)"><path fill="#ffffc1" d="M108 40h12v4h-12zM108 44h32v4h-32zM104 48h52v4h-52zM104 52h60v4h-60zM100 56h68v4h-68zM96 60h72v4h-72zM88 64h80v4h-80zM84 68h84v4h-84zM104 72h64v4h-64zM116 76h48v4h-48zM120 80h44v4h-44zM124 84h40v4h-40zM128 88h32v4h-32zM128 92h32v4h-32zM124 96h32v4h-32zM120 100h36v4h-36zM116 104h36v4h-36zM104 108h44v4h-44zM120 112h20v4h-20z"/><path fill="#ffffb7" d="M100 36h4v4h-4zM100 40h8v4h-8zM100 44h8v4h-8zM96 48h8v4h-8zM96 52h8v4h-8zM88 56h12v4h-12zM80 60h16v4h-16zM44 64h4v4h-4zM72 64h16v4h-16zM44 68h4v4h-4zM72 68h12v4h-12zM44 72h4v4h-4zM72 72h32v4h-32zM44 76h4v4h-4zM92 76h24v4h-24zM44 80h4v4h-4zM104 80h16v4h-16zM44 84h4v4h-4zM112 84h12v4h-12zM112 88h16v4h-16zM112 92h16v4h-16zM112 96h12v4h-12zM104 100h16v4h-16zM92 104h24v4h-24zM88 108h16v4h-16z"/><path fill="#ffffad" d="M96 36h4v4h-4zM96 40h4v4h-4zM96 44h4v4h-4zM92 48h4v4h-4zM88 52h8v4h-8zM84 56h4v4h-4zM48 60h4v4h-4zM72 60h8v4h-8zM48 64h4v4h-4zM68 64h4v4h-4zM48 68h4v4h-4zM68 68h4v4h-4zM48 72h4v4h-4zM68 72h4v4h-4zM48 76h4v4h-4zM72 76h20v4h-20zM48 80h4v4h-4zM96 80h8v4h-8zM48 84h4v4h-4zM104 84h8v4h-8zM44 88h4v4h-4zM108 88h4v4h-4zM48 92h4v4h-4zM108 92h4v4h-4zM104 96h8v4h-8zM96 100h8v4h-8zM76 104h16v4h-16z"/><path fill="#ffffa3" d="M92 36h4v4h-4zM92 40h4v4h-4zM92 44h4v4h-4zM48 52h4v4h-4zM48 56h4v4h-4zM80 56h4v4h-4zM52 60h4v4h-4zM68 60h4v4h-4zM52 64h4v4h-4zM64 64h4v4h-4zM52 68h4v4h-4zM64 68h4v4h-4zM52 72h4v4h-4zM64 72h4v4h-4zM52 76h4v4h-4zM68 76h4v4h-4zM52 80h4v4h-4zM88 80h8v4h-8zM100 84h4v4h-4zM48 88h4v4h-4zM104 88h4v4h-4zM52 92h4v4h-4zM104 92h4v4h-4zM56 96h4v4h-4zM100 96h4v4h-4zM64 100h8v4h-8zM84 100h12v4h-12z"/><path fill="#ffff99" d="M88 36h4v4h-4zM48 48h4v4h-4zM88 48h4v4h-4zM84 52h4v4h-4zM52 56h4v4h-4zM72 56h8v4h-8zM64 60h4v4h-4zM56 64h8v4h-8zM56 68h8v4h-8zM56 72h8v4h-8zM56 76h12v4h-12zM56 80h4v4h-4zM64 80h24v4h-24zM52 84h4v4h-4zM92 84h8v4h-8zM52 88h4v4h-4zM100 88h4v4h-4zM56 92h4v4h-4zM100 92h4v4h-4zM60 96h4v4h-4zM92 96h8v4h-8zM72 100h12v4h-12z"/><path fill="#ffff8e" d="M84 32h4v4h-4zM88 40h4v4h-4zM88 44h4v4h-4zM52 52h4v4h-4zM80 52h4v4h-4zM68 56h4v4h-4zM56 60h8v4h-8zM60 80h4v4h-4zM56 84h8v4h-8zM88 84h4v4h-4zM56 88h4v4h-4zM96 88h4v4h-4zM60 92h4v4h-4zM96 92h4v4h-4zM64 96h8v4h-8zM88 96h4v4h-4z"/><path fill="#ffff84" d="M80 32h4v4h-4zM84 36h4v4h-4zM84 48h4v4h-4zM76 52h4v4h-4zM56 56h12v4h-12zM64 84h24v4h-24zM60 88h4v4h-4zM88 88h8v4h-8zM64 92h4v4h-4zM88 92h8v4h-8zM72 96h16v4h-16z"/><path fill="#ffff7a" d="M84 40h4v4h-4zM84 44h4v4h-4zM52 48h4v4h-4zM56 52h4v4h-4zM64 88h12v4h-12zM80 88h8v4h-8zM68 92h8v4h-8zM80 92h8v4h-8z"/><path fill="#ffff70" d="M76 32h4v4h-4zM52 44h4v4h-4zM80 48h4v4h-4zM68 52h8v4h-8zM76 88h4v4h-4zM76 92h4v4h-4z"/><path fill="#ffff66" d="M64 32h4v4h-4zM72 32h4v4h-4zM56 36h4v4h-4zM80 36h4v4h-4zM56 48h4v4h-4zM60 52h8v4h-8z"/><path fill="#ffff5b" d="M68 32h4v4h-4zM80 40h4v4h-4zM80 44h4v4h-4zM76 48h4v4h-4z"/><path fill="#ffff51" d="M76 36h4v4h-4zM56 40h4v4h-4zM56 44h4v4h-4zM60 48h4v4h-4zM72 48h4v4h-4z"/><path fill="#ffff47" d="M60 36h4v4h-4zM76 44h4v4h-4zM64 48h8v4h-8z"/><path fill="#ffff3d" d="M64 36h4v4h-4zM72 36h4v4h-4zM76 40h4v4h-4z"/><path fill="#ffff32" d="M68 36h4v4h-4zM60 40h4v4h-4zM60 44h4v4h-4zM72 44h4v4h-4z"/><path fill="#ffff28" d="M72 40h4v4h-4zM64 44h8v4h-8z"/><path fill="#ffff1e" d="M64 40h8v4h-8z"/></g></g><use href="#lines"/><path d="M30.9,93.1h1.7v1.2h-1.7zM41.7,80.5h1.2v1.2h-1.2zM27,101h1.7v1.2h-1.7zM33.5,88.4h1.2v1.2h-1.2zM28.2,98h1.7v1.2h-1.7zM32,101.1h1.2v1.2h-1.2zM45.7,76.9h1.2v1.2h-1.2zM28.4,102.1h1.2v1.2h-1.2zM33,94.3h1.2v1.2h-1.2zM27.1,102.2h1.2v1.2h-1.2zM29.6,87h1.2v1.2h-1.2zM26.9,101.1h1.2v1.2h-1.2zM33.3,90.4h1.7v1.2h-1.7zM33.5,82.8h1.7v1.2h-1.7zM27.6,103.7h1.7v1.2h-1.7zM32.1,88.6h1.2v1.2h-1.2zM43.6,78.9h1.2v1.2h-1.2zM26.6,97.5h1.7v1.2h-1.7zM25.4,95.5h1.2v1.2h-1.2zM33.5,90.5h1.7v1.2h-1.7zM36.5,88.4h1.2v1.2h-1.2zM32.9,85h1.2v1.2h-1.2zM25.4,102.1h1.2v1.2h-1.2zM33.8,81.1h1.7v1.2h-1.7zM33.5,89.7h1.2v1.2h-1.2zM24.1,98.5h1.2v1.2h-1.2zM36.2,82.2h1.7v1.2h-1.7zM26.1,103.6h1.7v1.2h-1.7zM31.1,95.1h1.2v1.2h-1.2zM33.6,87.6h1.2v1.2h-1.2zM39.1,79.3h1.7v1.2h-1.7zM29.5,92.4h1.2v1.2h-1.2zM40.8,80.7h1.7v1.2h-1.7zM36.5,94.2h1.2v1.2h-1.2zM34.7,90.1h1.2v1.2h-1.2zM40.5,86.7h1.7v1.2h-1.7zM39.9,83.7h1.2v1.2h-1.2zM27.7,99.6h1.2v1.2h-1.2zM36.4,80.6h1.2v1.2h-1.2zM31.6,93h1.2v1.2h-1.2zM44.6,80.8h1.7v1.2h-1.7zM34.6,83.3h1.7v1.2h-1.7zM26,104.6h1.7v1.2h-1.7zM35.8,83.2h1.7v1.2h-1.7zM36.1,85.3h1.2v1.2h-1.2zM32.1,97.3h1.2v1.2h-1.2zM29.4,98.3h1.7v1.2h-1.7zM36.6,83.8h1.2v1.2h-1.2zM43.9,71.6h1.2v1.2h-1.2zM33.9,90.6h1.2v1.2h-1.2zM41.5,77.4h1.2v1.2h-1.2zM38.5,85.8h1.7v1.2h-1.7zM28.1,99.6h1.2v1.2h-1.2zM32.8,89.7h1.7v1.2h-1.7zM35.3,84.4h1.7v1.2h-1.7zM33.9,98.1h1.2v1.2h-1.2zM35.7,82.1h1.2v1.2h-1.2zM40.2,78.1h1.2v1.2h-1.2zM32.6,93.1h1.7v1.2h-1.7zM37.3,88.1h1.7v1.2h-1.7zM35.7,88h1.7v1.2h-1.7zM40.8,79.7h1.2v1.2h-1.2zM31,91.4h1.7v1.2h-1.7zM36,87.2h1.2v1.2h-1.2zM42,77.9h1.2v1.2h-1.2zM33.7,86.8h1.7v1.2h-1.7zM43.4,78.5h1.2v1.2h-1.2zM45.5,76.3h1.2v1.2h-1.2zM35.1,88.2h1.7v1.2h-1.7zM39,83.6h1.2v1.2h-1.2zM21.6,98h1.2v1.2h-1.2zM33.9,84.8h1.2v1.2h-1.2zM25.4,97.2h1.7v1.2h-1.7zM26.7,102.1h1.2v1.2h-1.2zM25.9,100.1h1.7v1.2h-1.7zM41,81.8h1.2v1.2h-1.2zM33.1,97.8h1.7v1.2h-1.7zM26,98.5h1.2v1.2h-1.2zM40.7,80.9h1.7v1.2h-1.7zM31.3,92.2h1.2v1.2h-1.2zM28,100.6h1.2v1.2h-1.2zM37,81.9h1.2v1.2h-1.2zM32.9,93.3h1.7v1.2h-1.7zM38.6,80.5h1.2v1.2h-1.2zM39.9,79.8h1.2v1.2h-1.2zM38,88.7h1.2v1.2h-1.2zM40.1,83h1.7v1.2h-1.7zM39.5,86h1.2v1.2h-1.2zM28.9,94.3h1.2v1.2h-1.2zM38.6,81.7h1.2v1.2h-1.2zM33.9,87.3h1.2v1.2h-1.2zM40.7,85.6h1.7v1.2h-1.7zM49.9,65.8h1.7v1.2h-1.7zM56.6,52.8h1.7v1.2h-1.7zM49.1,66.3h1.7v1.2h-1.7zM45.1,69.9h1.2v1.2h-1.2zM56.1,59.5h1.2v1.2h-1.2zM62.1,53.3h1.2v1.2h-1.2zM59.5,57.2h1.2v1.2h-1.2zM53.2,61.5h1.7v1.2h-1.7zM57.7,54.3h1.7v1.2h-1.7zM44.6,75.4h1.7v1.2h-1.7zM45.6,66.7h1.7v1.2h-1.7zM47.2,66.4h1.2v1.2h-1.2zM55.4,57.1h1.2v1.2h-1.2zM48.8,65.9h1.2v1.2h-1.2zM44.2,70h1.2v1.2h-1.2zM50.8,64h1.2v1.2h-1.2zM52.8,59.8h1.2v1.2h-1.2zM48.2,62.5h1.7v1.2h-1.7zM56.5,57.9h1.2v1.2h-1.2zM54.9,55.5h1.2v1.2h-1.2zM44.2,71.3h1.2v1.2h-1.2zM65.9,52.5h1.2v1.2h-1.2zM96.3,51.1h1.7v1.2h-1.7zM111.9,45.6h1.2v1.2h-1.2zM94.7,50h1.2v1.2h-1.2zM93.5,52.3h1.2v1.2h-1.2zM98.5,49.6h1.2v1.2h-1.2zM86.6,52.4h1.2v1.2h-1.2zM106.7,44.6h1.7v1.2h-1.7zM69.7,53.7h1.2v1.2h-1.2zM89.5,54.9h1.7v1.2h-1.7zM57,57.2h1.7v1.2h-1.7zM64.8,54.5h1.2v1.2h-1.2zM71.8,56.3h1.7v1.2h-1.7zM79.2,58.9h1.2v1.2h-1.2zM100.2,47.2h1.7v1.2h-1.7zM100.6,49.9h1.2v1.2h-1.2zM84.7,56.7h1.7v1.2h-1.7zM80.6,57.9h1.2v1.2h-1.2zM61,56.6h1.2v1.2h-1.2zM97.1,52.6h1.2v1.2h-1.2zM106.5,42.3h1.2v1.2h-1.2zM89,57.4h1.7v1.2h-1.7zM100.1,52.5h1.2v1.2h-1.2zM97.9,50.7h1.2v1.2h-1.2zM96.6,50.5h1.7v1.2h-1.7zM73.4,55.1h1.7v1.2h-1.7zM68.5,53.7h1.2v1.2h-1.2zM103.9,46.5h1.2v1.2h-1.2zM77,55.6h1.2v1.2h-1.2zM89,54.3h1.7v1.2h-1.7zM79.7,54.7h1.7v1.2h-1.7zM76.7,54.8h1.2v1.2h-1.2zM87.2,54.2h1.2v1.2h-1.2zM102.8,48.4h1.2v1.2h-1.2zM64.6,54.2h1.7v1.2h-1.7zM66.2,55.7h1.2v1.2h-1.2zM73.8,54.9h1.7v1.2h-1.7zM74.8,52.2h1.7v1.2h-1.7zM66.4,53.3h1.2v1.2h-1.2zM93.3,51.2h1.7v1.2h-1.7zM60.4,53.8h1.2v1.2h-1.2zM94.3,51.5h1.7v1.2h-1.7zM97.5,47.9h1.2v1.2h-1.2zM102.4,46.3h1.7v1.2h-1.7zM70.4,52.2h1.7v1.2h-1.7zM129.6,28.1h1.7v1.2h-1.7zM122.2,26.8h1.2v1.2h-1.2zM127.5,29.9h1.7v1.2h-1.7zM127.3,25h1.7v1.2h-1.7zM110.7,37.9h1.7v1.2h-1.7zM116.9,33.3h1.2v1.2h-1.2zM132.9,26.5h1.7v1.2h-1.7zM119.8,32.6h1.2v1.2h-1.2zM115.2,40.2h1.7v1.2h-1.7zM120.5,29h1.2v1.2h-1.2zM119.4,33.2h1.2v1.2h-1.2zM114.6,35.4h1.2v1.2h-1.2zM110.6,40h1.7v1.2h-1.7zM112.9,38.4h1.2v1.2h-1.2zM122,31.9h1.7v1.2h-1.7zM130.4,26.8h1.2v1.2h-1.2zM113.4,37.5h1.2v1.2h-1.2zM25.9,109.1h1.2v1.2h-1.2zM26.5,104.5h1.7v1.2h-1.7zM29.8,105.5h1.2v1.2h-1.2z" fill="#00ffff"/><g fill="none" stroke="#000" stroke-width="0.75"><circle cx="66.5" cy="31.6" r="4.5"/><circle cx="65.1" cy="41" r="4.5"/><circle cx="62.9" cy="50.2" r="3"/><circle cx="58.8" cy="58.5" r="3"/><circle cx="55.4" cy="67.2" r="4.5"/><circle cx="52.5" cy="75.7" r="4.5"/><circle cx="49.3" cy="84.4" r="4.5"/><circle cx="46.4" cy="93.4" r="4.5"/><circle cx="80" cy="36.7" r="3.5"/><circle cx="78.9" cy="47.1" r="3"/><circle cx="76" cy="54" r="3"/><circle cx="71.4" cy="62.7" r="3.2"/><circle cx="68.8" cy="70.9" r="3.2"/><circle cx="65.9" cy="80.3" r="3.2"/><circle cx="63.7" cy="89.1" r="3"/><circle cx="60.6" cy="97" r="5"/><circle cx="92.6" cy="39.5" r="3.5"/><circle cx="90.6" cy="49" r="3"/><circle cx="87.4" cy="57.3" r="3.2"/><circle cx="84.2" cy="65.9" r="3.2"/><circle cx="81.9" cy="74" r="3.2"/><circle cx="79.7" cy="83.7" r="3.2"/><circle cx="77.8" cy="93.1" r="3"/><circle cx="74.1" cy="101.9" r="5"/><circle cx="105.7" cy="43.1" r="3.5"/><circle cx="103.2" cy="52.3" r="3.2"/><circle cx="100.5" cy="60.9" r="3.2"/><circle cx="97.6" cy="70" r="3.2"/><circle cx="95.4" cy="78.8" r="3.2"/><circle cx="93.6" cy="88" r="3.2"/><circle cx="91.3" cy="96.9" r="3"/><circle cx="88" cy="104.9" r="5"/><circle cx="120" cy="47" r="3.5"/><circle cx="117.5" cy="55.9" r="3.2"/><circle cx="114.5" cy="65.1" r="3.2"/><circle cx="111.8" cy="73.9" r="3.2"/><circle cx="109.5" cy="82.5" r="3.2"/><circle cx="107" cy="91.8" r="3.2"/><circle cx="104.1" cy="100.6" r="3.2"/><circle cx="100.8" cy="108.8" r="5"/><circle cx="133.7" cy="52.6" r="3.5"/><circle cx="130.8" cy="61.4" r="3.2"/><circle cx="128" cy="70.1" r="3.2"/><circle cx="125.5" cy="78.7" r="3.2"/><circle cx="122.9" cy="87.1" r="3.2"/><circle cx="120.1" cy="96.1" r="3.2"/><circle cx="117.3" cy="104.8" r="4.3"/><circle cx="114.1" cy="113.3" r="5"/><circle cx="147.2" cy="56.8" r="3.5"/><circle cx="144.4" cy="65.6" r="3.2"/><circle cx="141.8" cy="74.3" r="3.2"/><circle cx="139.2" cy="82.7" r="3.2"/><circle cx="136.4" cy="91.8" r="3.2"/><circle cx="133.6" cy="100.6" r="3.2"/><circle cx="130.9" cy="109.4" r="4.3"/><circle cx="127.9" cy="117.9" r="5"/><circle cx="158.3" cy="64.4" r="3.5"/><circle cx="155.8" cy="72.8" r="3.9"/><circle cx="153.4" cy="81.1" r="3.9"/><circle cx="151.1" cy="89.2" r="3.9"/><circle cx="148.7" cy="97.4" r="3.9"/><circle cx="146.1" cy="105.8" r="3.9"/><circle cx="143.5" cy="113.8" r="3.9"/><circle cx="140.9" cy="122.2" r="5"/></g><path d="M64.5,30.3L66.5,31.6M66.5,31.6L63.7,31.7L65.4,29zM61.8,39.2L65.1,41M65.1,41L61.5,40.9L63.1,38.1zM59,48L62.9,50.2M62.9,50.2L59.2,50L60.8,47.2zM56.3,56.9L58.8,58.5M58.8,58.5L55.6,58.4L57.4,55.7zM53.5,65.7L55.4,67.2M55.4,67.2L52.6,67L54.5,64.5zM52,75.2h1v1h-1zM48.8,83.9h1v1h-1zM45.9,92.9h1v1h-1zM77.8,34.6L80,36.7M80,36.7L77,36L79.1,33.6zM75.1,43.3L78.9,47.1M78.9,47.1L75.4,45.9L77.7,43.7zM72.4,52.1L76,54M76,54L72.3,53.9L73.9,51.1zM69.7,60.8L71.4,62.7M71.4,62.7L68.6,62L70.9,59.8zM66.9,69.6L68.8,70.9M68.8,70.9L66,70.9L67.9,68.3zM64.2,78.3L65.9,80.3M65.9,80.3L63.1,79.4L65.5,77.4zM61.5,87.1L63.7,89.1M63.7,89.1L60.7,88.4L62.8,86.1zM60.1,96.5h1v1h-1zM92.1,39h1v1h-1zM88.2,47.1L90.6,49M90.6,49L87.5,48.5L89.5,46zM85.6,55.9L87.4,57.3M87.4,57.3L84.6,57.2L86.5,54.6zM83.7,65.4h1v1h-1zM81.4,73.5h1v1h-1zM77.5,82.3L79.7,83.7M79.7,83.7L76.8,83.7L78.6,81.1zM74.9,91.1L77.8,93.1M77.8,93.1L74.4,92.7L76.2,90.1zM72.2,99.9L74.1,101.9M74.1,101.9L71.2,101.1L73.5,99zM105.2,42.6h1v1h-1zM102.7,51.8h1v1h-1zM100,60.4h1v1h-1zM97.1,69.5h1v1h-1zM94.9,78.3h1v1h-1zM91.3,86.3L93.6,88M93.6,88L90.5,87.7L92.4,85.1zM88.6,95.1L91.3,96.9M91.3,96.9L88.1,96.6L89.9,94zM86,103.9L88,104.9M88,104.9L85.3,105.3L86.7,102.5zM119.5,46.5h1v1h-1zM117,55.4h1v1h-1zM114,64.6h1v1h-1zM111.3,73.4h1v1h-1zM109,82h1v1h-1zM105.1,90.4L107,91.8M107,91.8L104.2,91.7L106.1,89.1zM102.4,99.2L104.1,100.6M104.1,100.6L101.4,100.4L103.3,97.9zM100.3,108.3h1v1h-1zM133.2,52.1h1v1h-1zM130.3,60.9h1v1h-1zM127.5,69.6h1v1h-1zM125,78.2h1v1h-1zM122.4,86.6h1v1h-1zM119.6,95.6h1v1h-1zM116.8,104.3h1v1h-1zM113.6,112.8h1v1h-1zM146.7,56.3h1v1h-1zM143.9,65.1h1v1h-1zM141.3,73.8h1v1h-1zM138.7,82.2h1v1h-1zM135.9,91.3h1v1h-1zM133.1,100.1h1v1h-1zM130.4,108.9h1v1h-1zM127.4,117.4h1v1h-1zM157.8,63.9h1v1h-1zM155.3,72.3h1v1h-1zM152.9,80.6h1v1h-1zM150.6,88.7h1v1h-1zM148.2,96.9h1v1h-1zM145.6,105.3h1v1h-1zM143,113.3h1v1h-1zM140.4,121.7h1v1h-1z" fill="#000" stroke="#000" stroke-width="0.95"/><polygon points="58.9,23.4 147,51.3 155,54.6 160.5,58.3 165.1,63.6 145.6,127.2 38.4,95.2" fill="none" stroke="#222" stroke-width="0.7"/><use href="#trench"/></g><rect x="26.6" y="18.4" width="155.2" height="118.3" fill="none" stroke="#000" stroke-width="1.2"/><path d="M72.3,136.7v5M130.2,136.7v5" stroke="#000" stroke-width="0.8"/><text x="29.3" y="31.8" font-size="16.6">(k)</text><text x="49.3" y="132.6" font-size="9.8">2017.0-2017.5</text></g>
<g transform="translate(477,253.5)"><g clip-path="url(#cf)"><rect x="26.6" y="18.4" width="155.2" height="118.3" fill="#fff"/><polygon points="58.9,23.4 147,51.3 155,54.6 160.5,58.3 165.1,63.6 145.6,127.2 38.4,95.2" fill="#b9b9b9"/><g clip-path="url(#ci11)"><g filter="url(#bl)"><path fill="#ffffb7" d="M108 40h12v4h-12zM108 44h32v4h-32zM108 48h48v4h-48zM104 52h60v4h-60zM100 56h68v4h-68zM96 60h72v4h-72zM84 64h84v4h-84zM44 68h4v4h-4zM76 68h92v4h-92zM44 72h4v4h-4zM76 72h92v4h-92zM44 76h4v4h-4zM80 76h84v4h-84zM44 80h4v4h-4zM104 80h60v4h-60zM112 84h52v4h-52zM116 88h44v4h-44zM120 92h40v4h-40zM120 96h36v4h-36zM116 100h40v4h-40zM112 104h40v4h-40zM104 108h44v4h-44zM120 112h20v4h-20z"/><path fill="#ffffad" d="M104 40h4v4h-4zM104 44h4v4h-4zM104 48h4v4h-4zM100 52h4v4h-4zM92 56h8v4h-8zM84 60h12v4h-12zM44 64h8v4h-8zM72 64h12v4h-12zM48 68h4v4h-4zM68 68h8v4h-8zM48 72h4v4h-4zM68 72h8v4h-8zM48 76h4v4h-4zM68 76h12v4h-12zM48 80h4v4h-4zM80 80h24v4h-24zM44 84h8v4h-8zM100 84h12v4h-12zM44 88h4v4h-4zM108 88h8v4h-8zM112 92h8v4h-8zM112 96h8v4h-8zM108 100h8v4h-8zM100 104h12v4h-12zM88 108h16v4h-16z"/><path fill="#ffffa3" d="M100 36h4v4h-4zM100 40h4v4h-4zM100 44h4v4h-4zM100 48h4v4h-4zM96 52h4v4h-4zM48 56h4v4h-4zM88 56h4v4h-4zM48 60h4v4h-4zM76 60h8v4h-8zM52 64h4v4h-4zM68 64h4v4h-4zM52 68h4v4h-4zM64 68h4v4h-4zM52 72h4v4h-4zM64 72h4v4h-4zM52 76h4v4h-4zM64 76h4v4h-4zM52 80h4v4h-4zM68 80h12v4h-12zM52 84h4v4h-4zM92 84h8v4h-8zM48 88h4v4h-4zM100 88h8v4h-8zM48 92h4v4h-4zM104 92h8v4h-8zM104 96h8v4h-8zM100 100h8v4h-8zM92 104h8v4h-8z"/><path fill="#ffff99" d="M96 36h4v4h-4zM96 40h4v4h-4zM96 44h4v4h-4zM96 48h4v4h-4zM92 52h4v4h-4zM84 56h4v4h-4zM52 60h4v4h-4zM68 60h8v4h-8zM56 64h12v4h-12zM56 68h8v4h-8zM56 72h8v4h-8zM56 76h8v4h-8zM56 80h12v4h-12zM56 84h8v4h-8zM68 84h24v4h-24zM52 88h4v4h-4zM96 88h4v4h-4zM52 92h4v4h-4zM100 92h4v4h-4zM100 96h4v4h-4zM96 100h4v4h-4zM76 104h16v4h-16z"/><path fill="#ffff8e" d="M92 36h4v4h-4zM92 48h4v4h-4zM48 52h4v4h-4zM88 52h4v4h-4zM52 56h4v4h-4zM80 56h4v4h-4zM56 60h12v4h-12zM64 84h4v4h-4zM56 88h8v4h-8zM92 88h4v4h-4zM56 92h4v4h-4zM96 92h4v4h-4zM56 96h4v4h-4zM96 96h4v4h-4zM64 100h4v4h-4zM92 100h4v4h-4z"/><path fill="#ffff84" d="M92 40h4v4h-4zM92 44h4v4h-4zM48 48h4v4h-4zM52 52h4v4h-4zM56 56h4v4h-4zM72 56h8v4h-8zM64 88h28v4h-28zM60 92h4v4h-4zM92 92h4v4h-4zM60 96h4v4h-4zM92 96h4v4h-4zM68 100h24v4h-24z"/><path fill="#ffff7a" d="M84 32h4v4h-4zM88 36h4v4h-4zM88 48h4v4h-4zM84 52h4v4h-4zM60 56h12v4h-12zM64 92h8v4h-8zM88 92h4v4h-4zM64 96h8v4h-8zM88 96h4v4h-4z"/><path fill="#ffff70" d="M80 32h4v4h-4zM52 48h4v4h-4zM56 52h4v4h-4zM80 52h4v4h-4zM72 92h16v4h-16zM72 96h16v4h-16z"/><path fill="#ffff66" d="M64 32h4v4h-4zM76 32h4v4h-4zM88 40h4v4h-4zM52 44h4v4h-4zM88 44h4v4h-4zM76 52h4v4h-4z"/><path fill="#ffff5b" d="M68 32h8v4h-8zM56 36h4v4h-4zM84 36h4v4h-4zM84 48h4v4h-4zM60 52h8v4h-8zM72 52h4v4h-4z"/><path fill="#ffff51" d="M84 40h4v4h-4zM84 44h4v4h-4zM56 48h4v4h-4zM68 52h4v4h-4z"/><path fill="#ffff47" d="M60 36h4v4h-4zM80 36h4v4h-4zM56 40h4v4h-4zM56 44h4v4h-4zM80 48h4v4h-4z"/><path fill="#ffff3d" d="M76 36h4v4h-4zM60 48h4v4h-4zM76 48h4v4h-4z"/><path fill="#ffff32" d="M64 36h12v4h-12zM80 40h4v4h-4zM80 44h4v4h-4zM64 48h4v4h-4z"/><path fill="#ffff28" d="M60 40h4v4h-4zM60 44h4v4h-4zM68 48h8v4h-8z"/><path fill="#ffff1e" d="M64 40h4v4h-4zM76 40h4v4h-4zM76 44h4v4h-4z"/><path fill="#ffff14" d="M68 40h8v4h-8zM64 44h4v4h-4zM72 44h4v4h-4z"/><path fill="#ffff0a" d="M68 44h4v4h-4z"/></g></g><use href="#lines"/><path d="M44.3,83.9h1.7v1.2h-1.7zM29.4,95.3h1.2v1.2h-1.2zM37,83.3h1.7v1.2h-1.7zM27.5,90.6h1.2v1.2h-1.2zM22.6,100.4h1.2v1.2h-1.2zM42,83.7h1.7v1.2h-1.7zM32.1,93.4h1.2v1.2h-1.2zM26.4,91.3h1.2v1.2h-1.2zM43.2,80.3h1.7v1.2h-1.7zM46.5,75.2h1.2v1.2h-1.2zM43.3,79.4h1.2v1.2h-1.2zM35.2,91.8h1.7v1.2h-1.7zM41.5,84.6h1.2v1.2h-1.2zM33.6,91.3h1.2v1.2h-1.2zM43.1,80.1h1.7v1.2h-1.7zM29.5,103.9h1.7v1.2h-1.7zM28.7,103.3h1.2v1.2h-1.2zM42.6,78.8h1.2v1.2h-1.2zM33.1,93.5h1.2v1.2h-1.2zM34.8,88.4h1.2v1.2h-1.2zM29,100.1h1.7v1.2h-1.7zM39.5,79.6h1.7v1.2h-1.7zM38.6,82.6h1.2v1.2h-1.2zM39.2,81.8h1.2v1.2h-1.2zM34.1,79.5h1.7v1.2h-1.7zM32.5,91.1h1.2v1.2h-1.2zM39.3,79.5h1.2v1.2h-1.2zM37.1,84.7h1.2v1.2h-1.2zM37.6,80.8h1.2v1.2h-1.2zM31.1,99.8h1.7v1.2h-1.7zM39.8,82.8h1.2v1.2h-1.2zM33.8,85.9h1.7v1.2h-1.7zM38,80.1h1.2v1.2h-1.2zM35.3,87.7h1.7v1.2h-1.7zM45.2,79.1h1.2v1.2h-1.2zM25.4,99.6h1.7v1.2h-1.7zM35.5,84.6h1.7v1.2h-1.7zM31.1,91h1.7v1.2h-1.7zM33.6,99.8h1.7v1.2h-1.7zM37.3,88.8h1.2v1.2h-1.2zM40.2,87.8h1.7v1.2h-1.7zM39.8,80.4h1.2v1.2h-1.2zM35,87.3h1.7v1.2h-1.7zM38.9,78.7h1.2v1.2h-1.2zM37.1,81h1.2v1.2h-1.2zM27.2,98.9h1.7v1.2h-1.7zM29.9,98.3h1.2v1.2h-1.2zM37.8,80.6h1.7v1.2h-1.7zM24.3,101.5h1.2v1.2h-1.2zM32.9,91.6h1.2v1.2h-1.2zM39,77.3h1.7v1.2h-1.7zM40.6,80h1.2v1.2h-1.2zM41.9,78.7h1.2v1.2h-1.2zM40.4,80.4h1.2v1.2h-1.2zM42.1,81h1.2v1.2h-1.2zM44.9,75h1.2v1.2h-1.2zM28.2,95.1h1.2v1.2h-1.2zM26.4,96.9h1.2v1.2h-1.2zM34.5,93.2h1.7v1.2h-1.7zM27.8,94.3h1.7v1.2h-1.7zM37.2,87.1h1.7v1.2h-1.7zM25.1,106.2h1.2v1.2h-1.2zM34.2,86.5h1.2v1.2h-1.2zM30.8,98.1h1.2v1.2h-1.2zM34.8,88.5h1.2v1.2h-1.2zM34.4,90h1.7v1.2h-1.7zM36.8,87h1.7v1.2h-1.7zM30.9,92.3h1.2v1.2h-1.2zM24.6,96.4h1.2v1.2h-1.2zM34.4,92.1h1.2v1.2h-1.2zM42.4,73.8h1.2v1.2h-1.2zM37,82h1.2v1.2h-1.2zM41.7,83.5h1.7v1.2h-1.7zM34.2,96.8h1.2v1.2h-1.2zM37.2,81.3h1.2v1.2h-1.2zM27.9,93.1h1.7v1.2h-1.7zM32.1,84.2h1.2v1.2h-1.2zM43.1,83.6h1.2v1.2h-1.2zM31.5,95.1h1.2v1.2h-1.2zM29.8,96.9h1.2v1.2h-1.2zM41.6,79.8h1.7v1.2h-1.7zM29.1,97.5h1.2v1.2h-1.2zM39,90h1.2v1.2h-1.2zM33,89.6h1.7v1.2h-1.7zM36.3,85.5h1.2v1.2h-1.2zM37.6,87.3h1.7v1.2h-1.7zM32.3,95.7h1.7v1.2h-1.7zM33.1,101.4h1.2v1.2h-1.2zM27.1,90.1h1.7v1.2h-1.7zM41.5,78.6h1.2v1.2h-1.2zM39.6,80.1h1.2v1.2h-1.2zM29.7,96h1.2v1.2h-1.2zM43.4,74.4h1.7v1.2h-1.7zM46,63.2h1.2v1.2h-1.2zM46.7,66.5h1.2v1.2h-1.2zM46.6,72.9h1.2v1.2h-1.2zM46.6,62.7h1.2v1.2h-1.2zM42.2,71.4h1.7v1.2h-1.7zM57.9,57.5h1.7v1.2h-1.7zM41.9,72.8h1.2v1.2h-1.2zM46.6,69.2h1.7v1.2h-1.7zM45.1,69.9h1.2v1.2h-1.2zM48.6,70.3h1.2v1.2h-1.2zM52.5,54.5h1.2v1.2h-1.2zM52.5,57.3h1.7v1.2h-1.7zM47.9,66.3h1.2v1.2h-1.2zM52.5,62h1.7v1.2h-1.7zM46.7,65h1.7v1.2h-1.7zM57.1,60.8h1.7v1.2h-1.7zM42.9,73.9h1.2v1.2h-1.2zM55.9,54h1.2v1.2h-1.2zM45.2,69.1h1.7v1.2h-1.7zM48.3,63.1h1.2v1.2h-1.2zM94.1,53h1.2v1.2h-1.2zM97.7,49.6h1.7v1.2h-1.7zM84.1,60h1.2v1.2h-1.2zM92.7,50.6h1.2v1.2h-1.2zM72.2,55.4h1.2v1.2h-1.2zM69.4,54.4h1.2v1.2h-1.2zM68.1,58.1h1.2v1.2h-1.2zM91.6,54.8h1.7v1.2h-1.7zM80.1,55h1.7v1.2h-1.7zM60.1,53.4h1.2v1.2h-1.2zM70.3,52.9h1.7v1.2h-1.7zM108,43.1h1.7v1.2h-1.7zM97.9,49.4h1.7v1.2h-1.7zM64.6,56.8h1.7v1.2h-1.7zM104.8,47.7h1.2v1.2h-1.2zM93.6,52.7h1.7v1.2h-1.7zM96.2,50.5h1.2v1.2h-1.2zM91.6,54.9h1.2v1.2h-1.2zM81.4,53.8h1.2v1.2h-1.2zM98.3,51h1.2v1.2h-1.2zM65,56.3h1.7v1.2h-1.7zM96.1,46.8h1.2v1.2h-1.2zM102.7,48h1.2v1.2h-1.2zM60.6,56.4h1.7v1.2h-1.7zM105.6,47.1h1.7v1.2h-1.7zM103.8,41.3h1.7v1.2h-1.7zM68,52.9h1.7v1.2h-1.7zM87.2,56h1.2v1.2h-1.2zM63.9,53h1.2v1.2h-1.2zM84.3,57h1.2v1.2h-1.2zM70.5,58.3h1.2v1.2h-1.2zM95.5,54.9h1.7v1.2h-1.7zM58.5,52.9h1.7v1.2h-1.7zM74.9,57.4h1.7v1.2h-1.7zM97.7,49.8h1.7v1.2h-1.7zM96.3,49.3h1.7v1.2h-1.7zM75.8,54.6h1.2v1.2h-1.2zM96.3,52.2h1.7v1.2h-1.7zM80.5,60.7h1.2v1.2h-1.2zM84.7,60.1h1.7v1.2h-1.7zM79.4,54.5h1.2v1.2h-1.2zM79.4,55.6h1.2v1.2h-1.2zM102.7,46.7h1.2v1.2h-1.2zM73.8,55.5h1.2v1.2h-1.2zM100.9,49.1h1.7v1.2h-1.7zM73.1,51.7h1.2v1.2h-1.2zM90.6,55h1.2v1.2h-1.2zM62.5,53.9h1.2v1.2h-1.2zM94,54.9h1.7v1.2h-1.7zM93.6,50.5h1.2v1.2h-1.2zM67,53.8h1.2v1.2h-1.2zM105.4,46.8h1.7v1.2h-1.7zM64.6,53.5h1.2v1.2h-1.2zM70.8,51.2h1.7v1.2h-1.7zM123.7,28.2h1.2v1.2h-1.2zM128.6,19.9h1.7v1.2h-1.7zM115.4,37.5h1.7v1.2h-1.7zM124.5,32.9h1.2v1.2h-1.2zM111.9,41.3h1.2v1.2h-1.2zM129.1,23.5h1.7v1.2h-1.7zM118,36.9h1.7v1.2h-1.7zM127.7,29h1.2v1.2h-1.2zM122.1,28.6h1.7v1.2h-1.7zM120,35.5h1.2v1.2h-1.2zM114.3,40.6h1.2v1.2h-1.2zM128.4,26.2h1.2v1.2h-1.2zM109.5,45.7h1.2v1.2h-1.2zM27,109.9h1.2v1.2h-1.2zM26.2,103.2h1.7v1.2h-1.7zM24.4,106.8h1.7v1.2h-1.7z" fill="#00ffff"/><g fill="none" stroke="#000" stroke-width="0.75"><circle cx="66.9" cy="30.1" r="4.5"/><circle cx="65.6" cy="39.7" r="4.5"/><circle cx="63.8" cy="48.4" r="3"/><circle cx="59.4" cy="57" r="3"/><circle cx="55.9" cy="65.5" r="4.5"/><circle cx="52.9" cy="74.1" r="4.5"/><circle cx="49.7" cy="83.5" r="4.5"/><circle cx="47" cy="92.5" r="4.5"/><circle cx="81.1" cy="34.6" r="3.5"/><circle cx="81.2" cy="43.7" r="3"/><circle cx="77.2" cy="52.3" r="3"/><circle cx="72.4" cy="61.6" r="3.2"/><circle cx="69.3" cy="69.5" r="3.2"/><circle cx="66.7" cy="78.1" r="3.2"/><circle cx="64.3" cy="86.9" r="3.2"/><circle cx="61.1" cy="96.1" r="5"/><circle cx="93.6" cy="38.7" r="3.5"/><circle cx="92.3" cy="47.3" r="3"/><circle cx="88.5" cy="56" r="3"/><circle cx="84.9" cy="64.7" r="3.2"/><circle cx="82" cy="73.8" r="3.2"/><circle cx="79.7" cy="81.8" r="3.2"/><circle cx="78.2" cy="90.8" r="3"/><circle cx="75.6" cy="99.8" r="3"/><circle cx="106.1" cy="41.8" r="3.5"/><circle cx="104.1" cy="51.2" r="3.2"/><circle cx="101.1" cy="60.2" r="3.2"/><circle cx="98.4" cy="68.8" r="3.2"/><circle cx="95.7" cy="77.1" r="3.2"/><circle cx="93.8" cy="86.7" r="3.2"/><circle cx="92.1" cy="95.1" r="3"/><circle cx="88.9" cy="104.1" r="5"/><circle cx="120.3" cy="46" r="3.5"/><circle cx="117.9" cy="55.1" r="3.2"/><circle cx="115.1" cy="63.8" r="3.2"/><circle cx="112.4" cy="72.8" r="3.2"/><circle cx="109.7" cy="81.6" r="3.2"/><circle cx="107.4" cy="90.1" r="3.2"/><circle cx="104.9" cy="99.3" r="3.2"/><circle cx="101.2" cy="108.4" r="5"/><circle cx="134.2" cy="51.5" r="3.5"/><circle cx="131.4" cy="60" r="3.2"/><circle cx="128.6" cy="69.1" r="3.2"/><circle cx="125.9" cy="77.6" r="3.2"/><circle cx="123.1" cy="86" r="3.2"/><circle cx="120.5" cy="95.3" r="3.2"/><circle cx="117.8" cy="104.1" r="4.3"/><circle cx="114.5" cy="112.5" r="5"/><circle cx="147.7" cy="55.8" r="3.5"/><circle cx="144.9" cy="64.7" r="3.2"/><circle cx="142.2" cy="73.6" r="3.2"/><circle cx="139.5" cy="82.1" r="3.2"/><circle cx="136.8" cy="90.9" r="3.2"/><circle cx="134.1" cy="99.7" r="3.2"/><circle cx="131.4" cy="108.6" r="4.3"/><circle cx="128.3" cy="117.1" r="5"/><circle cx="158.8" cy="63" r="3.5"/><circle cx="156.4" cy="71.6" r="3.9"/><circle cx="154" cy="80" r="3.9"/><circle cx="151.5" cy="87.9" r="3.9"/><circle cx="149.1" cy="96.4" r="3.9"/><circle cx="146.6" cy="105" r="3.9"/><circle cx="143.8" cy="112.8" r="3.9"/><circle cx="141.4" cy="121.4" r="5"/></g><path d="M64.5,30.3L66.9,30.1M66.9,30.1L64.7,31.9L64.4,28.7zM61.8,39.2L65.6,39.7M65.6,39.7L62.2,40.8L62.6,37.7zM59,48L63.8,48.4M63.8,48.4L60.3,49.7L60.6,46.5zM56.3,56.9L59.4,57M59.4,57L56.6,58.5L56.7,55.3zM53.5,65.7L55.9,65.5M55.9,65.5L53.7,67.3L53.4,64.1zM52.4,73.6h1v1h-1zM49.2,83h1v1h-1zM46.5,92h1v1h-1zM77.8,34.6L81.1,34.6M81.1,34.6L78.2,36.2L78.2,33zM75.1,43.3L81.2,43.7M81.2,43.7L77.8,45.1L78,41.9zM72.4,52.1L77.2,52.3M77.2,52.3L73.8,53.8L74,50.6zM69.7,60.8L72.4,61.6M72.4,61.6L69.4,62.4L70.3,59.3zM66.9,69.6L69.3,69.5M69.3,69.5L67.1,71.2L66.9,68zM64.2,78.3L66.7,78.1M66.7,78.1L64.5,79.9L64.1,76.7zM61.5,87.1L64.3,86.9M64.3,86.9L61.8,88.6L61.6,85.4zM58.8,95.8L61.1,96.1M61.1,96.1L58.6,97.4L59,94.2zM90.9,38.3L93.6,38.7M93.6,38.7L90.8,39.9L91.3,36.7zM88.2,47.1L92.3,47.3M92.3,47.3L88.9,48.7L89.1,45.5zM85.6,55.9L88.5,56M88.5,56L85.8,57.5L85.9,54.3zM84.4,64.2h1v1h-1zM81.5,73.3h1v1h-1zM77.5,82.3L79.7,81.8M79.7,81.8L77.9,83.9L77.2,80.7zM74.9,91.1L78.2,90.8M78.2,90.8L75.4,92.7L75.2,89.5zM72.2,99.9L75.6,99.8M75.6,99.8L72.7,101.5L72.6,98.3zM105.6,41.3h1v1h-1zM101.9,51.1L104.1,51.2M104.1,51.2L101.8,52.7L101.9,49.5zM100.6,59.7h1v1h-1zM97.9,68.3h1v1h-1zM95.2,76.6h1v1h-1zM91.3,86.3L93.8,86.7M93.8,86.7L91.1,87.9L91.7,84.7zM88.6,95.1L92.1,95.1M92.1,95.1L89.2,96.7L89.1,93.5zM86,103.9L88.9,104.1M88.9,104.1L86.2,105.5L86.4,102.3zM119.8,45.5h1v1h-1zM117.4,54.6h1v1h-1zM114.6,63.3h1v1h-1zM111.9,72.3h1v1h-1zM109.2,81.1h1v1h-1zM105.1,90.4L107.4,90.1M107.4,90.1L105.3,92L105,88.8zM102.4,99.2L104.9,99.3M104.9,99.3L102.4,100.8L102.6,97.6zM100.7,107.9h1v1h-1zM133.7,51h1v1h-1zM130.9,59.5h1v1h-1zM128.1,68.6h1v1h-1zM125.4,77.1h1v1h-1zM122.6,85.5h1v1h-1zM120,94.8h1v1h-1zM117.3,103.6h1v1h-1zM114,112h1v1h-1zM147.2,55.3h1v1h-1zM144.4,64.2h1v1h-1zM141.7,73.1h1v1h-1zM139,81.6h1v1h-1zM136.3,90.4h1v1h-1zM133.6,99.2h1v1h-1zM130.9,108.1h1v1h-1zM127.8,116.6h1v1h-1zM158.3,62.5h1v1h-1zM155.9,71.1h1v1h-1zM153.5,79.5h1v1h-1zM151,87.4h1v1h-1zM148.6,95.9h1v1h-1zM146.1,104.5h1v1h-1zM143.3,112.3h1v1h-1zM140.9,120.9h1v1h-1z" fill="#000" stroke="#000" stroke-width="0.95"/><polygon points="58.9,23.4 147,51.3 155,54.6 160.5,58.3 165.1,63.6 145.6,127.2 38.4,95.2" fill="none" stroke="#222" stroke-width="0.7"/><use href="#trench"/></g><rect x="26.6" y="18.4" width="155.2" height="118.3" fill="none" stroke="#000" stroke-width="1.2"/><path d="M72.3,136.7v5M130.2,136.7v5M181.8,60.5h5M181.8,129.8h5" stroke="#000" stroke-width="0.8"/><text x="29.3" y="31.8" font-size="16.6">(l)</text><text x="49.3" y="132.6" font-size="9.8">2017.5-2018.0</text></g>
<text x="60.1" y="9" font-size="11.9">137<tspan font-size="9" dy="-2.9" dx="0.6">°</tspan></text><text x="60.1" y="408" font-size="11.9">137<tspan font-size="9" dy="-2.9" dx="0.6">°</tspan></text><text x="219.1" y="9" font-size="11.9">137<tspan font-size="9" dy="-2.9" dx="0.6">°</tspan></text><text x="219.1" y="408" font-size="11.9">137<tspan font-size="9" dy="-2.9" dx="0.6">°</tspan></text><text x="378.1" y="9" font-size="11.9">137<tspan font-size="9" dy="-2.9" dx="0.6">°</tspan></text><text x="378.1" y="408" font-size="11.9">137<tspan font-size="9" dy="-2.9" dx="0.6">°</tspan></text><text x="537.1" y="9" font-size="11.9">137<tspan font-size="9" dy="-2.9" dx="0.6">°</tspan></text><text x="537.1" y="408" font-size="11.9">137<tspan font-size="9" dy="-2.9" dx="0.6">°</tspan></text><text x="118" y="9" font-size="11.9">138<tspan font-size="9" dy="-2.9" dx="0.6">°</tspan></text><text x="118" y="408" font-size="11.9">138<tspan font-size="9" dy="-2.9" dx="0.6">°</tspan></text><text x="277" y="9" font-size="11.9">138<tspan font-size="9" dy="-2.9" dx="0.6">°</tspan></text><text x="277" y="408" font-size="11.9">138<tspan font-size="9" dy="-2.9" dx="0.6">°</tspan></text><text x="436" y="9" font-size="11.9">138<tspan font-size="9" dy="-2.9" dx="0.6">°</tspan></text><text x="436" y="408" font-size="11.9">138<tspan font-size="9" dy="-2.9" dx="0.6">°</tspan></text><text x="595" y="9" font-size="11.9">138<tspan font-size="9" dy="-2.9" dx="0.6">°</tspan></text><text x="595" y="408" font-size="11.9">138<tspan font-size="9" dy="-2.9" dx="0.6">°</tspan></text><text x="17.2" y="64.6" font-size="12.2" text-anchor="end">35<tspan font-size="9" dy="-2.9" dx="0.6">°</tspan></text><text x="668.2" y="64.6" font-size="12.2">35<tspan font-size="9" dy="-2.9" dx="0.6">°</tspan></text><text x="17.2" y="191.3" font-size="12.2" text-anchor="end">35<tspan font-size="9" dy="-2.9" dx="0.6">°</tspan></text><text x="668.2" y="191.3" font-size="12.2">35<tspan font-size="9" dy="-2.9" dx="0.6">°</tspan></text><text x="17.2" y="318.1" font-size="12.2" text-anchor="end">35<tspan font-size="9" dy="-2.9" dx="0.6">°</tspan></text><text x="668.2" y="318.1" font-size="12.2">35<tspan font-size="9" dy="-2.9" dx="0.6">°</tspan></text><text x="17.2" y="133.9" font-size="12.2" text-anchor="end">34<tspan font-size="9" dy="-2.9" dx="0.6">°</tspan></text><text x="668.2" y="133.9" font-size="12.2">34<tspan font-size="9" dy="-2.9" dx="0.6">°</tspan></text><text x="17.2" y="260.7" font-size="12.2" text-anchor="end">34<tspan font-size="9" dy="-2.9" dx="0.6">°</tspan></text><text x="668.2" y="260.7" font-size="12.2">34<tspan font-size="9" dy="-2.9" dx="0.6">°</tspan></text><text x="17.2" y="387.4" font-size="12.2" text-anchor="end">34<tspan font-size="9" dy="-2.9" dx="0.6">°</tspan></text><text x="668.2" y="387.4" font-size="12.2">34<tspan font-size="9" dy="-2.9" dx="0.6">°</tspan></text>
<defs><linearGradient id="cb" x1="0" x2="1" y1="0" y2="0">
<stop offset="0.0000" stop-color="#ffffff"/>
<stop offset="0.0333" stop-color="#ffffe5"/>
<stop offset="0.0667" stop-color="#ffffcc"/>
<stop offset="0.1000" stop-color="#ffffb2"/>
<stop offset="0.1333" stop-color="#ffff99"/>
<stop offset="0.1667" stop-color="#ffff7f"/>
<stop offset="0.2000" stop-color="#ffff66"/>
<stop offset="0.2333" stop-color="#ffff4c"/>
<stop offset="0.2667" stop-color="#ffff32"/>
<stop offset="0.3000" stop-color="#ffff19"/>
<stop offset="0.3333" stop-color="#ffff00"/>
<stop offset="0.3667" stop-color="#ffe900"/>
<stop offset="0.4000" stop-color="#ffd400"/>
<stop offset="0.4333" stop-color="#ffbe00"/>
<stop offset="0.4667" stop-color="#ffa900"/>
<stop offset="0.5000" stop-color="#ff9300"/>
<stop offset="0.5333" stop-color="#ff7d00"/>
<stop offset="0.5667" stop-color="#ff6800"/>
<stop offset="0.6000" stop-color="#ff5300"/>
<stop offset="0.6333" stop-color="#ff3d00"/>
<stop offset="0.6667" stop-color="#ff2800"/>
<stop offset="0.7000" stop-color="#e02400"/>
<stop offset="0.7333" stop-color="#c71f00"/>
<stop offset="0.7667" stop-color="#af1c00"/>
<stop offset="0.8000" stop-color="#961800"/>
<stop offset="0.8333" stop-color="#7d1400"/>
<stop offset="0.8667" stop-color="#630f00"/>
<stop offset="0.9000" stop-color="#4a0b00"/>
<stop offset="0.9333" stop-color="#320800"/>
<stop offset="0.9667" stop-color="#190400"/>
<stop offset="1.0000" stop-color="#000000"/>
</linearGradient></defs>
<rect x="284.4" y="413.5" width="116" height="6.9" fill="url(#cb)" stroke="#000" stroke-width="1"/>
<path d="M284.4,420.4v4.5M323.1,413.5V420.4M323.1,420.4v4.5M361.7,413.5V420.4M361.7,420.4v4.5M400.4,420.4v4.5" stroke="#000" stroke-width="0.8" fill="none"/>
<text x="284.4" y="438" font-size="10.9" text-anchor="middle">0</text>
<text x="323.1" y="438" font-size="10.9" text-anchor="middle">1</text>
<text x="361.7" y="438" font-size="10.9" text-anchor="middle">2</text>
<text x="400.4" y="438" font-size="10.9" text-anchor="middle">3</text>
<text x="342.1" y="452.6" font-size="12.2" text-anchor="middle">slip[cm]</text>
</svg></body></html>
